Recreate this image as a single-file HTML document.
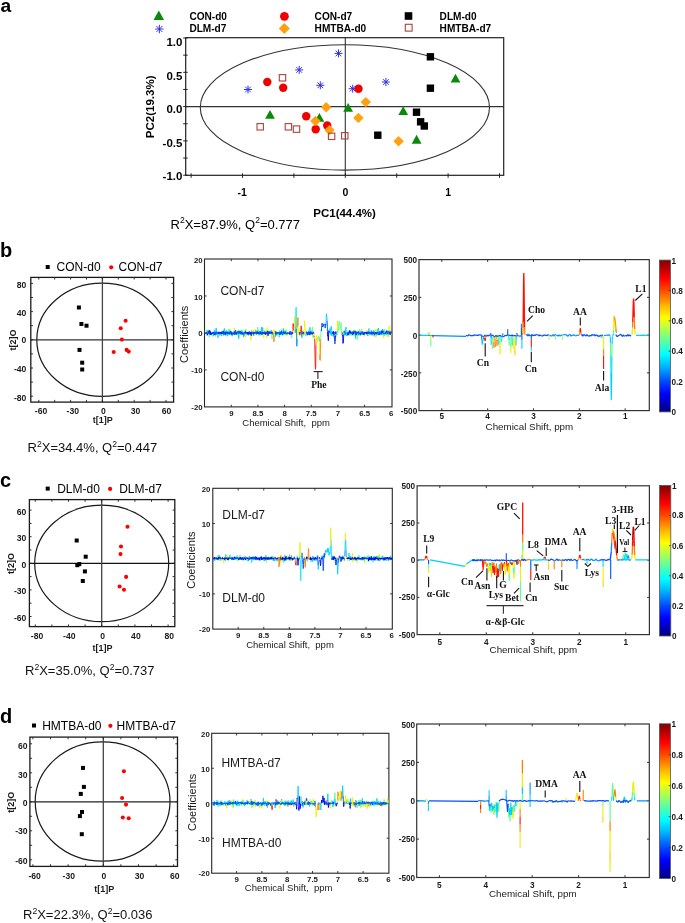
<!DOCTYPE html>
<html><head><meta charset="utf-8"><title>Figure</title>
<style>html,body{margin:0;padding:0;background:#fff;}svg{display:block;filter:blur(0.35px);}</style></head>
<body><svg width="685" height="923" viewBox="0 0 685 923">
<rect width="685" height="923" fill="#fff"/>
<text x="0.6" y="11.6" font-size="19.2" font-family='"Liberation Sans", sans-serif' font-weight="bold" text-anchor="start" fill="#000">a</text>
<ellipse cx="344.9" cy="107.4" rx="144.6" ry="62.7" fill="none" stroke="#333" stroke-width="1.1"/>
<line x1="185.7" y1="106.6" x2="503.7" y2="106.6" stroke="#333" stroke-width="1.1"/>
<line x1="345.3" y1="37.7" x2="345.3" y2="175.3" stroke="#333" stroke-width="1.1"/>
<rect x="185.7" y="37.7" width="318" height="137.6" fill="none" stroke="#222" stroke-width="1.2"/>
<line x1="183.2" y1="175.2" x2="187.7" y2="175.2" stroke="#222" stroke-width="1"/>
<line x1="183.2" y1="158.05" x2="187.7" y2="158.05" stroke="#222" stroke-width="1"/>
<line x1="183.2" y1="140.9" x2="187.7" y2="140.9" stroke="#222" stroke-width="1"/>
<line x1="183.2" y1="123.75" x2="187.7" y2="123.75" stroke="#222" stroke-width="1"/>
<line x1="183.2" y1="106.6" x2="187.7" y2="106.6" stroke="#222" stroke-width="1"/>
<line x1="183.2" y1="89.45" x2="187.7" y2="89.45" stroke="#222" stroke-width="1"/>
<line x1="183.2" y1="72.3" x2="187.7" y2="72.3" stroke="#222" stroke-width="1"/>
<line x1="183.2" y1="55.15" x2="187.7" y2="55.15" stroke="#222" stroke-width="1"/>
<line x1="183.2" y1="38" x2="187.7" y2="38" stroke="#222" stroke-width="1"/>
<line x1="191.1" y1="173.3" x2="191.1" y2="177.8" stroke="#222" stroke-width="1"/>
<line x1="242.5" y1="173.3" x2="242.5" y2="177.8" stroke="#222" stroke-width="1"/>
<line x1="293.9" y1="173.3" x2="293.9" y2="177.8" stroke="#222" stroke-width="1"/>
<line x1="345.3" y1="173.3" x2="345.3" y2="177.8" stroke="#222" stroke-width="1"/>
<line x1="396.7" y1="173.3" x2="396.7" y2="177.8" stroke="#222" stroke-width="1"/>
<line x1="448.1" y1="173.3" x2="448.1" y2="177.8" stroke="#222" stroke-width="1"/>
<line x1="499.5" y1="173.3" x2="499.5" y2="177.8" stroke="#222" stroke-width="1"/>
<text x="182.4" y="45.82" font-size="11.5" font-family='"Liberation Sans", sans-serif' font-weight="bold" text-anchor="end" fill="#000">1.0</text>
<text x="182.4" y="79.52" font-size="11.5" font-family='"Liberation Sans", sans-serif' font-weight="bold" text-anchor="end" fill="#000">0.5</text>
<text x="182.4" y="113.32" font-size="11.5" font-family='"Liberation Sans", sans-serif' font-weight="bold" text-anchor="end" fill="#000">0.0</text>
<text x="182.4" y="147.12" font-size="11.5" font-family='"Liberation Sans", sans-serif' font-weight="bold" text-anchor="end" fill="#000">-0.5</text>
<text x="182.4" y="180.12" font-size="11.5" font-family='"Liberation Sans", sans-serif' font-weight="bold" text-anchor="end" fill="#000">-1.0</text>
<text x="242.2" y="195.56" font-size="10.5" font-family='"Liberation Sans", sans-serif' font-weight="bold" text-anchor="middle" fill="#000">-1</text>
<text x="345.3" y="195.56" font-size="10.5" font-family='"Liberation Sans", sans-serif' font-weight="bold" text-anchor="middle" fill="#000">0</text>
<text x="448.2" y="195.56" font-size="10.5" font-family='"Liberation Sans", sans-serif' font-weight="bold" text-anchor="middle" fill="#000">1</text>
<text x="344.6" y="216.52" font-size="11.5" font-family='"Liberation Sans", sans-serif' font-weight="bold" text-anchor="middle" fill="#000">PC1(44.4%)</text>
<text x="149.7" y="110.92" font-size="11.5" font-family='"Liberation Sans", sans-serif' font-weight="bold" text-anchor="middle" fill="#000" transform="rotate(-90 149.7 106.8)">PC2(19.3%)</text>
<text x="170.5" y="228.6" font-size="13" font-family='"Liberation Sans", sans-serif'>R<tspan font-size="8.6" dy="-5.2">2</tspan><tspan dy="5.2">X=87.9%, Q</tspan><tspan font-size="8.6" dy="-5.2">2</tspan><tspan dy="5.2">=0.777</tspan></text>
<polygon points="158.8,10.53 153.55,19.98 164.05,19.98" fill="#0a8a0a"/>
<path d="M155.2 29L163.6 29M156.43 26.03L162.37 31.97M159.4 24.8L159.4 33.2M162.37 26.03L156.43 31.97" stroke="#2a2ae6" stroke-width="0.95" fill="none"/>
<circle cx="284.4" cy="16.3" r="4.4" fill="#f00000"/>
<polygon points="284.3,23 289.8,28.5 284.3,34 278.8,28.5" fill="#ffa010"/>
<rect x="404.7" y="12.2" width="7.6" height="7.6" fill="#000" stroke="none" stroke-width="1"/>
<rect x="405.3" y="24.3" width="6.8" height="6.8" fill="#fff" stroke="#b0403a" stroke-width="1.1"/>
<text x="189.4" y="20.3" font-size="10.1" font-family='"Liberation Sans", sans-serif' font-weight="bold" text-anchor="start" fill="#000">CON-d0</text>
<text x="189.4" y="32" font-size="10.1" font-family='"Liberation Sans", sans-serif' font-weight="bold" text-anchor="start" fill="#000">DLM-d7</text>
<text x="314.6" y="20.3" font-size="10.1" font-family='"Liberation Sans", sans-serif' font-weight="bold" text-anchor="start" fill="#000">CON-d7</text>
<text x="314.6" y="32" font-size="10.1" font-family='"Liberation Sans", sans-serif' font-weight="bold" text-anchor="start" fill="#000">HMTBA-d0</text>
<text x="439.6" y="20.3" font-size="10.1" font-family='"Liberation Sans", sans-serif' font-weight="bold" text-anchor="start" fill="#000">DLM-d0</text>
<text x="439.6" y="32" font-size="10.1" font-family='"Liberation Sans", sans-serif' font-weight="bold" text-anchor="start" fill="#000">HMTBA-d7</text>
<path d="M244 89.5L252 89.5M245.17 86.67L250.83 92.33M248 85.5L248 93.5M250.83 86.67L245.17 92.33" stroke="#2a2ae6" stroke-width="0.95" fill="none"/>
<path d="M295.2 69.9L303.2 69.9M296.37 67.07L302.03 72.73M299.2 65.9L299.2 73.9M302.03 67.07L296.37 72.73" stroke="#2a2ae6" stroke-width="0.95" fill="none"/>
<path d="M316.3 85.3L324.3 85.3M317.47 82.47L323.13 88.13M320.3 81.3L320.3 89.3M323.13 82.47L317.47 88.13" stroke="#2a2ae6" stroke-width="0.95" fill="none"/>
<path d="M334.5 53.4L342.5 53.4M335.67 50.57L341.33 56.23M338.5 49.4L338.5 57.4M341.33 50.57L335.67 56.23" stroke="#2a2ae6" stroke-width="0.95" fill="none"/>
<path d="M348.7 88.7L356.7 88.7M349.87 85.87L355.53 91.53M352.7 84.7L352.7 92.7M355.53 85.87L349.87 91.53" stroke="#2a2ae6" stroke-width="0.95" fill="none"/>
<path d="M381.9 82L389.9 82M383.07 79.17L388.73 84.83M385.9 78L385.9 86M388.73 79.17L383.07 84.83" stroke="#2a2ae6" stroke-width="0.95" fill="none"/>
<polygon points="270,109.91 265.1,118.73 274.9,118.73" fill="#0a8a0a"/>
<polygon points="319.4,113.01 314.5,121.83 324.3,121.83" fill="#0a8a0a"/>
<polygon points="348.1,102.91 343.2,111.73 353,111.73" fill="#0a8a0a"/>
<polygon points="403.2,106.21 398.3,115.03 408.1,115.03" fill="#0a8a0a"/>
<polygon points="416.6,134.81 411.7,143.63 421.5,143.63" fill="#0a8a0a"/>
<polygon points="455.5,73.71 450.6,82.53 460.4,82.53" fill="#0a8a0a"/>
<circle cx="267.3" cy="82" r="4.2" fill="#f00000"/>
<circle cx="283.2" cy="87.8" r="4.2" fill="#f00000"/>
<circle cx="306.2" cy="116.3" r="4.2" fill="#f00000"/>
<circle cx="327.2" cy="125.5" r="4.2" fill="#f00000"/>
<circle cx="315.7" cy="129.3" r="4.2" fill="#f00000"/>
<circle cx="358.5" cy="88.7" r="4.2" fill="#f00000"/>
<rect x="426.7" y="53.1" width="7.4" height="7.4" fill="#000" stroke="none" stroke-width="1"/>
<rect x="426.7" y="84.5" width="7.4" height="7.4" fill="#000" stroke="none" stroke-width="1"/>
<rect x="412.8" y="108.5" width="7.4" height="7.4" fill="#000" stroke="none" stroke-width="1"/>
<rect x="416.9" y="118.1" width="7.4" height="7.4" fill="#000" stroke="none" stroke-width="1"/>
<rect x="420.6" y="122.3" width="7.4" height="7.4" fill="#000" stroke="none" stroke-width="1"/>
<rect x="374.1" y="131.5" width="7.4" height="7.4" fill="#000" stroke="none" stroke-width="1"/>
<polygon points="326.2,102 331.4,107.2 326.2,112.4 321,107.2" fill="#ffa010"/>
<polygon points="315.4,115.8 320.6,121 315.4,126.2 310.2,121" fill="#ffa010"/>
<polygon points="329.5,124.9 334.7,130.1 329.5,135.3 324.3,130.1" fill="#ffa010"/>
<polygon points="365.8,96.9 371,102.1 365.8,107.3 360.6,102.1" fill="#ffa010"/>
<polygon points="358.4,112.7 363.6,117.9 358.4,123.1 353.2,117.9" fill="#ffa010"/>
<polygon points="398.6,136 403.8,141.2 398.6,146.4 393.4,141.2" fill="#ffa010"/>
<rect x="279.3" y="74.6" width="6.4" height="6.4" fill="none" stroke="#b0403a" stroke-width="1.1"/>
<rect x="257" y="123.6" width="6.4" height="6.4" fill="none" stroke="#b0403a" stroke-width="1.1"/>
<rect x="285.2" y="123.6" width="6.4" height="6.4" fill="none" stroke="#b0403a" stroke-width="1.1"/>
<rect x="293.3" y="125.9" width="6.4" height="6.4" fill="none" stroke="#b0403a" stroke-width="1.1"/>
<rect x="328.4" y="133.1" width="6.4" height="6.4" fill="none" stroke="#b0403a" stroke-width="1.1"/>
<rect x="341.6" y="132.6" width="6.4" height="6.4" fill="none" stroke="#b0403a" stroke-width="1.1"/>
<text x="0" y="256.8" font-size="20" font-family='"Liberation Sans", sans-serif' font-weight="bold" text-anchor="start" fill="#000">b</text>
<rect x="45.7" y="265" width="4" height="4" fill="#000" stroke="none" stroke-width="1"/>
<text x="56.6" y="271.3" font-size="12" font-family='"Liberation Sans", sans-serif' text-anchor="start" fill="#000">CON-d0</text>
<circle cx="111.2" cy="267.3" r="2.1" fill="#f00"/>
<text x="118.5" y="271.3" font-size="12" font-family='"Liberation Sans", sans-serif' text-anchor="start" fill="#000">CON-d7</text>
<ellipse cx="102.1" cy="339.8" rx="65.3" ry="56.6" fill="none" stroke="#1a1a1a" stroke-width="1.2"/>
<line x1="30.8" y1="339.8" x2="173.6" y2="339.8" stroke="#333" stroke-width="1.3"/>
<line x1="102.4" y1="277.4" x2="102.4" y2="402.1" stroke="#444" stroke-width="1.3"/>
<rect x="30.8" y="277.4" width="142.8" height="124.7" fill="none" stroke="#1a1a1a" stroke-width="1.3"/>
<line x1="30.8" y1="339.8" x2="33" y2="339.8" stroke="#222" stroke-width="0.9"/>
<line x1="171.4" y1="339.8" x2="173.6" y2="339.8" stroke="#222" stroke-width="0.9"/>
<line x1="30.8" y1="353.9" x2="33" y2="353.9" stroke="#222" stroke-width="0.9"/>
<line x1="171.4" y1="353.9" x2="173.6" y2="353.9" stroke="#222" stroke-width="0.9"/>
<line x1="30.8" y1="368" x2="33" y2="368" stroke="#222" stroke-width="0.9"/>
<line x1="171.4" y1="368" x2="173.6" y2="368" stroke="#222" stroke-width="0.9"/>
<line x1="30.8" y1="382.1" x2="33" y2="382.1" stroke="#222" stroke-width="0.9"/>
<line x1="171.4" y1="382.1" x2="173.6" y2="382.1" stroke="#222" stroke-width="0.9"/>
<line x1="30.8" y1="396.2" x2="33" y2="396.2" stroke="#222" stroke-width="0.9"/>
<line x1="171.4" y1="396.2" x2="173.6" y2="396.2" stroke="#222" stroke-width="0.9"/>
<line x1="30.8" y1="325.7" x2="33" y2="325.7" stroke="#222" stroke-width="0.9"/>
<line x1="171.4" y1="325.7" x2="173.6" y2="325.7" stroke="#222" stroke-width="0.9"/>
<line x1="30.8" y1="311.6" x2="33" y2="311.6" stroke="#222" stroke-width="0.9"/>
<line x1="171.4" y1="311.6" x2="173.6" y2="311.6" stroke="#222" stroke-width="0.9"/>
<line x1="30.8" y1="297.5" x2="33" y2="297.5" stroke="#222" stroke-width="0.9"/>
<line x1="171.4" y1="297.5" x2="173.6" y2="297.5" stroke="#222" stroke-width="0.9"/>
<line x1="30.8" y1="283.4" x2="33" y2="283.4" stroke="#222" stroke-width="0.9"/>
<line x1="171.4" y1="283.4" x2="173.6" y2="283.4" stroke="#222" stroke-width="0.9"/>
<line x1="102.4" y1="399.9" x2="102.4" y2="402.1" stroke="#222" stroke-width="0.9"/>
<line x1="102.4" y1="277.4" x2="102.4" y2="279.6" stroke="#222" stroke-width="0.9"/>
<line x1="118.3" y1="399.9" x2="118.3" y2="402.1" stroke="#222" stroke-width="0.9"/>
<line x1="118.3" y1="277.4" x2="118.3" y2="279.6" stroke="#222" stroke-width="0.9"/>
<line x1="134.2" y1="399.9" x2="134.2" y2="402.1" stroke="#222" stroke-width="0.9"/>
<line x1="134.2" y1="277.4" x2="134.2" y2="279.6" stroke="#222" stroke-width="0.9"/>
<line x1="150.1" y1="399.9" x2="150.1" y2="402.1" stroke="#222" stroke-width="0.9"/>
<line x1="150.1" y1="277.4" x2="150.1" y2="279.6" stroke="#222" stroke-width="0.9"/>
<line x1="166" y1="399.9" x2="166" y2="402.1" stroke="#222" stroke-width="0.9"/>
<line x1="166" y1="277.4" x2="166" y2="279.6" stroke="#222" stroke-width="0.9"/>
<line x1="86.5" y1="399.9" x2="86.5" y2="402.1" stroke="#222" stroke-width="0.9"/>
<line x1="86.5" y1="277.4" x2="86.5" y2="279.6" stroke="#222" stroke-width="0.9"/>
<line x1="70.6" y1="399.9" x2="70.6" y2="402.1" stroke="#222" stroke-width="0.9"/>
<line x1="70.6" y1="277.4" x2="70.6" y2="279.6" stroke="#222" stroke-width="0.9"/>
<line x1="54.7" y1="399.9" x2="54.7" y2="402.1" stroke="#222" stroke-width="0.9"/>
<line x1="54.7" y1="277.4" x2="54.7" y2="279.6" stroke="#222" stroke-width="0.9"/>
<line x1="38.8" y1="399.9" x2="38.8" y2="402.1" stroke="#222" stroke-width="0.9"/>
<line x1="38.8" y1="277.4" x2="38.8" y2="279.6" stroke="#222" stroke-width="0.9"/>
<text x="26.4" y="288.08" font-size="8.6" font-family='"Liberation Sans", sans-serif' font-weight="bold" text-anchor="end" fill="#1a1a1a">80</text>
<text x="26.4" y="316.48" font-size="8.6" font-family='"Liberation Sans", sans-serif' font-weight="bold" text-anchor="end" fill="#1a1a1a">40</text>
<text x="26.4" y="342.98" font-size="8.6" font-family='"Liberation Sans", sans-serif' font-weight="bold" text-anchor="end" fill="#1a1a1a">0</text>
<text x="26.4" y="372.28" font-size="8.6" font-family='"Liberation Sans", sans-serif' font-weight="bold" text-anchor="end" fill="#1a1a1a">-40</text>
<text x="26.4" y="400.78" font-size="8.6" font-family='"Liberation Sans", sans-serif' font-weight="bold" text-anchor="end" fill="#1a1a1a">-80</text>
<text x="41" y="414.38" font-size="8.6" font-family='"Liberation Sans", sans-serif' font-weight="bold" text-anchor="middle" fill="#1a1a1a">-60</text>
<text x="72.8" y="414.38" font-size="8.6" font-family='"Liberation Sans", sans-serif' font-weight="bold" text-anchor="middle" fill="#1a1a1a">-30</text>
<text x="103.5" y="414.38" font-size="8.6" font-family='"Liberation Sans", sans-serif' font-weight="bold" text-anchor="middle" fill="#1a1a1a">0</text>
<text x="135.6" y="414.38" font-size="8.6" font-family='"Liberation Sans", sans-serif' font-weight="bold" text-anchor="middle" fill="#1a1a1a">30</text>
<text x="166.5" y="414.38" font-size="8.6" font-family='"Liberation Sans", sans-serif' font-weight="bold" text-anchor="middle" fill="#1a1a1a">60</text>
<text x="102.7" y="423.42" font-size="9" font-family='"Liberation Sans", sans-serif' font-weight="bold" text-anchor="middle" fill="#1a1a1a">t[1]P</text>
<text x="12.5" y="343.22" font-size="9" font-family='"Liberation Sans", sans-serif' font-weight="bold" text-anchor="middle" fill="#1a1a1a" transform="rotate(-90 12.5 340)">t[2]O</text>
<rect x="76.9" y="305.5" width="4" height="4" fill="#000" stroke="none" stroke-width="1"/>
<rect x="79.4" y="322" width="4" height="4" fill="#000" stroke="none" stroke-width="1"/>
<rect x="84.5" y="323.7" width="4" height="4" fill="#000" stroke="none" stroke-width="1"/>
<rect x="77.5" y="347.9" width="4" height="4" fill="#000" stroke="none" stroke-width="1"/>
<rect x="80.2" y="360.7" width="4" height="4" fill="#000" stroke="none" stroke-width="1"/>
<rect x="80.2" y="367.5" width="4" height="4" fill="#000" stroke="none" stroke-width="1"/>
<circle cx="125.6" cy="320.7" r="2.05" fill="#f00"/>
<circle cx="120.7" cy="328.3" r="2.05" fill="#f00"/>
<circle cx="121.9" cy="339.6" r="2.05" fill="#f00"/>
<circle cx="126.6" cy="349.9" r="2.05" fill="#f00"/>
<circle cx="128.7" cy="351.6" r="2.05" fill="#f00"/>
<circle cx="113.7" cy="352" r="2.05" fill="#f00"/>
<text x="27.6" y="451.9" font-size="13" font-family='"Liberation Sans", sans-serif' fill="#111">R<tspan font-size="8.6" dy="-5.2">2</tspan><tspan dy="5.2">X=34.4%, Q</tspan><tspan font-size="8.6" dy="-5.2">2</tspan><tspan dy="5.2">=0.447</tspan></text>
<text x="0" y="486.6" font-size="20" font-family='"Liberation Sans", sans-serif' font-weight="bold" text-anchor="start" fill="#000">c</text>
<rect x="45.7" y="486.6" width="4" height="4" fill="#000" stroke="none" stroke-width="1"/>
<text x="57.2" y="492.9" font-size="12" font-family='"Liberation Sans", sans-serif' text-anchor="start" fill="#000">DLM-d0</text>
<circle cx="110.1" cy="488.9" r="2.1" fill="#f00"/>
<text x="119.2" y="492.9" font-size="12" font-family='"Liberation Sans", sans-serif' text-anchor="start" fill="#000">DLM-d7</text>
<ellipse cx="101.7" cy="563.45" rx="67" ry="58.25" fill="none" stroke="#1a1a1a" stroke-width="1.2"/>
<line x1="29.4" y1="563.3" x2="174.8" y2="563.3" stroke="#111" stroke-width="1.3"/>
<line x1="101.7" y1="499.6" x2="101.7" y2="626.6" stroke="#444" stroke-width="1.3"/>
<rect x="29.4" y="499.6" width="145.4" height="127" fill="none" stroke="#1a1a1a" stroke-width="1.3"/>
<line x1="29.4" y1="563.3" x2="31.6" y2="563.3" stroke="#222" stroke-width="0.9"/>
<line x1="172.6" y1="563.3" x2="174.8" y2="563.3" stroke="#222" stroke-width="0.9"/>
<line x1="29.4" y1="576.6" x2="31.6" y2="576.6" stroke="#222" stroke-width="0.9"/>
<line x1="172.6" y1="576.6" x2="174.8" y2="576.6" stroke="#222" stroke-width="0.9"/>
<line x1="29.4" y1="589.9" x2="31.6" y2="589.9" stroke="#222" stroke-width="0.9"/>
<line x1="172.6" y1="589.9" x2="174.8" y2="589.9" stroke="#222" stroke-width="0.9"/>
<line x1="29.4" y1="603.2" x2="31.6" y2="603.2" stroke="#222" stroke-width="0.9"/>
<line x1="172.6" y1="603.2" x2="174.8" y2="603.2" stroke="#222" stroke-width="0.9"/>
<line x1="29.4" y1="616.5" x2="31.6" y2="616.5" stroke="#222" stroke-width="0.9"/>
<line x1="172.6" y1="616.5" x2="174.8" y2="616.5" stroke="#222" stroke-width="0.9"/>
<line x1="29.4" y1="550" x2="31.6" y2="550" stroke="#222" stroke-width="0.9"/>
<line x1="172.6" y1="550" x2="174.8" y2="550" stroke="#222" stroke-width="0.9"/>
<line x1="29.4" y1="536.7" x2="31.6" y2="536.7" stroke="#222" stroke-width="0.9"/>
<line x1="172.6" y1="536.7" x2="174.8" y2="536.7" stroke="#222" stroke-width="0.9"/>
<line x1="29.4" y1="523.4" x2="31.6" y2="523.4" stroke="#222" stroke-width="0.9"/>
<line x1="172.6" y1="523.4" x2="174.8" y2="523.4" stroke="#222" stroke-width="0.9"/>
<line x1="29.4" y1="510.1" x2="31.6" y2="510.1" stroke="#222" stroke-width="0.9"/>
<line x1="172.6" y1="510.1" x2="174.8" y2="510.1" stroke="#222" stroke-width="0.9"/>
<line x1="101.7" y1="624.4" x2="101.7" y2="626.6" stroke="#222" stroke-width="0.9"/>
<line x1="101.7" y1="499.6" x2="101.7" y2="501.8" stroke="#222" stroke-width="0.9"/>
<line x1="118.3" y1="624.4" x2="118.3" y2="626.6" stroke="#222" stroke-width="0.9"/>
<line x1="118.3" y1="499.6" x2="118.3" y2="501.8" stroke="#222" stroke-width="0.9"/>
<line x1="134.9" y1="624.4" x2="134.9" y2="626.6" stroke="#222" stroke-width="0.9"/>
<line x1="134.9" y1="499.6" x2="134.9" y2="501.8" stroke="#222" stroke-width="0.9"/>
<line x1="151.5" y1="624.4" x2="151.5" y2="626.6" stroke="#222" stroke-width="0.9"/>
<line x1="151.5" y1="499.6" x2="151.5" y2="501.8" stroke="#222" stroke-width="0.9"/>
<line x1="168.1" y1="624.4" x2="168.1" y2="626.6" stroke="#222" stroke-width="0.9"/>
<line x1="168.1" y1="499.6" x2="168.1" y2="501.8" stroke="#222" stroke-width="0.9"/>
<line x1="85.1" y1="624.4" x2="85.1" y2="626.6" stroke="#222" stroke-width="0.9"/>
<line x1="85.1" y1="499.6" x2="85.1" y2="501.8" stroke="#222" stroke-width="0.9"/>
<line x1="68.5" y1="624.4" x2="68.5" y2="626.6" stroke="#222" stroke-width="0.9"/>
<line x1="68.5" y1="499.6" x2="68.5" y2="501.8" stroke="#222" stroke-width="0.9"/>
<line x1="51.9" y1="624.4" x2="51.9" y2="626.6" stroke="#222" stroke-width="0.9"/>
<line x1="51.9" y1="499.6" x2="51.9" y2="501.8" stroke="#222" stroke-width="0.9"/>
<line x1="35.3" y1="624.4" x2="35.3" y2="626.6" stroke="#222" stroke-width="0.9"/>
<line x1="35.3" y1="499.6" x2="35.3" y2="501.8" stroke="#222" stroke-width="0.9"/>
<text x="26.3" y="514.88" font-size="8.6" font-family='"Liberation Sans", sans-serif' font-weight="bold" text-anchor="end" fill="#1a1a1a">60</text>
<text x="26.3" y="541.48" font-size="8.6" font-family='"Liberation Sans", sans-serif' font-weight="bold" text-anchor="end" fill="#1a1a1a">30</text>
<text x="26.3" y="568.08" font-size="8.6" font-family='"Liberation Sans", sans-serif' font-weight="bold" text-anchor="end" fill="#1a1a1a">0</text>
<text x="26.3" y="594.28" font-size="8.6" font-family='"Liberation Sans", sans-serif' font-weight="bold" text-anchor="end" fill="#1a1a1a">-30</text>
<text x="26.3" y="621.48" font-size="8.6" font-family='"Liberation Sans", sans-serif' font-weight="bold" text-anchor="end" fill="#1a1a1a">-60</text>
<text x="37" y="639.38" font-size="8.6" font-family='"Liberation Sans", sans-serif' font-weight="bold" text-anchor="middle" fill="#1a1a1a">-80</text>
<text x="69.3" y="639.38" font-size="8.6" font-family='"Liberation Sans", sans-serif' font-weight="bold" text-anchor="middle" fill="#1a1a1a">-40</text>
<text x="102.6" y="639.38" font-size="8.6" font-family='"Liberation Sans", sans-serif' font-weight="bold" text-anchor="middle" fill="#1a1a1a">0</text>
<text x="135.9" y="639.38" font-size="8.6" font-family='"Liberation Sans", sans-serif' font-weight="bold" text-anchor="middle" fill="#1a1a1a">40</text>
<text x="169.2" y="639.38" font-size="8.6" font-family='"Liberation Sans", sans-serif' font-weight="bold" text-anchor="middle" fill="#1a1a1a">80</text>
<text x="102.6" y="651.32" font-size="9" font-family='"Liberation Sans", sans-serif' font-weight="bold" text-anchor="middle" fill="#1a1a1a">t[1]P</text>
<text x="10.8" y="566.72" font-size="9" font-family='"Liberation Sans", sans-serif' font-weight="bold" text-anchor="middle" fill="#1a1a1a" transform="rotate(-90 10.8 563.5)">t[2]O</text>
<rect x="74.7" y="538.5" width="4" height="4" fill="#000" stroke="none" stroke-width="1"/>
<rect x="83.7" y="554.7" width="4" height="4" fill="#000" stroke="none" stroke-width="1"/>
<rect x="77.3" y="562.1" width="4" height="4" fill="#000" stroke="none" stroke-width="1"/>
<rect x="75.3" y="563.2" width="4" height="4" fill="#000" stroke="none" stroke-width="1"/>
<rect x="82.9" y="569.4" width="4" height="4" fill="#000" stroke="none" stroke-width="1"/>
<rect x="80.8" y="579" width="4" height="4" fill="#000" stroke="none" stroke-width="1"/>
<circle cx="127.5" cy="526.7" r="2.05" fill="#f00"/>
<circle cx="121" cy="546.5" r="2.05" fill="#f00"/>
<circle cx="120.5" cy="554.1" r="2.05" fill="#f00"/>
<circle cx="126.1" cy="576.9" r="2.05" fill="#f00"/>
<circle cx="119.6" cy="586.5" r="2.05" fill="#f00"/>
<circle cx="124" cy="589.7" r="2.05" fill="#f00"/>
<text x="25" y="675" font-size="13" font-family='"Liberation Sans", sans-serif' fill="#111">R<tspan font-size="8.6" dy="-5.2">2</tspan><tspan dy="5.2">X=35.0%, Q</tspan><tspan font-size="8.6" dy="-5.2">2</tspan><tspan dy="5.2">=0.737</tspan></text>
<text x="0" y="722.8" font-size="20" font-family='"Liberation Sans", sans-serif' font-weight="bold" text-anchor="start" fill="#000">d</text>
<rect x="32" y="723.5" width="4" height="4" fill="#000" stroke="none" stroke-width="1"/>
<text x="42.2" y="729.8" font-size="12" font-family='"Liberation Sans", sans-serif' text-anchor="start" fill="#000">HMTBA-d0</text>
<circle cx="110.4" cy="725.8" r="2.1" fill="#f00"/>
<text x="116.5" y="729.8" font-size="12" font-family='"Liberation Sans", sans-serif' text-anchor="start" fill="#000">HMTBA-d7</text>
<ellipse cx="102.6" cy="801.55" rx="67.4" ry="59.65" fill="none" stroke="#1a1a1a" stroke-width="1.2"/>
<line x1="29.9" y1="801.8" x2="177.5" y2="801.8" stroke="#222" stroke-width="1.3"/>
<line x1="103.3" y1="737.1" x2="103.3" y2="866.4" stroke="#444" stroke-width="1.3"/>
<rect x="29.9" y="737.1" width="147.6" height="129.3" fill="none" stroke="#1a1a1a" stroke-width="1.3"/>
<line x1="29.9" y1="801.8" x2="32.1" y2="801.8" stroke="#222" stroke-width="0.9"/>
<line x1="175.3" y1="801.8" x2="177.5" y2="801.8" stroke="#222" stroke-width="0.9"/>
<line x1="29.9" y1="816.3" x2="32.1" y2="816.3" stroke="#222" stroke-width="0.9"/>
<line x1="175.3" y1="816.3" x2="177.5" y2="816.3" stroke="#222" stroke-width="0.9"/>
<line x1="29.9" y1="830.8" x2="32.1" y2="830.8" stroke="#222" stroke-width="0.9"/>
<line x1="175.3" y1="830.8" x2="177.5" y2="830.8" stroke="#222" stroke-width="0.9"/>
<line x1="29.9" y1="845.3" x2="32.1" y2="845.3" stroke="#222" stroke-width="0.9"/>
<line x1="175.3" y1="845.3" x2="177.5" y2="845.3" stroke="#222" stroke-width="0.9"/>
<line x1="29.9" y1="859.8" x2="32.1" y2="859.8" stroke="#222" stroke-width="0.9"/>
<line x1="175.3" y1="859.8" x2="177.5" y2="859.8" stroke="#222" stroke-width="0.9"/>
<line x1="29.9" y1="787.3" x2="32.1" y2="787.3" stroke="#222" stroke-width="0.9"/>
<line x1="175.3" y1="787.3" x2="177.5" y2="787.3" stroke="#222" stroke-width="0.9"/>
<line x1="29.9" y1="772.8" x2="32.1" y2="772.8" stroke="#222" stroke-width="0.9"/>
<line x1="175.3" y1="772.8" x2="177.5" y2="772.8" stroke="#222" stroke-width="0.9"/>
<line x1="29.9" y1="758.3" x2="32.1" y2="758.3" stroke="#222" stroke-width="0.9"/>
<line x1="175.3" y1="758.3" x2="177.5" y2="758.3" stroke="#222" stroke-width="0.9"/>
<line x1="29.9" y1="743.8" x2="32.1" y2="743.8" stroke="#222" stroke-width="0.9"/>
<line x1="175.3" y1="743.8" x2="177.5" y2="743.8" stroke="#222" stroke-width="0.9"/>
<line x1="103.3" y1="864.2" x2="103.3" y2="866.4" stroke="#222" stroke-width="0.9"/>
<line x1="103.3" y1="737.1" x2="103.3" y2="739.3" stroke="#222" stroke-width="0.9"/>
<line x1="120.9" y1="864.2" x2="120.9" y2="866.4" stroke="#222" stroke-width="0.9"/>
<line x1="120.9" y1="737.1" x2="120.9" y2="739.3" stroke="#222" stroke-width="0.9"/>
<line x1="138.5" y1="864.2" x2="138.5" y2="866.4" stroke="#222" stroke-width="0.9"/>
<line x1="138.5" y1="737.1" x2="138.5" y2="739.3" stroke="#222" stroke-width="0.9"/>
<line x1="156.1" y1="864.2" x2="156.1" y2="866.4" stroke="#222" stroke-width="0.9"/>
<line x1="156.1" y1="737.1" x2="156.1" y2="739.3" stroke="#222" stroke-width="0.9"/>
<line x1="173.7" y1="864.2" x2="173.7" y2="866.4" stroke="#222" stroke-width="0.9"/>
<line x1="173.7" y1="737.1" x2="173.7" y2="739.3" stroke="#222" stroke-width="0.9"/>
<line x1="85.7" y1="864.2" x2="85.7" y2="866.4" stroke="#222" stroke-width="0.9"/>
<line x1="85.7" y1="737.1" x2="85.7" y2="739.3" stroke="#222" stroke-width="0.9"/>
<line x1="68.1" y1="864.2" x2="68.1" y2="866.4" stroke="#222" stroke-width="0.9"/>
<line x1="68.1" y1="737.1" x2="68.1" y2="739.3" stroke="#222" stroke-width="0.9"/>
<line x1="50.5" y1="864.2" x2="50.5" y2="866.4" stroke="#222" stroke-width="0.9"/>
<line x1="50.5" y1="737.1" x2="50.5" y2="739.3" stroke="#222" stroke-width="0.9"/>
<line x1="32.9" y1="864.2" x2="32.9" y2="866.4" stroke="#222" stroke-width="0.9"/>
<line x1="32.9" y1="737.1" x2="32.9" y2="739.3" stroke="#222" stroke-width="0.9"/>
<text x="27.6" y="749.08" font-size="8.6" font-family='"Liberation Sans", sans-serif' font-weight="bold" text-anchor="end" fill="#1a1a1a">60</text>
<text x="27.6" y="777.58" font-size="8.6" font-family='"Liberation Sans", sans-serif' font-weight="bold" text-anchor="end" fill="#1a1a1a">30</text>
<text x="27.6" y="806.48" font-size="8.6" font-family='"Liberation Sans", sans-serif' font-weight="bold" text-anchor="end" fill="#1a1a1a">0</text>
<text x="27.6" y="834.38" font-size="8.6" font-family='"Liberation Sans", sans-serif' font-weight="bold" text-anchor="end" fill="#1a1a1a">-30</text>
<text x="27.6" y="863.88" font-size="8.6" font-family='"Liberation Sans", sans-serif' font-weight="bold" text-anchor="end" fill="#1a1a1a">-60</text>
<text x="34.6" y="879.18" font-size="8.6" font-family='"Liberation Sans", sans-serif' font-weight="bold" text-anchor="middle" fill="#1a1a1a">-60</text>
<text x="68.8" y="879.18" font-size="8.6" font-family='"Liberation Sans", sans-serif' font-weight="bold" text-anchor="middle" fill="#1a1a1a">-30</text>
<text x="104" y="879.18" font-size="8.6" font-family='"Liberation Sans", sans-serif' font-weight="bold" text-anchor="middle" fill="#1a1a1a">0</text>
<text x="139.5" y="879.18" font-size="8.6" font-family='"Liberation Sans", sans-serif' font-weight="bold" text-anchor="middle" fill="#1a1a1a">30</text>
<text x="174.8" y="879.18" font-size="8.6" font-family='"Liberation Sans", sans-serif' font-weight="bold" text-anchor="middle" fill="#1a1a1a">60</text>
<text x="104.2" y="892.42" font-size="9" font-family='"Liberation Sans", sans-serif' font-weight="bold" text-anchor="middle" fill="#1a1a1a">t[1]P</text>
<text x="10.6" y="805.42" font-size="9" font-family='"Liberation Sans", sans-serif' font-weight="bold" text-anchor="middle" fill="#1a1a1a" transform="rotate(-90 10.6 802.2)">t[2]O</text>
<rect x="81" y="765.9" width="4" height="4" fill="#000" stroke="none" stroke-width="1"/>
<rect x="81.9" y="784.9" width="4" height="4" fill="#000" stroke="none" stroke-width="1"/>
<rect x="78.8" y="791.9" width="4" height="4" fill="#000" stroke="none" stroke-width="1"/>
<rect x="80" y="810" width="4" height="4" fill="#000" stroke="none" stroke-width="1"/>
<rect x="77.9" y="814.1" width="4" height="4" fill="#000" stroke="none" stroke-width="1"/>
<rect x="79.8" y="832.2" width="4" height="4" fill="#000" stroke="none" stroke-width="1"/>
<circle cx="123.9" cy="771.3" r="2.05" fill="#f00"/>
<circle cx="122.1" cy="798" r="2.05" fill="#f00"/>
<circle cx="126" cy="804.6" r="2.05" fill="#f00"/>
<circle cx="122.8" cy="817.5" r="2.05" fill="#f00"/>
<circle cx="128.7" cy="818.2" r="2.05" fill="#f00"/>
<text x="23" y="918.8" font-size="13" font-family='"Liberation Sans", sans-serif' fill="#111">R<tspan font-size="8.6" dy="-5.2">2</tspan><tspan dy="5.2">X=22.3%, Q</tspan><tspan font-size="8.6" dy="-5.2">2</tspan><tspan dy="5.2">=0.036</tspan></text>
<rect x="204.5" y="259" width="187.5" height="147.9" fill="none" stroke="#262626" stroke-width="1.1"/>
<line x1="231.3" y1="406.9" x2="231.3" y2="404.7" stroke="#262626" stroke-width="0.9"/>
<line x1="231.3" y1="259" x2="231.3" y2="261.2" stroke="#262626" stroke-width="0.9"/>
<line x1="257.95" y1="406.9" x2="257.95" y2="404.7" stroke="#262626" stroke-width="0.9"/>
<line x1="257.95" y1="259" x2="257.95" y2="261.2" stroke="#262626" stroke-width="0.9"/>
<line x1="284.6" y1="406.9" x2="284.6" y2="404.7" stroke="#262626" stroke-width="0.9"/>
<line x1="284.6" y1="259" x2="284.6" y2="261.2" stroke="#262626" stroke-width="0.9"/>
<line x1="311.25" y1="406.9" x2="311.25" y2="404.7" stroke="#262626" stroke-width="0.9"/>
<line x1="311.25" y1="259" x2="311.25" y2="261.2" stroke="#262626" stroke-width="0.9"/>
<line x1="337.9" y1="406.9" x2="337.9" y2="404.7" stroke="#262626" stroke-width="0.9"/>
<line x1="337.9" y1="259" x2="337.9" y2="261.2" stroke="#262626" stroke-width="0.9"/>
<line x1="364.55" y1="406.9" x2="364.55" y2="404.7" stroke="#262626" stroke-width="0.9"/>
<line x1="364.55" y1="259" x2="364.55" y2="261.2" stroke="#262626" stroke-width="0.9"/>
<line x1="204.5" y1="295.98" x2="206.7" y2="295.98" stroke="#262626" stroke-width="0.9"/>
<line x1="392" y1="295.98" x2="389.8" y2="295.98" stroke="#262626" stroke-width="0.9"/>
<line x1="204.5" y1="332.95" x2="206.7" y2="332.95" stroke="#262626" stroke-width="0.9"/>
<line x1="392" y1="332.95" x2="389.8" y2="332.95" stroke="#262626" stroke-width="0.9"/>
<line x1="204.5" y1="369.92" x2="206.7" y2="369.92" stroke="#262626" stroke-width="0.9"/>
<line x1="392" y1="369.92" x2="389.8" y2="369.92" stroke="#262626" stroke-width="0.9"/>
<text x="202.6" y="262.89" font-size="7.8" font-family='"Liberation Sans", sans-serif' font-weight="bold" text-anchor="end" fill="#1a1a1a">20</text>
<text x="202.6" y="299.69" font-size="7.8" font-family='"Liberation Sans", sans-serif' font-weight="bold" text-anchor="end" fill="#1a1a1a">10</text>
<text x="202.6" y="336.49" font-size="7.8" font-family='"Liberation Sans", sans-serif' font-weight="bold" text-anchor="end" fill="#1a1a1a">0</text>
<text x="202.6" y="373.39" font-size="7.8" font-family='"Liberation Sans", sans-serif' font-weight="bold" text-anchor="end" fill="#1a1a1a">-10</text>
<text x="202.6" y="410.19" font-size="7.8" font-family='"Liberation Sans", sans-serif' font-weight="bold" text-anchor="end" fill="#1a1a1a">-20</text>
<text x="231.3" y="416.49" font-size="7.8" font-family='"Liberation Sans", sans-serif' font-weight="bold" text-anchor="middle" fill="#1a1a1a">9</text>
<text x="257.95" y="416.49" font-size="7.8" font-family='"Liberation Sans", sans-serif' font-weight="bold" text-anchor="middle" fill="#1a1a1a">8.5</text>
<text x="284.6" y="416.49" font-size="7.8" font-family='"Liberation Sans", sans-serif' font-weight="bold" text-anchor="middle" fill="#1a1a1a">8</text>
<text x="311.25" y="416.49" font-size="7.8" font-family='"Liberation Sans", sans-serif' font-weight="bold" text-anchor="middle" fill="#1a1a1a">7.5</text>
<text x="337.9" y="416.49" font-size="7.8" font-family='"Liberation Sans", sans-serif' font-weight="bold" text-anchor="middle" fill="#1a1a1a">7</text>
<text x="364.55" y="416.49" font-size="7.8" font-family='"Liberation Sans", sans-serif' font-weight="bold" text-anchor="middle" fill="#1a1a1a">6.5</text>
<text x="391.2" y="416.49" font-size="7.8" font-family='"Liberation Sans", sans-serif' font-weight="bold" text-anchor="middle" fill="#1a1a1a">6</text>
<text x="183.7" y="338.24" font-size="11" font-family='"Liberation Sans", sans-serif' text-anchor="middle" fill="#1a1a1a" transform="rotate(-90 183.7 334.3)">Coefficients</text>
<text x="220.4" y="294.6" font-size="12" font-family='"Liberation Sans", sans-serif' text-anchor="start" fill="#1a1a1a">CON-d7</text>
<text x="220.4" y="380.9" font-size="12" font-family='"Liberation Sans", sans-serif' text-anchor="start" fill="#1a1a1a">CON-d0</text>
<text x="286.1" y="425.7" font-size="9.5" font-family='"Liberation Sans", sans-serif' text-anchor="middle" fill="#1a1a1a">Chemical Shift,&#160; ppm</text>
<path d="M205.2 330.43L205.45 333.79M207.95 333.5L208.2 330.79M208.2 330.79L208.45 333.51M210.2 334.18L210.45 331.29M210.45 331.29L210.7 334.44M210.7 334.44L210.95 333M212.45 331.95L212.7 336.49M212.7 336.49L212.95 334.38M214.95 335.54L215.2 332.81M215.2 332.81L215.45 336.61M215.45 336.61L215.7 335.34M216.45 334.54L216.7 333.5M217.2 333L217.45 334.36M217.45 334.36L217.7 334.69M224.7 334.5L224.95 331.42M224.95 331.42L225.2 330.36M225.2 330.36L225.45 331.7M226.45 335.21L226.7 333M228.45 334.22L228.7 328.86M228.7 328.86L228.95 334.58M230.2 335.12L230.45 329.51M230.45 329.51L230.7 331.4M231.2 331.28L231.45 331.26M234.2 334.87L234.45 328.04M234.45 328.04L234.7 333.13M236.7 334.58L236.95 334.68M236.95 334.68L237.2 331.05M237.2 331.05L237.45 334.9M238.2 334.25L238.45 330.26M238.95 332.29L239.2 336.49M239.2 336.49L239.45 330.79M240.95 333.92L241.2 334.72M242.7 332.22L242.95 334.9M242.95 334.9L243.2 334.06M244.45 332.52L244.7 329.79M244.7 329.79L244.95 333.18M244.95 333.18L245.2 337.59M245.2 337.59L245.45 331.73M246.2 334.05L246.45 335.72M246.45 335.72L246.7 334.37M248.95 332.77L249.2 331.34M250.45 331.95L250.7 334.49M250.7 334.49L250.95 340.37M250.95 340.37L251.2 332.76M251.2 332.76L251.45 331.39M251.45 331.39L251.7 329.73M251.7 329.73L251.95 334.75M252.95 332.79L253.2 329.81M253.2 329.81L253.45 332.94M254.2 333.57L254.45 334.3M254.45 334.3L254.7 333.84M254.95 332.58L255.2 329.53M255.2 329.53L255.45 333.84M255.95 334.21L256.2 333.97M256.7 334.28L256.95 335.17M256.95 335.17L257.2 331.83M257.2 331.83L257.45 329M258.2 332.87L258.45 329.36M258.45 329.36L258.7 335.36M260.45 331.35L260.7 330.96M260.7 330.96L260.95 332.57M262.2 334.3L262.45 333.93M263.45 332.22L263.7 337.65M263.7 337.65L263.95 334.36M263.95 334.36L264.2 330.11M264.2 330.11L264.45 333.08M264.45 333.08L264.7 330.21M264.7 330.21L264.95 332.53M266.45 330.91L266.7 338.04M266.7 338.04L266.95 332.64M266.95 332.64L267.2 327.41M267.2 327.41L267.45 333.79M269.7 333.45L269.95 330.46M269.95 330.46L270.2 333.08M272.95 334.58L273.2 330.31M274.45 329.58L274.7 334.1M274.7 334.1L274.95 330.27M274.95 330.27L275.2 332.81M275.7 331.79L275.95 335.36M275.95 335.36L276.2 332.35M279.7 332.13L279.95 334.93M279.95 334.93L280.2 333.02M281.7 333.24L281.95 328.67M281.95 328.67L282.2 330.39M283.7 332.92L283.95 329.96M283.95 329.96L284.2 329.46M284.2 329.46L284.45 332.52M285.2 334.86L285.45 331.9M285.45 331.9L285.7 335.3M286.45 332.51L286.7 335.1M286.7 335.1L286.95 335.74M286.95 335.74L287.2 331.45M287.2 331.45L287.45 333.79M290.7 331.38L290.95 333.21M290.95 333.21L291.2 331.55M291.95 334.57L292.2 331.33M292.2 331.33L292.45 332.81M298.95 334.38L299.2 329.45M299.2 329.45L299.45 330.85M299.45 330.85L299.7 336.31M299.7 336.31L299.95 335.12M302.45 334.94L302.7 334.5M302.7 334.5L302.95 330.32M302.95 330.32L303.2 333.21M303.2 333.21L303.45 335.7M303.45 335.7L303.7 333.43M312.7 334.81L312.95 338.01M312.95 338.01L313.2 333.42M313.2 333.42L313.45 336.19M313.45 336.19L313.7 332.09M313.7 332.09L313.95 335.6M328.95 331.32L329.2 330.72M329.2 330.72L329.45 332.6M335.95 334.19L336.2 337.41M336.2 337.41L336.45 333.86M341.7 334.73L341.95 330.53M341.95 330.53L342.2 334.38M344.45 331.14L344.7 332.16M353.95 331.23L354.2 336.31M354.2 336.31L354.45 335.05M354.7 334.8L354.95 329.78M354.95 329.78L355.2 334.17M355.95 332.9L356.2 334.51M356.2 334.51L356.45 333.38M359.7 329.84L359.95 335.52M361.2 331.2L361.45 329.22M361.45 329.22L361.7 332.28M362.2 333.68L362.45 334.49M362.45 334.49L362.7 332.64M363.95 332.76L364.2 336.77M364.2 336.77L364.45 335.17M366.2 332.52L366.45 329.93M366.45 329.93L366.7 332.5M366.7 332.5L366.95 330.92M366.95 330.92L367.2 332.5M368.2 332.07L368.45 335.99M368.45 335.99L368.7 330.38M374.45 331.72L374.7 331.54M374.7 331.54L374.95 333.85M374.95 333.85L375.2 329.61M375.2 329.61L375.45 336.11M375.45 336.11L375.7 329.31M375.7 329.31L375.95 337.43M375.95 337.43L376.2 333.01M377.95 331.81L378.2 330.9M379.95 335.27L380.2 335.63M380.2 335.63L380.45 334.97M380.7 331.76L380.95 333.15M383.45 335.18L383.7 338.19M383.7 338.19L383.95 330.98M386.95 335.07L387.2 336.82M387.2 336.82L387.45 336.05M387.45 336.05L387.7 335.69M387.7 335.69L387.95 333.33M388.45 335.39L388.7 337.08M388.7 337.08L388.95 334.75M388.95 334.75L389.2 325.85M389.2 325.85L389.45 333.75M389.45 333.75L389.7 329.73M389.7 329.73L389.95 334.95M390.2 331.38L390.45 330.55M390.45 330.55L390.7 335.27M390.7 335.27L390.95 332.92" stroke="#f0f000" stroke-width="0.9" fill="none" stroke-linejoin="round"/>
<path d="M205.45 333.79L205.7 331.86M205.7 331.86L205.95 332.3M205.95 332.3L206.2 333.25M207.2 331.35L207.45 330.61M207.45 330.61L207.7 334.27M207.7 334.27L207.95 333.5M208.45 333.51L208.7 329.91M208.7 329.91L208.95 333M209.45 332.89L209.7 332.81M210.95 333L211.2 335.1M211.2 335.1L211.45 332.74M211.45 332.74L211.7 332.89M212.95 334.38L213.2 334.24M213.2 334.24L213.45 336.17M213.45 336.17L213.7 331.72M213.7 331.72L213.95 333.69M214.2 333.59L214.45 331.31M214.45 331.31L214.7 329.75M214.7 329.75L214.95 335.54M215.7 335.34L215.95 334.49M215.95 334.49L216.2 327.92M216.2 327.92L216.45 334.54M216.7 333.5L216.95 334.11M216.95 334.11L217.2 333M217.7 334.69L217.95 337.86M217.95 337.86L218.2 333.47M218.45 333.36L218.7 332.54M219.2 332.65L219.45 334.26M219.45 334.26L219.7 333.36M219.7 333.36L219.95 335.66M219.95 335.66L220.2 334.23M220.2 334.23L220.45 332.3M221.45 332.51L221.7 336.05M221.7 336.05L221.95 332.62M222.45 333.09L222.7 333.42M222.7 333.42L222.95 332.9M223.2 332.78L223.45 331.17M223.95 332.02L224.2 334.25M224.2 334.25L224.45 328.51M224.45 328.51L224.7 334.5M225.95 334.45L226.2 330.38M226.2 330.38L226.45 335.21M227.2 333.4L227.45 336.23M227.45 336.23L227.7 332.99M227.7 332.99L227.95 333.32M229.45 334.6L229.7 331.41M229.7 331.41L229.95 332.09M230.7 331.4L230.95 333.51M230.95 333.51L231.2 331.28M231.45 331.26L231.7 335.29M231.7 335.29L231.95 332.74M231.95 332.74L232.2 336.19M232.2 336.19L232.45 333.85M233.2 333.74L233.45 331.64M234.7 333.13L234.95 333.28M238.45 330.26L238.7 338.74M238.7 338.74L238.95 332.29M239.45 330.79L239.7 333.28M240.7 333.76L240.95 333.92M241.2 334.72L241.45 330.29M241.45 330.29L241.7 334.27M243.2 334.06L243.45 336.96M243.45 336.96L243.7 333.79M243.95 335.48L244.2 335.48M244.2 335.48L244.45 332.52M245.95 334.56L246.2 334.05M246.7 334.37L246.95 333.2M246.95 333.2L247.2 332.14M247.2 332.14L247.45 334.77M247.45 334.77L247.7 332.87M248.2 333.83L248.45 335.44M248.45 335.44L248.7 331.78M248.7 331.78L248.95 332.77M249.7 333.95L249.95 331.8M249.95 331.8L250.2 334.5M250.2 334.5L250.45 331.95M252.45 333.16L252.7 334.02M252.7 334.02L252.95 332.79M255.45 333.84L255.7 330.42M255.7 330.42L255.95 334.21M256.2 333.97L256.45 335.1M256.45 335.1L256.7 334.28M258.95 330.78L259.2 334.73M259.7 331.15L259.95 335.36M259.95 335.36L260.2 332.04M261.2 333.43L261.45 327.14M261.45 327.14L261.7 332.91M261.7 332.91L261.95 335.13M261.95 335.13L262.2 334.3M262.45 333.93L262.7 327.52M262.7 327.52L262.95 332.73M262.95 332.73L263.2 333.31M263.2 333.31L263.45 332.22M265.45 332.36L265.7 334.57M265.7 334.57L265.95 333.14M268.45 334.94L268.7 331.93M270.2 333.08L270.45 334.03M270.45 334.03L270.7 331.6M270.7 331.6L270.95 331.6M272.2 334.55L272.45 333.62M272.45 333.62L272.7 335.1M272.7 335.1L272.95 334.58M275.2 332.81L275.45 336.82M275.45 336.82L275.7 331.79M276.95 334.35L277.2 333.13M277.2 333.13L277.45 332.18M277.95 333.88L278.2 332.76M278.2 332.76L278.45 334.14M278.45 334.14L278.7 332.3M278.7 332.3L278.95 333.78M280.2 333.02L280.45 334.99M280.45 334.99L280.7 331.35M280.7 331.35L280.95 334.27M283.2 332.63L283.45 328.52M283.45 328.52L283.7 332.92M284.45 332.52L284.7 331.85M287.7 332.63L287.95 333.97M287.95 333.97L288.2 333.32M288.2 333.32L288.45 333.68M288.45 333.68L288.7 333.48M288.95 332.69L289.2 333.31M289.7 333.22L289.95 334.33M289.95 334.33L290.2 333.09M300.2 333.88L300.45 331.19M303.7 333.43L303.95 331.52M305.45 334.83L305.7 334.05M306.2 332.69L306.45 331.14M306.45 331.14L306.7 333.59M306.7 333.59L306.95 333.72M306.95 333.72L307.2 333.91M307.7 334.27L307.95 333.81M309.2 331.94L309.45 334.89M309.45 334.89L309.7 331.16M309.7 331.16L309.95 327.34M309.95 327.34L310.2 334.87M310.2 334.87L310.45 333.22M310.95 334.28L311.2 334.33M329.45 332.6L329.7 332.28M329.7 332.28L329.95 328.52M329.95 328.52L330.2 331.93M331.7 335.78L331.95 334.02M331.95 334.02L332.2 331.78M332.2 331.78L332.45 333.94M332.95 332.35L333.2 333.61M336.45 333.86L336.7 335.16M342.2 334.38L342.45 334.47M343.95 331.15L344.2 335.1M344.2 335.1L344.45 331.14M344.7 332.16L344.95 331.53M349.7 333.23L349.95 331.76M351.95 334.09L352.2 330.92M352.2 330.92L352.45 333.91M352.95 331.5L353.2 334.1M353.2 334.1L353.45 334.44M353.45 334.44L353.7 331.14M353.7 331.14L353.95 331.23M354.45 335.05L354.7 334.8M355.2 334.17L355.45 338.45M355.45 338.45L355.7 334.17M356.45 333.38L356.7 331.62M356.7 331.62L356.95 334.1M357.45 334.5L357.7 332.95M357.7 332.95L357.95 335.66M357.95 335.66L358.2 331.75M359.95 335.52L360.2 334.07M360.2 334.07L360.45 335.42M360.45 335.42L360.7 331.23M360.7 331.23L360.95 333.36M360.95 333.36L361.2 331.2M361.7 332.28L361.95 331.14M361.95 331.14L362.2 333.68M362.7 332.64L362.95 331.38M363.45 332.23L363.7 333.36M364.7 331.78L364.95 333.96M365.45 332.7L365.7 331.91M365.7 331.91L365.95 332.69M367.2 332.5L367.45 334.86M367.45 334.86L367.7 335.93M367.7 335.93L367.95 333.45M368.7 330.38L368.95 328.47M368.95 328.47L369.2 331.12M369.2 331.12L369.45 333.92M369.7 331.84L369.95 335.17M369.95 335.17L370.2 331.75M370.45 333.2L370.7 334.6M370.7 334.6L370.95 334.06M370.95 334.06L371.2 330.17M371.2 330.17L371.45 331.38M371.45 331.38L371.7 331.45M371.7 331.45L371.95 334.26M373.95 333.56L374.2 336.37M374.2 336.37L374.45 331.72M376.45 333.09L376.7 333.16M377.45 331.52L377.7 334.38M378.2 330.9L378.45 328.01M378.45 328.01L378.7 331.14M378.7 331.14L378.95 332.21M378.95 332.21L379.2 331.49M379.2 331.49L379.45 332.67M379.7 334.11L379.95 335.27M381.45 333.53L381.7 330.4M381.7 330.4L381.95 335.09M381.95 335.09L382.2 333.23M382.2 333.23L382.45 328.97M382.45 328.97L382.7 332.22M383.2 330.76L383.45 335.18M384.95 333.45L385.2 334.37M385.2 334.37L385.45 334.29M385.45 334.29L385.7 330.98M385.7 330.98L385.95 333.22M385.95 333.22L386.2 332.56M388.2 333.34L388.45 335.39M390.95 332.92L391.2 334.26" stroke="#00d0ff" stroke-width="0.9" fill="none" stroke-linejoin="round"/>
<path d="M206.2 333.25L206.45 332.1M206.45 332.1L206.7 334.18M209.7 332.81L209.95 333.78M212.2 333.05L212.45 331.95M218.7 332.54L218.95 331.45M218.95 331.45L219.2 332.65M220.45 332.3L220.7 332.3M220.7 332.3L220.95 333.25M220.95 333.25L221.2 332M221.2 332L221.45 332.51M226.7 333L226.95 332.48M226.95 332.48L227.2 333.4M232.45 333.85L232.7 334.13M232.7 334.13L232.95 333.14M232.95 333.14L233.2 333.74M233.45 331.64L233.7 331.43M234.95 333.28L235.2 333.72M236.45 332.5L236.7 334.58M241.7 334.27L241.95 333.76M241.95 333.76L242.2 332.6M243.7 333.79L243.95 335.48M247.7 332.87L247.95 331.93M247.95 331.93L248.2 333.83M249.2 331.34L249.45 331.03M249.45 331.03L249.7 333.95M253.45 332.94L253.7 335.59M253.7 335.59L253.95 333.62M253.95 333.62L254.2 333.57M254.7 333.84L254.95 332.58M259.2 334.73L259.45 333.82M259.45 333.82L259.7 331.15M260.2 332.04L260.45 331.35M260.95 332.57L261.2 333.43M265.95 333.14L266.2 333.06M268.2 335.2L268.45 334.94M268.7 331.93L268.95 332.81M268.95 332.81L269.2 331.43M269.2 331.43L269.45 333.45M270.95 331.6L271.2 330.42M271.2 330.42L271.45 331.89M271.45 331.89L271.7 333.04M276.2 332.35L276.45 333.69M276.45 333.69L276.7 335.35M276.7 335.35L276.95 334.35M280.95 334.27L281.2 333.76M281.2 333.76L281.45 330.49M281.45 330.49L281.7 333.24M282.95 334.03L283.2 332.63M287.45 333.79L287.7 332.63M288.7 333.48L288.95 332.69M289.2 333.31L289.45 334.51M289.45 334.51L289.7 333.22M291.2 331.55L291.45 335.21M292.45 332.81L292.7 332.63M298.7 334.89L298.95 334.38M299.95 335.12L300.2 333.88M307.2 333.91L307.45 334.93M307.45 334.93L307.7 334.27M307.95 333.81L308.2 332.32M308.95 332.78L309.2 331.94M310.45 333.22L310.7 334.61M310.7 334.61L310.95 334.28M311.7 331.17L311.95 332.47M311.95 332.47L312.2 331.67M335.7 331.49L335.95 334.19M344.95 331.53L345.2 335.22M345.2 335.22L345.45 332.34M346.95 333.89L347.2 332.52M347.95 333.49L348.2 331.68M348.2 331.68L348.45 333M348.7 331.04L348.95 335.38M348.95 335.38L349.2 334.8M350.45 334.32L350.7 331.52M350.7 331.52L350.95 333.1M351.7 333.51L351.95 334.09M352.45 333.91L352.7 335.28M352.7 335.28L352.95 331.5M355.7 334.17L355.95 332.9M358.2 331.75L358.45 334.44M358.45 334.44L358.7 335.07M358.7 335.07L358.95 333.53M358.95 333.53L359.2 331.57M363.7 333.36L363.95 332.76M364.45 335.17L364.7 331.78M364.95 333.96L365.2 332.56M365.2 332.56L365.45 332.7M365.95 332.69L366.2 332.52M369.45 333.92L369.7 331.84M371.95 334.26L372.2 335.31M372.2 335.31L372.45 333.83M372.45 333.83L372.7 332.99M376.2 333.01L376.45 333.09M376.7 333.16L376.95 335.44M379.45 332.67L379.7 334.11M380.95 333.15L381.2 334.52M381.2 334.52L381.45 333.53M386.45 335.05L386.7 330.52M386.7 330.52L386.95 335.07M387.95 333.33L388.2 333.34M389.95 334.95L390.2 331.38" stroke="#0090ff" stroke-width="0.9" fill="none" stroke-linejoin="round"/>
<path d="M206.7 334.18L206.95 329.99M206.95 329.99L207.2 331.35M223.45 331.17L223.7 329.71M223.7 329.71L223.95 332.02M225.45 331.7L225.7 335.63M225.7 335.63L225.95 334.45M228.2 333.38L228.45 334.22M228.95 334.58L229.2 329.55M229.2 329.55L229.45 334.6M229.95 332.09L230.2 335.12M233.7 331.43L233.95 331.34M233.95 331.34L234.2 334.87M235.2 333.72L235.45 334.51M237.45 334.9L237.7 335.2M237.7 335.2L237.95 332.2M237.95 332.2L238.2 334.25M239.7 333.28L239.95 330.59M239.95 330.59L240.2 333.4M240.2 333.4L240.45 331.77M240.45 331.77L240.7 333.76M245.45 331.73L245.7 329.47M245.7 329.47L245.95 334.56M251.95 334.75L252.2 334.4M252.2 334.4L252.45 333.16M258.7 335.36L258.95 330.78M264.95 332.53L265.2 331.41M265.2 331.41L265.45 332.36M266.2 333.06L266.45 330.91M267.7 332.6L267.95 330.67M267.95 330.67L268.2 335.2M277.45 332.18L277.7 334.56M277.7 334.56L277.95 333.88M278.95 333.78L279.2 337.34M279.2 337.34L279.45 330.56M279.45 330.56L279.7 332.13M282.2 330.39L282.45 332.26M282.45 332.26L282.7 335.43M282.7 335.43L282.95 334.03M284.7 331.85L284.95 330.84M284.95 330.84L285.2 334.86M285.7 335.3L285.95 329.97M290.2 333.09L290.45 331.19M290.45 331.19L290.7 331.38M305.7 334.05L305.95 336.24M305.95 336.24L306.2 332.69M311.2 334.33L311.45 330.45M311.45 330.45L311.7 331.17M333.2 333.61L333.45 336.43M333.45 336.43L333.7 333.29M335.45 335.47L335.7 331.49M346.7 334.38L346.95 333.89M347.7 335.29L347.95 333.49M348.45 333L348.7 331.04M349.2 334.8L349.45 330.37M349.45 330.37L349.7 333.23M362.95 331.38L363.2 334.83M363.2 334.83L363.45 332.23M370.2 331.75L370.45 333.2M372.95 333.46L373.2 331.5M373.2 331.5L373.45 332.34M373.45 332.34L373.7 330.15M373.7 330.15L373.95 333.56M376.95 335.44L377.2 329.32M377.2 329.32L377.45 331.52M377.7 334.38L377.95 331.81M380.45 334.97L380.7 331.76M383.95 330.98L384.2 329.11M384.2 329.11L384.45 335.95M384.7 334.66L384.95 333.45M386.2 332.56L386.45 335.05" stroke="#10f0e0" stroke-width="0.9" fill="none" stroke-linejoin="round"/>
<path d="M208.95 333L209.2 337.02M209.2 337.02L209.45 332.89M235.45 334.51L235.7 330.12M235.7 330.12L235.95 332.63M242.2 332.6L242.45 330.03M242.45 330.03L242.7 332.22M257.45 329L257.7 327.02M257.7 327.02L257.95 332.84M271.7 333.04L271.95 338.86M271.95 338.86L272.2 334.55M285.95 329.97L286.2 329.73M286.2 329.73L286.45 332.51M291.45 335.21L291.7 337.85M291.7 337.85L291.95 334.57M308.45 333.45L308.7 329.98M308.7 329.98L308.95 332.78M312.2 331.67L312.45 327.1M312.45 327.1L312.7 334.81M332.45 333.94L332.7 336.04M332.7 336.04L332.95 332.35M347.2 332.52L347.45 335.6M347.45 335.6L347.7 335.29M349.95 331.76L350.2 329.63M350.2 329.63L350.45 334.32M350.95 333.1L351.2 335.76M351.2 335.76L351.45 333.62M356.95 334.1L357.2 339.84M357.2 339.84L357.45 334.5M359.2 331.57L359.45 329.05M359.45 329.05L359.7 329.84M382.7 332.22L382.95 330.17M382.95 330.17L383.2 330.76M384.45 335.95L384.7 334.66" stroke="#60ff90" stroke-width="0.9" fill="none" stroke-linejoin="round"/>
<path d="M209.95 333.78L210.2 334.18M211.7 332.89L211.95 333.89M211.95 333.89L212.2 333.05M213.95 333.69L214.2 333.59M218.2 333.47L218.45 333.36M221.95 332.62L222.2 333.39M222.2 333.39L222.45 333.09M222.95 332.9L223.2 332.78M227.95 333.32L228.2 333.38M235.95 332.63L236.2 333.75M236.2 333.75L236.45 332.5M257.95 332.84L258.2 332.87M267.45 333.79L267.7 332.6M269.45 333.45L269.7 333.45M308.2 332.32L308.45 333.45M333.7 333.29L333.95 332.07M351.45 333.62L351.7 333.51M367.95 333.45L368.2 332.07M372.7 332.99L372.95 333.46" stroke="#0050ff" stroke-width="0.9" fill="none" stroke-linejoin="round"/>
<path d="M205.3 333.1L205.55 333.79M205.55 333.79L205.8 333.4M206.3 332.19L206.55 332.86M206.8 332.99L207.05 333.59M207.05 333.59L207.3 335.32M207.3 335.32L207.55 334.15M207.55 334.15L207.8 333.08M208.05 333.62L208.3 331.44M208.3 331.44L208.55 332.91M208.55 332.91L208.8 332.05M209.05 333.58L209.3 331.33M209.55 333.31L209.8 330.26M209.8 330.26L210.05 334.87M210.05 334.87L210.3 334.37M210.3 334.37L210.55 331.79M210.55 331.79L210.8 333.85M210.8 333.85L211.05 332.99M211.3 335.07L211.55 334.23M211.55 334.23L211.8 333.18M212.05 333.13L212.3 333.93M212.3 333.93L212.55 332.06M212.8 334.01L213.05 333.34M213.05 333.34L213.3 332.16M213.3 332.16L213.55 332.43M213.55 332.43L213.8 332.33M213.8 332.33L214.05 332.63M214.3 335.02L214.55 332.82M215.3 334.34L215.55 333.37M215.55 333.37L215.8 334.51M216.05 331.63L216.3 332.59M216.3 332.59L216.55 333.2M216.8 333.4L217.05 333.55M217.05 333.55L217.3 333.69M217.3 333.69L217.55 332.88M217.8 333.05L218.05 332.04M218.05 332.04L218.3 332.98M218.55 332.49L218.8 334.06M218.8 334.06L219.05 333.61M219.05 333.61L219.3 332.81M219.55 333.61L219.8 332.43M219.8 332.43L220.05 333.01M220.05 333.01L220.3 332.55M220.3 332.55L220.55 334M220.55 334L220.8 332.92M220.8 332.92L221.05 333.65M221.3 332.85L221.55 331.76M221.55 331.76L221.8 333.81M221.8 333.81L222.05 333.33M222.05 333.33L222.3 333.68M222.8 330.94L223.05 332.74M223.05 332.74L223.3 333.54M223.3 333.54L223.55 331.22M223.8 335.23L224.05 333.8M224.55 332.02L224.8 333.94M225.05 333.31L225.3 334.27M225.3 334.27L225.55 334.42M225.55 334.42L225.8 331.79M226.05 332.23L226.3 332.19M226.3 332.19L226.55 332.58M226.55 332.58L226.8 332.81M227.05 333.76L227.3 331.77M227.3 331.77L227.55 331.66M227.55 331.66L227.8 333.41M227.8 333.41L228.05 332.19M230.3 333.42L230.55 331.19M230.8 331.77L231.05 333.61M231.05 333.61L231.3 333.87M231.55 334.55L231.8 332.93M231.8 332.93L232.05 332.4M232.05 332.4L232.3 334.42M233.55 334.1L233.8 332.93M234.05 333.18L234.3 334.8M234.8 331.21L235.05 333.81M235.05 333.81L235.3 331.52M236.3 333.76L236.55 332.83M236.8 332.3L237.05 333.37M238.05 333.25L238.3 333.72M238.8 332.71L239.05 331.44M239.05 331.44L239.3 332.44M239.3 332.44L239.55 332.3M239.55 332.3L239.8 333.04M239.8 333.04L240.05 333.57M240.3 331.23L240.55 333.16M241.3 332.06L241.55 333.52M241.55 333.52L241.8 333.74M241.8 333.74L242.05 333.21M242.05 333.21L242.3 333.15M243.05 333.24L243.3 332.59M243.8 333.85L244.05 333.76M245.05 333.64L245.3 332.95M245.3 332.95L245.55 331.67M245.55 331.67L245.8 331.6M245.8 331.6L246.05 332.91M246.05 332.91L246.3 332.38M246.55 332.51L246.8 332.13M246.8 332.13L247.05 333.86M247.3 333.08L247.55 332.47M247.55 332.47L247.8 334.22M247.8 334.22L248.05 332.77M248.05 332.77L248.3 334.26M248.3 334.26L248.55 332.8M248.55 332.8L248.8 332.44M248.8 332.44L249.05 334.01M249.05 334.01L249.3 334.05M249.3 334.05L249.55 332.51M250.05 334.68L250.3 334.5M250.3 334.5L250.55 332.32M250.55 332.32L250.8 332.43M250.8 332.43L251.05 334.02M251.3 335.89L251.55 332.45M251.55 332.45L251.8 331.56M252.3 333.63L252.55 332.55M253.3 332.27L253.55 333.41M253.55 333.41L253.8 332.12M254.05 331.92L254.3 333.3M254.3 333.3L254.55 333.81M254.8 332.69L255.05 332.8M255.05 332.8L255.3 332.34M255.3 332.34L255.55 332.32M255.55 332.32L255.8 332.63M256.3 332.44L256.55 333.87M257.3 333.62L257.55 331.81M257.55 331.81L257.8 334.01M257.8 334.01L258.05 332.17M258.05 332.17L258.3 332.39M258.8 333.39L259.05 332.8M259.05 332.8L259.3 334M259.3 334L259.55 333.75M259.8 332.78L260.05 332.52M260.05 332.52L260.3 331.67M260.3 331.67L260.55 333.03M260.55 333.03L260.8 333.97M261.05 334.35L261.3 334.48M262.05 332.05L262.3 334.47M262.55 333.74L262.8 331.98M262.8 331.98L263.05 332.59M263.05 332.59L263.3 332.88M263.3 332.88L263.55 333.32M263.55 333.32L263.8 332.75M263.8 332.75L264.05 332.4M264.05 332.4L264.3 333.69M264.3 333.69L264.55 332.76M265.05 331.88L265.3 334.68M265.3 334.68L265.55 333.19M265.55 333.19L265.8 332.94M266.05 332.29L266.3 332.21M266.3 332.21L266.55 332.32M266.55 332.32L266.8 333.81M267.05 332.43L267.3 334.29M267.3 334.29L267.55 331.02M267.55 331.02L267.8 331.46M268.05 335.93L268.3 332.56M268.8 334.09L269.05 332.14M269.05 332.14L269.3 331.81M269.3 331.81L269.55 333.35M269.55 333.35L269.8 332.99M269.8 332.99L270.05 332.07M270.3 333.23L270.55 332.63M270.55 332.63L270.8 332.45M271.05 333.65L271.3 332.96M271.3 332.96L271.55 332.64M271.8 333.38L272.05 331.77M272.05 331.77L272.3 333.96M273.05 332.22L273.3 331.94M275.05 332.83L275.3 333.03M276.3 332.87L276.55 332.31M276.8 333.94L277.05 332.55M277.3 332.9L277.55 333.2M277.8 332.22L278.05 332.51M278.3 332.98L278.55 332.55M278.55 332.55L278.8 332.79M279.05 333.96L279.3 333.6M279.55 332.55L279.8 334.58M279.8 334.58L280.05 333.02M280.3 333.98L280.55 333.62M280.8 333.22L281.05 331.85M281.05 331.85L281.3 333.36M281.8 333.47L282.05 334.46M282.05 334.46L282.3 334.12M283.05 332.05L283.3 332.85M283.3 332.85L283.55 331.56M283.8 331.78L284.05 333.95M284.05 333.95L284.3 332.78M284.55 333.54L284.8 333.04M285.05 333.64L285.3 331.6M285.8 332.46L286.05 332.78M286.05 332.78L286.3 332.96M286.3 332.96L286.55 333.62M286.55 333.62L286.8 333.51M286.8 333.51L287.05 334.33M287.8 332.76L288.05 332.67M288.3 333.19L288.55 332.97M288.55 332.97L288.8 333.46M289.05 333.74L289.3 332.59M289.3 332.59L289.55 331.63M289.8 333.1L290.05 334.73M290.3 331.51L290.55 331.99M290.8 332.54L291.05 333.78M291.05 333.78L291.3 332.46M292.05 332.95L292.3 333.9M292.3 333.9L292.55 332.03M292.55 332.03L292.8 333.46M298.8 332.78L299.05 332.26M299.05 332.26L299.3 332.48M299.3 332.48L299.55 332.59M299.8 334.23L300.05 332.3M300.05 332.3L300.3 332.56M302.8 333.85L303.05 332.37M303.05 332.37L303.3 333.45M303.3 333.45L303.55 332.83M303.55 332.83L303.8 332.64M305.8 332.75L306.05 333.03M306.05 333.03L306.3 332.7M306.55 332.15L306.8 332.15M307.3 332.41L307.55 335.18M308.05 333.02L308.3 331.76M308.55 334.54L308.8 333.05M308.8 333.05L309.05 331.76M309.05 331.76L309.3 333.7M309.3 333.7L309.55 335.1M309.8 332.78L310.05 334.47M310.55 331.53L310.8 333.58M310.8 333.58L311.05 332.26M311.3 333.71L311.55 332.56M311.8 333.18L312.05 332.35M312.05 332.35L312.3 334.39M312.3 334.39L312.55 333.42M313.3 331.79L313.55 332.56M313.55 332.56L313.8 332.86M329.05 333.15L329.3 332.79M329.8 331.84L330.05 332.19M330.05 332.19L330.3 332.73M331.8 333.95L332.05 333.12M332.3 333.62L332.55 331.73M332.8 332.72L333.05 334.17M333.3 334.11L333.55 331.24M333.55 331.24L333.8 332M333.8 332L334.05 334.28M335.55 333.95L335.8 331.81M335.8 331.81L336.05 332.93M341.8 332.21L342.05 332.98M342.05 332.98L342.3 333.32M342.3 333.32L342.55 333.83M344.3 330.75L344.55 331.78M344.55 331.78L344.8 332.96M345.3 333.56L345.55 333.43M346.8 333.89L347.05 333.98M347.05 333.98L347.3 333.73M347.3 333.73L347.55 335.07M347.55 335.07L347.8 334.94M347.8 334.94L348.05 332.3M348.05 332.3L348.3 334.78M348.3 334.78L348.55 334.3M348.55 334.3L348.8 333.53M348.8 333.53L349.05 333.21M349.05 333.21L349.3 333.1M349.3 333.1L349.55 330.57M349.55 330.57L349.8 331.84M349.8 331.84L350.05 332.26M350.3 331.29L350.55 333.25M350.55 333.25L350.8 331.88M350.8 331.88L351.05 334.02M352.3 333.88L352.55 333.48M352.55 333.48L352.8 334.4M352.8 334.4L353.05 332.05M353.05 332.05L353.3 333.54M353.3 333.54L353.55 333.96M353.55 333.96L353.8 333.52M353.8 333.52L354.05 330.63M354.55 332.53L354.8 332.81M354.8 332.81L355.05 332.73M355.05 332.73L355.3 333.81M355.3 333.81L355.55 332.34M356.05 335.29L356.3 332.65M356.3 332.65L356.55 334.67M357.8 333.08L358.05 332.49M358.05 332.49L358.3 331.8M358.3 331.8L358.55 331.33M359.55 333.23L359.8 332.94M359.8 332.94L360.05 334.45M360.3 334.23L360.55 333.2M360.55 333.2L360.8 332.94M360.8 332.94L361.05 334.74M361.3 333.35L361.55 332.57M361.8 331.94L362.05 331.61M362.3 332.23L362.55 333.01M362.55 333.01L362.8 332.97M362.8 332.97L363.05 334.53M363.3 333.7L363.55 334.77M363.55 334.77L363.8 332.72M364.05 332.29L364.3 333.47M364.55 332.91L364.8 333.13M364.8 333.13L365.05 333.09M365.05 333.09L365.3 332.27M365.3 332.27L365.55 332.01M366.05 332.28L366.3 334.22M366.3 334.22L366.55 332.34M366.55 332.34L366.8 333.19M366.8 333.19L367.05 333.43M367.05 333.43L367.3 332.6M367.55 333.42L367.8 333.58M367.8 333.58L368.05 331.36M368.3 333.22L368.55 332.65M368.55 332.65L368.8 333.6M369.05 332.59L369.3 332.39M369.55 332.28L369.8 332.9M369.8 332.9L370.05 333.43M370.3 332.58L370.55 333.09M371.3 334.34L371.55 332.23M371.55 332.23L371.8 331.52M372.05 332.63L372.3 332.9M372.3 332.9L372.55 333.06M372.55 333.06L372.8 332.29M372.8 332.29L373.05 333.2M373.05 333.2L373.3 333.96M373.55 333.91L373.8 332.94M373.8 332.94L374.05 331.71M374.3 334.63L374.55 333.93M375.3 334.26L375.55 333.17M375.55 333.17L375.8 332.16M375.8 332.16L376.05 333.23M376.3 332.11L376.55 332.71M376.8 334.23L377.05 332.94M377.05 332.94L377.3 331.93M377.55 333.07L377.8 332.86M377.8 332.86L378.05 332.08M378.55 334.92L378.8 333.83M378.8 333.83L379.05 333.4M379.05 333.4L379.3 333.5M379.3 333.5L379.55 334.73M380.8 332.78L381.05 332.5M381.3 330.78L381.55 333.18M381.55 333.18L381.8 333.48M381.8 333.48L382.05 332.15M382.05 332.15L382.3 331.24M382.3 331.24L382.55 332.66M382.55 332.66L382.8 330.72M382.8 330.72L383.05 332.13M383.3 333.26L383.55 333.55M383.55 333.55L383.8 333.52M383.8 333.52L384.05 333.34M384.05 333.34L384.3 332.86M384.55 333.35L384.8 333.8M384.8 333.8L385.05 333.77M385.05 333.77L385.3 333.25M385.55 333.2L385.8 333.44M385.8 333.44L386.05 331.84M386.05 331.84L386.3 332.8M386.55 331.54L386.8 332.34M387.05 330.74L387.3 332.62M387.3 332.62L387.55 333.59M387.55 333.59L387.8 333.33M389.05 332.44L389.3 332.99M389.55 332.41L389.8 334.07M389.8 334.07L390.05 332.54M390.05 332.54L390.3 334.61M390.3 334.61L390.55 334.03M390.8 332.82L391.05 331.54M391.05 331.54L391.3 331.9" stroke="#0000f0" stroke-width="0.85" fill="none" stroke-linejoin="round"/>
<path d="M205.8 333.4L206.05 333.02M206.05 333.02L206.3 332.19M206.55 332.86L206.8 332.99M207.8 333.08L208.05 333.62M208.8 332.05L209.05 333.58M209.3 331.33L209.55 333.31M211.05 332.99L211.3 335.07M211.8 333.18L212.05 333.13M212.55 332.06L212.8 334.01M214.05 332.63L214.3 335.02M214.55 332.82L214.8 333.38M214.8 333.38L215.05 332.21M215.05 332.21L215.3 334.34M215.8 334.51L216.05 331.63M216.55 333.2L216.8 333.4M217.55 332.88L217.8 333.05M218.3 332.98L218.55 332.49M219.3 332.81L219.55 333.61M221.05 333.65L221.3 332.85M222.3 333.68L222.55 331.99M222.55 331.99L222.8 330.94M223.55 331.22L223.8 335.23M224.05 333.8L224.3 334.08M224.3 334.08L224.55 332.02M224.8 333.94L225.05 333.31M225.8 331.79L226.05 332.23M226.8 332.81L227.05 333.76M228.05 332.19L228.3 333.45M228.3 333.45L228.55 333.16M228.55 333.16L228.8 334.27M228.8 334.27L229.05 331.98M229.05 331.98L229.3 332.5M229.3 332.5L229.55 334.3M229.55 334.3L229.8 333.27M229.8 333.27L230.05 331.8M230.05 331.8L230.3 333.42M230.55 331.19L230.8 331.77M231.3 333.87L231.55 334.55M232.3 334.42L232.55 333.96M232.55 333.96L232.8 332.94M232.8 332.94L233.05 333.33M233.05 333.33L233.3 332.64M233.3 332.64L233.55 334.1M233.8 332.93L234.05 333.18M234.3 334.8L234.55 331.68M234.55 331.68L234.8 331.21M235.3 331.52L235.55 330M235.55 330L235.8 332.78M235.8 332.78L236.05 334.75M236.05 334.75L236.3 333.76M236.55 332.83L236.8 332.3M237.05 333.37L237.3 332.03M237.3 332.03L237.55 331.16M237.55 331.16L237.8 332.57M237.8 332.57L238.05 333.25M238.3 333.72L238.55 332.77M238.55 332.77L238.8 332.71M240.05 333.57L240.3 331.23M240.55 333.16L240.8 331.82M240.8 331.82L241.05 334.4M241.05 334.4L241.3 332.06M242.3 333.15L242.55 331.93M242.55 331.93L242.8 334.56M242.8 334.56L243.05 333.24M243.3 332.59L243.55 333.39M243.55 333.39L243.8 333.85M244.05 333.76L244.3 331.94M244.3 331.94L244.55 333.3M244.55 333.3L244.8 332.79M244.8 332.79L245.05 333.64M246.3 332.38L246.55 332.51M247.05 333.86L247.3 333.08M249.55 332.51L249.8 333.1M249.8 333.1L250.05 334.68M251.05 334.02L251.3 335.89M251.8 331.56L252.05 332.48M252.05 332.48L252.3 333.63M252.55 332.55L252.8 333.29M252.8 333.29L253.05 332.33M253.05 332.33L253.3 332.27M253.8 332.12L254.05 331.92M254.55 333.81L254.8 332.69M255.8 332.63L256.05 333.54M256.05 333.54L256.3 332.44M256.55 333.87L256.8 331.88M256.8 331.88L257.05 330.89M257.05 330.89L257.3 333.62M258.3 332.39L258.55 333.91M258.55 333.91L258.8 333.39M259.55 333.75L259.8 332.78M260.8 333.97L261.05 334.35M261.3 334.48L261.55 332.99M261.55 332.99L261.8 333.99M261.8 333.99L262.05 332.05M262.3 334.47L262.55 333.74M264.55 332.76L264.8 331.61M264.8 331.61L265.05 331.88M265.8 332.94L266.05 332.29M266.8 333.81L267.05 332.43M267.8 331.46L268.05 335.93M268.3 332.56L268.55 331.6M268.55 331.6L268.8 334.09M270.05 332.07L270.3 333.23M270.8 332.45L271.05 333.65M271.55 332.64L271.8 333.38M272.3 333.96L272.55 333.49M272.55 333.49L272.8 333.29M272.8 333.29L273.05 332.22M274.55 333.08L274.8 332.53M274.8 332.53L275.05 332.83M275.3 333.03L275.55 334.45M275.55 334.45L275.8 331.25M275.8 331.25L276.05 333.17M276.05 333.17L276.3 332.87M276.55 332.31L276.8 333.94M277.05 332.55L277.3 332.9M277.55 333.2L277.8 332.22M278.05 332.51L278.3 332.98M278.8 332.79L279.05 333.96M279.3 333.6L279.55 332.55M280.05 333.02L280.3 333.98M280.55 333.62L280.8 333.22M281.3 333.36L281.55 331.22M281.55 331.22L281.8 333.47M282.3 334.12L282.55 334.41M282.55 334.41L282.8 335.07M282.8 335.07L283.05 332.05M283.55 331.56L283.8 331.78M284.3 332.78L284.55 333.54M284.8 333.04L285.05 333.64M285.3 331.6L285.55 332.87M285.55 332.87L285.8 332.46M287.05 334.33L287.3 332.71M287.3 332.71L287.55 333.17M287.55 333.17L287.8 332.76M288.05 332.67L288.3 333.19M288.8 333.46L289.05 333.74M289.55 331.63L289.8 333.1M290.05 334.73L290.3 331.51M290.55 331.99L290.8 332.54M291.3 332.46L291.55 332.53M291.55 332.53L291.8 334.48M291.8 334.48L292.05 332.95M299.55 332.59L299.8 334.23M300.3 332.56L300.55 331.86M302.55 331.33L302.8 333.85M303.8 332.64L304.05 334.77M305.55 332.8L305.8 332.75M306.3 332.7L306.55 332.15M306.8 332.15L307.05 334.21M307.05 334.21L307.3 332.41M307.55 335.18L307.8 333.31M307.8 333.31L308.05 333.02M308.3 331.76L308.55 334.54M309.55 335.1L309.8 332.78M310.05 334.47L310.3 333.75M310.3 333.75L310.55 331.53M311.05 332.26L311.3 333.71M311.55 332.56L311.8 333.18M312.55 333.42L312.8 333.2M312.8 333.2L313.05 333.71M313.05 333.71L313.3 331.79M313.8 332.86L314.05 333.6M329.3 332.79L329.55 332.61M329.55 332.61L329.8 331.84M332.05 333.12L332.3 333.62M332.55 331.73L332.8 332.72M333.05 334.17L333.3 334.11M336.05 332.93L336.3 333.71M336.3 333.71L336.55 334.16M336.55 334.16L336.8 333.15M344.05 332.71L344.3 330.75M344.8 332.96L345.05 332.6M345.05 332.6L345.3 333.56M350.05 332.26L350.3 331.29M351.05 334.02L351.3 333.54M351.3 333.54L351.55 333.46M351.55 333.46L351.8 334.06M351.8 334.06L352.05 332.32M352.05 332.32L352.3 333.88M354.05 330.63L354.3 332.1M354.3 332.1L354.55 332.53M355.55 332.34L355.8 330.87M355.8 330.87L356.05 335.29M356.55 334.67L356.8 332.15M356.8 332.15L357.05 333.18M357.05 333.18L357.3 332.92M357.3 332.92L357.55 331.74M357.55 331.74L357.8 333.08M358.55 331.33L358.8 331.57M358.8 331.57L359.05 333.98M359.05 333.98L359.3 333.59M359.3 333.59L359.55 333.23M360.05 334.45L360.3 334.23M361.05 334.74L361.3 333.35M361.55 332.57L361.8 331.94M362.05 331.61L362.3 332.23M363.05 334.53L363.3 333.7M363.8 332.72L364.05 332.29M364.3 333.47L364.55 332.91M365.55 332.01L365.8 332.41M365.8 332.41L366.05 332.28M367.3 332.6L367.55 333.42M368.05 331.36L368.3 333.22M368.8 333.6L369.05 332.59M369.3 332.39L369.55 332.28M370.05 333.43L370.3 332.58M370.55 333.09L370.8 333.8M370.8 333.8L371.05 332.27M371.05 332.27L371.3 334.34M371.8 331.52L372.05 332.63M373.3 333.96L373.55 333.91M374.05 331.71L374.3 334.63M374.55 333.93L374.8 332.94M374.8 332.94L375.05 334.1M375.05 334.1L375.3 334.26M376.05 333.23L376.3 332.11M376.55 332.71L376.8 334.23M377.3 331.93L377.55 333.07M378.05 332.08L378.3 333.01M378.3 333.01L378.55 334.92M379.55 334.73L379.8 331.34M379.8 331.34L380.05 333.79M380.05 333.79L380.3 332.64M380.3 332.64L380.55 333.47M380.55 333.47L380.8 332.78M381.05 332.5L381.3 330.78M383.05 332.13L383.3 333.26M384.3 332.86L384.55 333.35M385.3 333.25L385.55 333.2M386.3 332.8L386.55 331.54M386.8 332.34L387.05 330.74M387.8 333.33L388.05 333.72M388.05 333.72L388.3 333.38M388.3 333.38L388.55 333.14M388.55 333.14L388.8 330.86M388.8 330.86L389.05 332.44M389.3 332.99L389.55 332.41M390.55 334.03L390.8 332.82" stroke="#0050ff" stroke-width="0.85" fill="none" stroke-linejoin="round"/>
<path d="M273.2 330.31L273.45 333.41M274.2 336.23L274.45 329.58M293.7 330.23L293.95 328.76M294.2 327.41L294.45 319.25M294.45 319.25L294.7 316.32M294.7 316.32L294.95 326.56M297.2 338.79L297.45 326.97M298.2 325.39L298.45 335.04M298.45 335.04L298.7 334.89M302.2 333.99L302.45 334.94M303.95 331.52L304.2 329.62M304.2 329.62L304.45 327.81M304.45 327.81L304.7 320.73M304.7 320.73L304.95 327.79M304.95 327.79L305.2 329.05M305.2 329.05L305.45 334.83M314.2 337.29L314.45 339.43M314.45 339.43L314.7 338.8M316.2 342.23L316.45 335.55M316.45 335.55L316.7 340.49M316.7 340.49L316.95 340.52M316.95 340.52L317.2 336.86M317.2 336.86L317.45 342.34M317.45 342.34L317.7 338.13M317.7 338.13L317.95 340.59M317.95 340.59L318.2 338.3M318.2 338.3L318.45 336.2M318.45 336.2L318.7 336.24M318.7 336.24L318.95 336.54M319.45 341.24L319.7 355.09M336.95 331.12L337.2 331.16M337.2 331.16L337.45 320.8M337.45 320.8L337.7 325.94M337.7 325.94L337.95 332.65M339.95 326.71L340.2 329.73" stroke="#f0f000" stroke-width="0.9" fill="none" stroke-linejoin="round"/>
<path d="M273.45 333.41L273.7 338.52M273.7 338.52L273.95 341.73M273.95 341.73L274.2 336.23M292.7 332.63L292.95 330.59M297.45 326.97L297.7 322.58M297.7 322.58L297.95 317.52M297.95 317.52L298.2 325.39M315.95 345.67L316.2 342.23M319.7 355.09L319.95 360.12M319.95 360.12L320.2 360.44M320.2 360.44L320.45 349.74M320.45 349.74L320.7 338.66" stroke="#ff8000" stroke-width="0.9" fill="none" stroke-linejoin="round"/>
<path d="M292.95 330.59L293.2 323.59M293.2 323.59L293.45 329.54M293.45 329.54L293.7 330.23M300.45 331.19L300.7 330.19M300.7 330.19L300.95 329.06M300.95 329.06L301.2 325.86M301.2 325.86L301.45 329.47M301.45 329.47L301.7 336.48M314.7 338.8L314.95 351.85M314.95 351.85L315.2 363.98M315.2 363.98L315.45 369.29M315.45 369.29L315.7 367.22M315.7 367.22L315.95 345.67" stroke="#ff1000" stroke-width="0.9" fill="none" stroke-linejoin="round"/>
<path d="M293.95 328.76L294.2 327.41M294.95 326.56L295.2 332.89" stroke="#ffd000" stroke-width="0.9" fill="none" stroke-linejoin="round"/>
<path d="M295.2 332.89L295.45 330.08M296.45 328.36L296.7 346.2M296.7 346.2L296.95 346.04M296.95 346.04L297.2 338.79" stroke="#0090ff" stroke-width="0.9" fill="none" stroke-linejoin="round"/>
<path d="M295.45 330.08L295.7 327.11M301.7 336.48L301.95 337.84M301.95 337.84L302.2 333.99M318.95 336.54L319.2 338.63M319.2 338.63L319.45 341.24M325.95 325.23L326.2 318.39M326.2 318.39L326.45 313.62M326.45 313.62L326.7 316.12M326.7 316.12L326.95 318.16M326.95 318.16L327.2 320.94M330.2 331.93L330.45 334.74M330.45 334.74L330.7 331.2M330.7 331.2L330.95 328.7M330.95 328.7L331.2 326.22M331.2 326.22L331.45 331.27M331.45 331.27L331.7 335.78M336.7 335.16L336.95 331.12M341.45 333.98L341.7 334.73M345.45 332.34L345.7 329.21M345.7 329.21L345.95 327.09M345.95 327.09L346.2 329.37M346.2 329.37L346.45 335.83M346.45 335.83L346.7 334.38" stroke="#00d0ff" stroke-width="0.9" fill="none" stroke-linejoin="round"/>
<path d="M295.7 327.11L295.95 309.84M295.95 309.84L296.2 307.05M296.2 307.05L296.45 328.36M320.95 331.64L321.2 330.14M321.2 330.14L321.45 331.19M343.7 334.63L343.95 331.15" stroke="#10f0e0" stroke-width="0.9" fill="none" stroke-linejoin="round"/>
<path d="M313.95 335.6L314.2 337.29M321.45 331.19L321.7 325.45M321.7 325.45L321.95 323.39M321.95 323.39L322.2 323.11M322.2 323.11L322.45 326.74M322.45 326.74L322.7 326.16M322.7 326.16L322.95 327.07M322.95 327.07L323.2 325.38M323.2 325.38L323.45 326.05M323.45 326.05L323.7 323.85M323.7 323.85L323.95 324.24M323.95 324.24L324.2 324.3M324.2 324.3L324.45 324.05M324.45 324.05L324.7 324.01M324.7 324.01L324.95 323.82M324.95 323.82L325.2 328.06M325.2 328.06L325.45 325.15M325.45 325.15L325.7 324M325.7 324L325.95 325.23M327.2 320.94L327.45 331.69M334.45 337.94L334.7 342.39M334.7 342.39L334.95 343.98M334.95 343.98L335.2 341.02" stroke="#0050ff" stroke-width="0.9" fill="none" stroke-linejoin="round"/>
<path d="M320.7 338.66L320.95 331.64M337.95 332.65L338.2 328.57M338.2 328.57L338.45 329.91M338.45 329.91L338.7 325.47M338.7 325.47L338.95 322.84M338.95 322.84L339.2 321.04M339.2 321.04L339.45 323.16M339.45 323.16L339.7 324.93M339.7 324.93L339.95 326.71M340.2 329.73L340.45 328.75M340.45 328.75L340.7 328.26M340.7 328.26L340.95 323.73M340.95 323.73L341.2 322.48M341.2 322.48L341.45 333.98" stroke="#60ff90" stroke-width="0.9" fill="none" stroke-linejoin="round"/>
<path d="M327.45 331.69L327.7 336.13M327.7 336.13L327.95 335.52M327.95 335.52L328.2 340.61M328.2 340.61L328.45 340.64M328.45 340.64L328.7 330.7M328.7 330.7L328.95 331.32M333.95 332.07L334.2 335.69M334.2 335.69L334.45 337.94M335.2 341.02L335.45 335.47M342.45 334.47L342.7 337.34M342.7 337.34L342.95 343.46M342.95 343.46L343.2 343.24M343.2 343.24L343.45 341.02M343.45 341.02L343.7 334.63" stroke="#0000f0" stroke-width="0.9" fill="none" stroke-linejoin="round"/>
<line x1="313.6" y1="371.6" x2="322.7" y2="371.6" stroke="#222" stroke-width="1.1"/>
<line x1="317.9" y1="371.6" x2="317.9" y2="379.1" stroke="#222" stroke-width="1.1"/>
<text x="318.9" y="388.14" font-size="9.6" font-family='"Liberation Serif", serif' font-weight="bold" text-anchor="middle" fill="#111">Phe</text>
<rect x="212.8" y="488.3" width="179.5" height="140.8" fill="none" stroke="#262626" stroke-width="1.1"/>
<line x1="238.2" y1="629.1" x2="238.2" y2="626.9" stroke="#262626" stroke-width="0.9"/>
<line x1="238.2" y1="488.3" x2="238.2" y2="490.5" stroke="#262626" stroke-width="0.9"/>
<line x1="263.76" y1="629.1" x2="263.76" y2="626.9" stroke="#262626" stroke-width="0.9"/>
<line x1="263.76" y1="488.3" x2="263.76" y2="490.5" stroke="#262626" stroke-width="0.9"/>
<line x1="289.33" y1="629.1" x2="289.33" y2="626.9" stroke="#262626" stroke-width="0.9"/>
<line x1="289.33" y1="488.3" x2="289.33" y2="490.5" stroke="#262626" stroke-width="0.9"/>
<line x1="314.89" y1="629.1" x2="314.89" y2="626.9" stroke="#262626" stroke-width="0.9"/>
<line x1="314.89" y1="488.3" x2="314.89" y2="490.5" stroke="#262626" stroke-width="0.9"/>
<line x1="340.46" y1="629.1" x2="340.46" y2="626.9" stroke="#262626" stroke-width="0.9"/>
<line x1="340.46" y1="488.3" x2="340.46" y2="490.5" stroke="#262626" stroke-width="0.9"/>
<line x1="366.02" y1="629.1" x2="366.02" y2="626.9" stroke="#262626" stroke-width="0.9"/>
<line x1="366.02" y1="488.3" x2="366.02" y2="490.5" stroke="#262626" stroke-width="0.9"/>
<line x1="212.8" y1="523.5" x2="215" y2="523.5" stroke="#262626" stroke-width="0.9"/>
<line x1="392.3" y1="523.5" x2="390.1" y2="523.5" stroke="#262626" stroke-width="0.9"/>
<line x1="212.8" y1="558.7" x2="215" y2="558.7" stroke="#262626" stroke-width="0.9"/>
<line x1="392.3" y1="558.7" x2="390.1" y2="558.7" stroke="#262626" stroke-width="0.9"/>
<line x1="212.8" y1="593.9" x2="215" y2="593.9" stroke="#262626" stroke-width="0.9"/>
<line x1="392.3" y1="593.9" x2="390.1" y2="593.9" stroke="#262626" stroke-width="0.9"/>
<text x="210.4" y="491.59" font-size="7.8" font-family='"Liberation Sans", sans-serif' font-weight="bold" text-anchor="end" fill="#1a1a1a">20</text>
<text x="210.4" y="526.59" font-size="7.8" font-family='"Liberation Sans", sans-serif' font-weight="bold" text-anchor="end" fill="#1a1a1a">10</text>
<text x="210.4" y="561.59" font-size="7.8" font-family='"Liberation Sans", sans-serif' font-weight="bold" text-anchor="end" fill="#1a1a1a">0</text>
<text x="210.4" y="596.89" font-size="7.8" font-family='"Liberation Sans", sans-serif' font-weight="bold" text-anchor="end" fill="#1a1a1a">-10</text>
<text x="210.4" y="632.29" font-size="7.8" font-family='"Liberation Sans", sans-serif' font-weight="bold" text-anchor="end" fill="#1a1a1a">-20</text>
<text x="238.2" y="638.29" font-size="7.8" font-family='"Liberation Sans", sans-serif' font-weight="bold" text-anchor="middle" fill="#1a1a1a">9</text>
<text x="263.76" y="638.29" font-size="7.8" font-family='"Liberation Sans", sans-serif' font-weight="bold" text-anchor="middle" fill="#1a1a1a">8.5</text>
<text x="289.33" y="638.29" font-size="7.8" font-family='"Liberation Sans", sans-serif' font-weight="bold" text-anchor="middle" fill="#1a1a1a">8</text>
<text x="314.89" y="638.29" font-size="7.8" font-family='"Liberation Sans", sans-serif' font-weight="bold" text-anchor="middle" fill="#1a1a1a">7.5</text>
<text x="340.46" y="638.29" font-size="7.8" font-family='"Liberation Sans", sans-serif' font-weight="bold" text-anchor="middle" fill="#1a1a1a">7</text>
<text x="366.02" y="638.29" font-size="7.8" font-family='"Liberation Sans", sans-serif' font-weight="bold" text-anchor="middle" fill="#1a1a1a">6.5</text>
<text x="391.59" y="638.29" font-size="7.8" font-family='"Liberation Sans", sans-serif' font-weight="bold" text-anchor="middle" fill="#1a1a1a">6</text>
<text x="191.3" y="564.04" font-size="11" font-family='"Liberation Sans", sans-serif' text-anchor="middle" fill="#1a1a1a" transform="rotate(-90 191.3 560.1)">Coefficients</text>
<text x="222.3" y="518.5" font-size="12" font-family='"Liberation Sans", sans-serif' text-anchor="start" fill="#1a1a1a">DLM-d7</text>
<text x="222.3" y="602.3" font-size="12" font-family='"Liberation Sans", sans-serif' text-anchor="start" fill="#1a1a1a">DLM-d0</text>
<text x="290" y="647.8" font-size="9.5" font-family='"Liberation Sans", sans-serif' text-anchor="middle" fill="#1a1a1a">Chemical Shift,&#160; ppm</text>
<path d="M213.5 561.46L213.75 559.4M214.5 559.2L214.75 560.68M214.75 560.68L215 557.85M215 557.85L215.25 559.14M215.25 559.14L215.5 557.12M215.5 557.12L215.75 559.67M215.75 559.67L216 559M216.75 557.66L217 559.56M219 558.31L219.25 555.3M219.25 555.3L219.5 560.18M220 559.74L220.25 556.52M220.25 556.52L220.5 556.8M220.5 556.8L220.75 559.67M220.75 559.67L221 560.58M221 560.58L221.25 559.36M221.25 559.36L221.5 559.13M222 558.38L222.25 560.02M222.25 560.02L222.5 559.12M223.25 558.5L223.5 557.72M224.5 560.04L224.75 557.84M225.5 559.35L225.75 554.41M225.75 554.41L226 560.11M226 560.11L226.25 558.86M228.25 558.68L228.5 560.31M228.5 560.31L228.75 559.27M228.75 559.27L229 559.16M229.5 558.05L229.75 555.21M229.75 555.21L230 556.58M233 557.03L233.25 559.59M233.25 559.59L233.5 560.05M233.5 560.05L233.75 558.96M234 559.03L234.25 559.24M234.25 559.24L234.5 558.65M234.5 558.65L234.75 556.77M234.75 556.77L235 559.35M236.25 557.92L236.5 556.44M236.5 556.44L236.75 559.23M236.75 559.23L237 560.22M237 560.22L237.25 560.69M237.75 559.14L238 557.06M238 557.06L238.25 557.41M239 557.46L239.25 557.55M240.25 557.38L240.5 558.1M240.5 558.1L240.75 559.39M240.75 559.39L241 557.63M241.75 558.68L242 559.37M242 559.37L242.25 556.84M242.25 556.84L242.5 557.82M242.5 557.82L242.75 559.23M244 557.58L244.25 557.26M244.25 557.26L244.5 557.6M244.5 557.6L244.75 557.31M244.75 557.31L245 559.24M245 559.24L245.25 556.21M245.25 556.21L245.5 558.49M246.5 559.93L246.75 560.28M246.75 560.28L247 558.42M250.25 558.24L250.5 557.76M250.5 557.76L250.75 558.13M251.25 558.25L251.5 561.26M253.75 558.99L254 559.83M254 559.83L254.25 558.15M254.25 558.15L254.5 557.31M254.5 557.31L254.75 557.99M254.75 557.99L255 560.13M255.75 558.1L256 556.5M256 556.5L256.25 557.22M257.25 559.04L257.5 558.39M257.75 558.44L258 557.81M258 557.81L258.25 559.14M258.25 559.14L258.5 559.67M259.25 559.16L259.5 560.03M259.5 560.03L259.75 557.53M260.5 556.77L260.75 558.98M261.5 560.02L261.75 558.94M262.25 559.31L262.5 559.87M262.5 559.87L262.75 558.76M263 559.89L263.25 560.12M263.25 560.12L263.5 558.84M263.5 558.84L263.75 559.18M263.75 559.18L264 558.81M264 558.81L264.25 561.05M264.25 561.05L264.5 557.41M264.5 557.41L264.75 561.01M264.75 561.01L265 557.39M265 557.39L265.25 559.93M265.25 559.93L265.5 559.83M266.5 555.64L266.75 559.59M266.75 559.59L267 559.77M267 559.77L267.25 557.07M267.25 557.07L267.5 558.06M268 558.76L268.25 557.94M268.75 559.47L269 556.79M269 556.79L269.25 559.55M269.25 559.55L269.5 558.43M269.75 558.79L270 556.94M270 556.94L270.25 558.58M270.5 558.11L270.75 559.79M270.75 559.79L271 558.18M271.25 558.54L271.5 556.67M271.5 556.67L271.75 559.18M272 558.95L272.25 556.51M272.25 556.51L272.5 558.51M274.25 559.36L274.5 560.23M274.5 560.23L274.75 559.06M277.75 560.53L278 558.14M279.75 557.42L280 558.6M284 560.22L284.25 556.08M284.25 556.08L284.5 560.07M285.25 558.76L285.5 557.25M288.5 557.61L288.75 559.65M290.25 558.7L290.5 558.4M290.5 558.4L290.75 558.62M291.75 559.3L292 560.1M292 560.1L292.25 558.42M293.25 557.53L293.5 559.55M293.5 559.55L293.75 558.35M294.25 558.62L294.5 556.56M294.5 556.56L294.75 558.64M294.75 558.64L295 559.92M295 559.92L295.25 559.81M298.75 558.2L299 560.06M299 560.06L299.25 558.14M304 558.81L304.25 557.97M304.25 557.97L304.5 556.93M306.25 560.21L306.5 558.78M307.5 558.53L307.75 558.47M309.25 559.06L309.5 559.79M309.5 559.79L309.75 558.13M310.5 555.84L310.75 561.4M310.75 561.4L311 560.66M311.25 558.91L311.5 558.77M312 560.83L312.25 561.97M312.25 561.97L312.5 556.12M312.5 556.12L312.75 561.08M312.75 561.08L313 558.1M314.5 559.03L314.75 557.43M316.75 558.76L317 560.43M319.25 560.13L319.5 559.94M322 559.72L322.25 555.77M322.25 555.77L322.5 558.89M334.75 559.01L335 557.43M335 557.43L335.25 558.02M338.5 558.51L338.75 559.2M338.75 559.2L339 557.95M341.5 558.39L341.75 559.94M342 556.5L342.25 556.01M342.25 556.01L342.5 555.66M342.5 555.66L342.75 559.75M347.25 557.63L347.5 559.06M348.75 555.96L349 553.24M349 553.24L349.25 558.65M350.25 559.53L350.5 557.48M351.5 559.46L351.75 560.16M351.75 560.16L352 559.26M352 559.26L352.25 557.86M355 558.23L355.25 560.5M355.25 560.5L355.5 557.39M355.5 557.39L355.75 557.02M355.75 557.02L356 558.7M357.5 558.1L357.75 556.83M357.75 556.83L358 559.3M359.5 559.02L359.75 558.55M362 558.6L362.25 560.04M362.25 560.04L362.5 560.13M362.5 560.13L362.75 557.66M363 558.93L363.25 557.3M363.25 557.3L363.5 558.56M363.5 558.56L363.75 559.53M363.75 559.53L364 558.85M364.25 560.92L364.5 555.82M365.75 558.22L366 557.65M366 557.65L366.25 558.8M366.75 557.3L367 559.98M368.5 555.88L368.75 559.3M369.5 557.51L369.75 559.75M369.75 559.75L370 556.6M370 556.6L370.25 558.72M370.25 558.72L370.5 558.46M370.75 560.13L371 556.3M371 556.3L371.25 559.52M371.25 559.52L371.5 559.97M371.5 559.97L371.75 559.64M374.5 559.18L374.75 556.43M374.75 556.43L375 559.24M375.5 557.15L375.75 556.94M375.75 556.94L376 559.58M377 560.38L377.25 559.91M377.25 559.91L377.5 556.42M377.5 556.42L377.75 557.83M378.75 559.47L379 557.84M379.5 557.32L379.75 561.27M379.75 561.27L380 558.35M381.75 559.06L382 559.85M382 559.85L382.25 555.79M382.25 555.79L382.5 557.14M382.75 559.79L383 558.06M385.25 558.05L385.5 559.25M386 558.44L386.25 560.3M386.25 560.3L386.5 557.7M387.75 557.24L388 559.69M388 559.69L388.25 557.62M388.25 557.62L388.5 560.82M388.5 560.82L388.75 557.78M389.75 559.87L390 556.97" stroke="#00d0ff" stroke-width="0.9" fill="none" stroke-linejoin="round"/>
<path d="M213.75 559.4L214 559.5M214 559.5L214.25 559.35M214.25 559.35L214.5 559.2M216.25 559.86L216.5 557.14M216.5 557.14L216.75 557.66M217 559.56L217.25 559.66M217.25 559.66L217.5 557.56M222.5 559.12L222.75 557.63M222.75 557.63L223 558.57M223 558.57L223.25 558.5M224.75 557.84L225 557.49M227.75 557.57L228 559.64M228 559.64L228.25 558.68M230.5 558.27L230.75 558.55M230.75 558.55L231 556.97M231 556.97L231.25 557.36M232 558.85L232.25 557.22M232.25 557.22L232.5 559.03M232.5 559.03L232.75 556.99M232.75 556.99L233 557.03M233.75 558.96L234 559.03M235 559.35L235.25 557.78M235.25 557.78L235.5 557.65M235.5 557.65L235.75 558.59M236 558.5L236.25 557.92M239.5 558.63L239.75 558.06M241.5 557.72L241.75 558.68M242.75 559.23L243 560.22M243 560.22L243.25 560.3M243.25 560.3L243.5 558.77M246 559.7L246.25 557.86M247.5 557.44L247.75 558.68M247.75 558.68L248 558.04M248 558.04L248.25 561.05M248.25 561.05L248.5 558.02M248.5 558.02L248.75 559.43M248.75 559.43L249 559.07M249 559.07L249.25 556.4M249.25 556.4L249.5 558.32M249.5 558.32L249.75 558.89M250.75 558.13L251 557.82M251 557.82L251.25 558.25M252.5 559.57L252.75 560.15M252.75 560.15L253 557.94M253.5 559.25L253.75 558.99M255 560.13L255.25 556.12M255.25 556.12L255.5 558.95M255.5 558.95L255.75 558.1M256.25 557.22L256.5 559.02M257 559.18L257.25 559.04M259 559.2L259.25 559.16M259.75 557.53L260 558.63M260.75 558.98L261 557.5M261 557.5L261.25 556.18M261.25 556.18L261.5 560.02M267.5 558.06L267.75 560.11M267.75 560.11L268 558.76M268.25 557.94L268.5 557.88M268.5 557.88L268.75 559.47M269.5 558.43L269.75 558.79M270.25 558.58L270.5 558.11M271.75 559.18L272 558.95M273.75 557.57L274 561.03M274 561.03L274.25 559.36M274.75 559.06L275 559.55M277 558.09L277.25 558.43M278 558.14L278.25 557.82M278.25 557.82L278.5 556.94M280 558.6L280.25 560.28M281 558.75L281.25 558.11M281.25 558.11L281.5 559.28M282 561L282.25 558.05M282.25 558.05L282.5 557.23M282.5 557.23L282.75 558.43M282.75 558.43L283 557.47M285.5 557.25L285.75 556.38M285.75 556.38L286 560.58M286.25 556.99L286.5 556.2M286.5 556.2L286.75 559.23M286.75 559.23L287 557.54M287 557.54L287.25 559.22M288 559.98L288.25 556.88M288.25 556.88L288.5 557.61M290 560.7L290.25 558.7M292.25 558.42L292.5 559.62M292.5 559.62L292.75 559.28M296.75 558.07L297 558.47M306.5 558.78L306.75 556.42M306.75 556.42L307 557.72M309.75 558.13L310 558.73M310 558.73L310.25 558.81M313 558.1L313.25 559.03M314.25 559.1L314.5 559.03M314.75 557.43L315 560.53M315 560.53L315.25 558.55M315.25 558.55L315.5 558.11M315.5 558.11L315.75 557.43M315.75 557.43L316 558.1M316.5 558.06L316.75 558.76M321.25 558.55L321.5 557.22M331.75 559.9L332 557.04M332 557.04L332.25 557.77M332.25 557.77L332.5 556.2M332.5 556.2L332.75 557.1M332.75 557.1L333 558.87M333.5 557.38L333.75 557.78M340.25 560L340.5 561.36M342.75 559.75L343 556.22M343 556.22L343.25 557.71M344 557.94L344.25 560.5M344.25 560.5L344.5 558.48M346.5 556.96L346.75 556.8M346.75 556.8L347 557.48M347 557.48L347.25 557.63M348.25 557.67L348.5 558.25M349.75 558.73L350 556.07M350 556.07L350.25 559.53M351 558.01L351.25 556.88M351.25 556.88L351.5 559.46M353.25 558.01L353.5 559.27M353.75 559.79L354 560M354 560L354.25 559.81M354.25 559.81L354.5 559.07M356 558.7L356.25 560.21M356.25 560.21L356.5 558.22M358 559.3L358.25 557.53M358.25 557.53L358.5 556.79M358.5 556.79L358.75 559.72M359.75 558.55L360 559.48M360 559.48L360.25 558.68M360.25 558.68L360.5 559.45M360.5 559.45L360.75 558.62M361 557.76L361.25 560.21M361.25 560.21L361.5 559.81M362.75 557.66L363 558.93M365 558.04L365.25 557.91M365.25 557.91L365.5 557.48M365.5 557.48L365.75 558.22M366.25 558.8L366.5 557.25M366.5 557.25L366.75 557.3M367.5 559.82L367.75 559.87M367.75 559.87L368 557.69M370.5 558.46L370.75 560.13M372.25 557.91L372.5 557.95M372.5 557.95L372.75 557.92M373.25 559.04L373.5 558.26M375 559.24L375.25 560.3M375.25 560.3L375.5 557.15M376.5 559.79L376.75 556.07M376.75 556.07L377 560.38M377.75 557.83L378 557.41M380 558.35L380.25 558.68M380.75 558.24L381 558.83M383 558.06L383.25 557.74M383.75 557.47L384 560.86M384 560.86L384.25 557.51M384.25 557.51L384.5 557.97M385 558.29L385.25 558.05M386.5 557.7L386.75 558.06M388.75 557.78L389 557.33M389 557.33L389.25 559.53M389.25 559.53L389.5 559.36M391 557.99L391.25 558.17M391.25 558.17L391.5 558.36" stroke="#0090ff" stroke-width="0.9" fill="none" stroke-linejoin="round"/>
<path d="M216 559L216.25 559.86M217.5 557.56L217.75 555.13M217.75 555.13L218 558.5M218.75 560.45L219 558.31M219.5 560.18L219.75 557.24M219.75 557.24L220 559.74M221.5 559.13L221.75 560.13M221.75 560.13L222 558.38M223.5 557.72L223.75 563.37M223.75 563.37L224 558.7M224 558.7L224.25 560.32M224.25 560.32L224.5 560.04M226.25 558.86L226.5 556.35M226.5 556.35L226.75 557.45M226.75 557.45L227 560.23M227 560.23L227.25 558.9M227.25 558.9L227.5 555.49M227.5 555.49L227.75 557.57M231.5 559.98L231.75 560.11M231.75 560.11L232 558.85M238.5 559.09L238.75 560.72M238.75 560.72L239 557.46M243.5 558.77L243.75 556.33M243.75 556.33L244 557.58M246.25 557.86L246.5 559.93M249.75 558.89L250 559.99M250 559.99L250.25 558.24M258.5 559.67L258.75 560.92M258.75 560.92L259 559.2M261.75 558.94L262 559.98M262 559.98L262.25 559.31M262.75 558.76L263 559.89M266 560.85L266.25 562.84M266.25 562.84L266.5 555.64M272.5 558.51L272.75 556.61M275.25 560.27L275.5 555.9M275.5 555.9L275.75 558.68M276.75 559.72L277 558.09M280.5 555.6L280.75 562.52M280.75 562.52L281 558.75M281.5 559.28L281.75 555.17M281.75 555.17L282 561M283 557.47L283.25 560.54M283.25 560.54L283.5 559.1M284.5 560.07L284.75 555.88M287.25 559.22L287.5 556.37M287.5 556.37L287.75 559.75M288.75 559.65L289 560.78M289 560.78L289.25 559.31M290.75 558.62L291 560.64M291 560.64L291.25 558.3M293.75 558.35L294 559.85M294 559.85L294.25 558.62M310.25 558.81L310.5 555.84M311 560.66L311.25 558.91M317.5 558L317.75 555.5M333 558.87L333.25 560.01M333.25 560.01L333.5 557.38M333.75 557.78L334 555.36M334 555.36L334.25 560.48M336.75 557.4L337 557.81M340 557.7L340.25 560M343.25 557.71L343.5 559.73M343.5 559.73L343.75 559.71M343.75 559.71L344 557.94M347.5 559.06L347.75 561.04M347.75 561.04L348 555.89M348 555.89L348.25 557.67M348.5 558.25L348.75 555.96M352.25 557.86L352.5 553.11M352.5 553.11L352.75 557.92M352.75 557.92L353 561.96M353 561.96L353.25 558.01M353.5 559.27L353.75 559.79M354.5 559.07L354.75 556.41M354.75 556.41L355 558.23M357 558.85L357.25 562.88M357.25 562.88L357.5 558.1M359.25 557.04L359.5 559.02M364.5 555.82L364.75 563.15M364.75 563.15L365 558.04M369 556.54L369.25 555.47M369.25 555.47L369.5 557.51M374 558.79L374.25 561.26M374.25 561.26L374.5 559.18M376 559.58L376.25 556.85M376.25 556.85L376.5 559.79M378 557.41L378.25 555.35M378.25 555.35L378.5 556.46M379 557.84L379.25 554.28M379.25 554.28L379.5 557.32M381 558.83L381.25 557.25M381.25 557.25L381.5 559.72M381.5 559.72L381.75 559.06M384.5 557.97L384.75 560.46M384.75 560.46L385 558.29M390 556.97L390.25 560.51M390.25 560.51L390.5 557.65" stroke="#f0f000" stroke-width="0.9" fill="none" stroke-linejoin="round"/>
<path d="M218 558.5L218.25 555.7M218.25 555.7L218.5 556.04M218.5 556.04L218.75 560.45M225 557.49L225.25 560.93M225.25 560.93L225.5 559.35M229 559.16L229.25 557.19M229.25 557.19L229.5 558.05M231.25 557.36L231.5 559.98M241 557.63L241.25 559.93M241.25 559.93L241.5 557.72M245.5 558.49L245.75 559.89M245.75 559.89L246 559.7M251.5 561.26L251.75 562.63M251.75 562.63L252 557.4M252 557.4L252.25 557.06M252.25 557.06L252.5 559.57M253 557.94L253.25 556.12M253.25 556.12L253.5 559.25M256.5 559.02L256.75 560.21M256.75 560.21L257 559.18M260 558.63L260.25 560.81M260.25 560.81L260.5 556.77M265.5 559.83L265.75 555.16M265.75 555.16L266 560.85M272.75 556.61L273 560.52M273 560.52L273.25 556.91M273.25 556.91L273.5 556.78M273.5 556.78L273.75 557.57M275 559.55L275.25 560.27M276 558.91L276.25 561.07M276.25 561.07L276.5 560.7M276.5 560.7L276.75 559.72M277.25 558.43L277.5 561.14M277.5 561.14L277.75 560.53M283.5 559.1L283.75 562.52M283.75 562.52L284 560.22M284.75 555.88L285 555.12M285 555.12L285.25 558.76M286 560.58L286.25 556.99M287.75 559.75L288 559.98M289.25 559.31L289.5 559.95M289.5 559.95L289.75 554.71M289.75 554.71L290 560.7M292.75 559.28L293 557.13M293 557.13L293.25 557.53M305.75 558.71L306 560.45M306 560.45L306.25 560.21M311.5 558.77L311.75 560.92M311.75 560.92L312 560.83M313.25 559.03L313.5 556.48M313.5 556.48L313.75 559.4M313.75 559.4L314 560.12M314 560.12L314.25 559.1M316 558.1L316.25 560.49M316.25 560.49L316.5 558.06M317 560.43L317.25 555.82M317.25 555.82L317.5 558M319.5 559.94L319.75 560.17M321.5 557.22L321.75 555.74M321.75 555.74L322 559.72M341.75 559.94L342 556.5M349.25 558.65L349.5 560.63M349.5 560.63L349.75 558.73M350.5 557.48L350.75 556.72M350.75 556.72L351 558.01M356.5 558.22L356.75 560.71M356.75 560.71L357 558.85M361.5 559.81L361.75 556.81M361.75 556.81L362 558.6M364 558.85L364.25 560.92M367 559.98L367.25 556.11M367.25 556.11L367.5 559.82M368.75 559.3L369 556.54M371.75 559.64L372 560.23M372 560.23L372.25 557.91M372.75 557.92L373 561.95M373 561.95L373.25 559.04M373.5 558.26L373.75 556.15M373.75 556.15L374 558.79M378.5 556.46L378.75 559.47M382.5 557.14L382.75 559.79M383.25 557.74L383.5 556.64M383.5 556.64L383.75 557.47M386.75 558.06L387 560.42M387 560.42L387.25 558.83M387.25 558.83L387.5 560.29M387.5 560.29L387.75 557.24M389.5 559.36L389.75 559.87M390.5 557.65L390.75 555.55M390.75 555.55L391 557.99" stroke="#10f0e0" stroke-width="0.9" fill="none" stroke-linejoin="round"/>
<path d="M230 556.58L230.25 554.6M230.25 554.6L230.5 558.27M237.25 560.69L237.5 555.12M237.5 555.12L237.75 559.14M239.75 558.06L240 554.75M240 554.75L240.25 557.38M247 558.42L247.25 561.2M247.25 561.2L247.5 557.44M297 558.47L297.25 555.51M307 557.72L307.25 561.76M307.25 561.76L307.5 558.53M334.25 560.48L334.5 561.34M334.5 561.34L334.75 559.01M358.75 559.72L359 554.86M359 554.86L359.25 557.04M368 557.69L368.25 562.25M368.25 562.25L368.5 555.88M385.5 559.25L385.75 561.11M385.75 561.11L386 558.44" stroke="#60ff90" stroke-width="0.9" fill="none" stroke-linejoin="round"/>
<path d="M235.75 558.59L236 558.5M238.25 557.41L238.5 559.09M239.25 557.55L239.5 558.63M257.5 558.39L257.75 558.44M271 558.18L271.25 558.54M275.75 558.68L276 558.91M360.75 558.62L361 557.76M380.25 558.68L380.5 559.33M380.5 559.33L380.75 558.24" stroke="#0050ff" stroke-width="0.9" fill="none" stroke-linejoin="round"/>
<path d="M280.25 560.28L280.5 555.6M291.25 558.3L291.5 555.18M291.5 555.18L291.75 559.3" stroke="#ff8000" stroke-width="0.9" fill="none" stroke-linejoin="round"/>
<path d="M213.6 558.44L213.85 559.17M214.85 558.23L215.1 558.2M215.1 558.2L215.35 558.24M215.35 558.24L215.6 558.04M215.6 558.04L215.85 557.95M215.85 557.95L216.1 558M216.1 558L216.35 559.26M216.35 559.26L216.6 558.28M217.6 558.32L217.85 558.54M219.1 558.81L219.35 558.36M219.35 558.36L219.6 557.67M220.35 558.69L220.6 558.63M220.6 558.63L220.85 558.77M221.6 559.04L221.85 558.62M222.35 557.3L222.6 558.31M223.6 558.21L223.85 559.03M224.35 558.13L224.6 559.71M224.85 557.62L225.1 558.47M225.35 558.38L225.6 558.62M226.35 558.66L226.6 558.2M227.35 558.66L227.6 558.73M228.1 557.83L228.35 559.4M229.1 557.53L229.35 558.06M229.35 558.06L229.6 558.56M229.6 558.56L229.85 558.01M230.1 557.89L230.35 558.41M230.35 558.41L230.6 558.31M231.1 558.84L231.35 558.57M231.35 558.57L231.6 557.68M231.6 557.68L231.85 558.22M231.85 558.22L232.1 559.72M233.1 558.53L233.35 558.68M233.35 558.68L233.6 558.57M233.6 558.57L233.85 559.94M233.85 559.94L234.1 558.15M235.1 558.23L235.35 559.11M235.6 558.97L235.85 557.93M236.35 558.12L236.6 557.96M236.85 558.22L237.1 558.09M237.35 557.74L237.6 558.55M238.1 558.46L238.35 558.55M238.85 558.91L239.1 559.21M239.35 559.49L239.6 558.47M239.85 558.38L240.1 557.27M241.1 559.24L241.35 559.3M242.1 559.41L242.35 558.34M242.35 558.34L242.6 557.08M242.6 557.08L242.85 557.4M242.85 557.4L243.1 558.45M246.1 558.48L246.35 557.48M246.35 557.48L246.6 557.6M246.6 557.6L246.85 558.24M247.35 558.94L247.6 558.36M248.1 558.46L248.35 558.79M248.35 558.79L248.6 558.99M248.6 558.99L248.85 558.67M248.85 558.67L249.1 558.9M249.35 559.5L249.6 558.77M249.6 558.77L249.85 558.23M249.85 558.23L250.1 558.03M250.1 558.03L250.35 559.22M250.35 559.22L250.6 558.27M250.6 558.27L250.85 556.91M250.85 556.91L251.1 558.95M251.6 557.85L251.85 558.48M252.6 558.76L252.85 558.37M252.85 558.37L253.1 557.31M253.35 558.21L253.6 558.29M253.6 558.29L253.85 558.48M254.1 558.05L254.35 558.8M254.35 558.8L254.6 557.54M254.85 558.31L255.1 558.28M255.35 557.73L255.6 559.38M256.6 559.23L256.85 558.14M256.85 558.14L257.1 558.12M257.1 558.12L257.35 559.69M257.35 559.69L257.6 559.17M258.35 558.82L258.6 559.66M258.6 559.66L258.85 558.94M258.85 558.94L259.1 558.53M259.1 558.53L259.35 557.73M259.6 560.13L259.85 558.92M259.85 558.92L260.1 558.59M260.35 558.38L260.6 557.29M260.6 557.29L260.85 558.47M260.85 558.47L261.1 558.78M261.6 556.98L261.85 559.28M261.85 559.28L262.1 557.99M262.35 559.52L262.6 559.1M262.6 559.1L262.85 557.7M263.35 558.55L263.6 557.65M263.6 557.65L263.85 559.29M264.1 558.38L264.35 557.53M264.6 558.84L264.85 558.73M264.85 558.73L265.1 557.57M265.35 559.03L265.6 558.29M265.85 559.68L266.1 557.6M266.85 557.69L267.1 557.91M267.35 559.39L267.6 558.27M267.85 558.3L268.1 557.3M268.35 559.02L268.6 559.43M268.6 559.43L268.85 558.03M269.85 558.41L270.1 557.59M270.35 558.4L270.6 558.72M271.35 559.15L271.6 557.42M272.6 558.64L272.85 558.72M272.85 558.72L273.1 558.06M273.35 559.29L273.6 558.57M273.85 558.66L274.1 558.55M274.1 558.55L274.35 557.73M275.6 558.17L275.85 558.33M276.35 558.96L276.6 559.19M276.6 559.19L276.85 557.86M277.6 557.99L277.85 558.06M278.1 558.15L278.35 558.49M278.35 558.49L278.6 558.01M279.85 560.29L280.1 557.39M280.35 558.68L280.6 557.85M280.85 558.4L281.1 559.5M281.35 558.81L281.6 558.82M281.6 558.82L281.85 559.37M281.85 559.37L282.1 559.08M282.85 558.81L283.1 557.67M283.1 557.67L283.35 558.16M284.1 558.61L284.35 558.92M284.85 560.51L285.1 558.6M285.1 558.6L285.35 557.59M285.35 557.59L285.6 559.35M287.35 559.07L287.6 558.18M288.35 558.77L288.6 558.64M289.6 558.05L289.85 559.55M291.35 558.69L291.6 558.85M291.6 558.85L291.85 559.17M291.85 559.17L292.1 558.88M292.1 558.88L292.35 558.07M292.85 559.66L293.1 558.87M294.1 558.26L294.35 557.71M294.6 557.96L294.85 557.96M298.85 558.86L299.1 558.67M304.1 558.39L304.35 558.89M306.1 558.67L306.35 558M306.85 558.99L307.1 557.17M309.35 558.71L309.6 558.63M309.6 558.63L309.85 558.23M309.85 558.23L310.1 558.35M310.1 558.35L310.35 559.8M311.35 558.45L311.6 558.45M311.85 557.99L312.1 558.96M312.1 558.96L312.35 558.4M313.1 558.63L313.35 557.72M313.35 557.72L313.6 558.76M313.85 558.69L314.1 560.12M314.1 560.12L314.35 559.14M314.6 557.94L314.85 558.71M315.1 557.86L315.35 558.52M315.6 557.25L315.85 557.79M315.85 557.79L316.1 559.45M316.1 559.45L316.35 558.24M316.85 558.19L317.1 558.67M317.1 558.67L317.35 558.39M319.6 557.4L319.85 559.34M331.85 558.24L332.1 559.46M332.1 559.46L332.35 558.51M332.35 558.51L332.6 557.9M332.6 557.9L332.85 557.96M333.35 559.01L333.6 556.59M333.85 559.34L334.1 559.06M334.1 559.06L334.35 558.38M334.35 558.38L334.6 556.7M334.85 558.41L335.1 557.92M338.6 559.18L338.85 558.56M340.35 556.79L340.6 558.59M342.35 557.27L342.6 558.82M342.6 558.82L342.85 557.53M342.85 557.53L343.1 558.09M343.1 558.09L343.35 558.95M343.35 558.95L343.6 558.65M343.85 557.51L344.1 557.91M346.85 558.83L347.1 558.32M347.35 557.99L347.6 558.04M348.35 557.3L348.6 557.45M349.1 558.39L349.35 558.22M350.1 558.31L350.35 558.29M351.1 558.57L351.35 558.9M351.6 558.91L351.85 558.26M352.6 557.37L352.85 559.24M353.1 559.17L353.35 559.11M353.85 558.99L354.1 558.82M357.35 558.9L357.6 557.84M358.1 557.75L358.35 558.02M359.6 558.9L359.85 558.49M360.35 558.25L360.6 558.91M361.6 559.06L361.85 559.07M361.85 559.07L362.1 559.74M362.1 559.74L362.35 557.91M362.85 558.81L363.1 558.84M363.35 558.17L363.6 559.29M363.85 559.19L364.1 557.32M364.6 558.4L364.85 559.14M364.85 559.14L365.1 558.61M365.35 558.43L365.6 558.54M365.6 558.54L365.85 558.28M366.1 558.8L366.35 558.85M366.85 558.31L367.1 558.91M367.1 558.91L367.35 558.7M367.35 558.7L367.6 558.21M367.85 558.03L368.1 558.69M369.85 559.5L370.1 558.28M370.1 558.28L370.35 558.53M371.85 558.72L372.1 558.01M372.1 558.01L372.35 559.49M373.35 559.74L373.6 558.17M374.6 558.74L374.85 558.13M375.85 556.91L376.1 558.24M376.1 558.24L376.35 558.87M376.6 557.88L376.85 558.77M377.85 559.2L378.1 558.71M378.35 560.39L378.6 558.53M378.6 558.53L378.85 558.84M378.85 558.84L379.1 557.75M379.85 558.59L380.1 557.91M381.1 558.32L381.35 557.84M381.35 557.84L381.6 559.14M381.85 558.48L382.1 557.76M382.1 557.76L382.35 559.05M382.85 558.5L383.1 558.21M383.1 558.21L383.35 559.28M384.35 558.78L384.6 558.25M384.85 559.84L385.1 557.27M385.35 557.71L385.6 559.5M385.6 559.5L385.85 558.33M386.6 558.91L386.85 559.01M386.85 559.01L387.1 557.35M388.35 558.53L388.6 558.65M388.85 559.48L389.1 557.72M389.35 558.35L389.6 557.87M390.35 559.46L390.6 559.14" stroke="#0050ff" stroke-width="1" fill="none" stroke-linejoin="round"/>
<path d="M213.85 559.17L214.1 558.84M214.1 558.84L214.35 557.12M214.35 557.12L214.6 558.63M214.6 558.63L214.85 558.23M216.6 558.28L216.85 558.42M216.85 558.42L217.1 559.11M217.1 559.11L217.35 559.14M217.35 559.14L217.6 558.32M217.85 558.54L218.1 559.39M218.1 559.39L218.35 557.68M218.35 557.68L218.6 557M218.6 557L218.85 559.06M218.85 559.06L219.1 558.81M219.6 557.67L219.85 558.11M219.85 558.11L220.1 557.49M220.1 557.49L220.35 558.69M220.85 558.77L221.1 559.05M221.1 559.05L221.35 558.74M221.35 558.74L221.6 559.04M221.85 558.62L222.1 558.61M222.1 558.61L222.35 557.3M222.6 558.31L222.85 558.67M222.85 558.67L223.1 558.77M223.1 558.77L223.35 558.46M223.35 558.46L223.6 558.21M223.85 559.03L224.1 559.14M224.1 559.14L224.35 558.13M224.6 559.71L224.85 557.62M225.1 558.47L225.35 558.38M225.6 558.62L225.85 558.81M225.85 558.81L226.1 557.85M226.1 557.85L226.35 558.66M226.6 558.2L226.85 557.68M226.85 557.68L227.1 558.87M227.1 558.87L227.35 558.66M227.6 558.73L227.85 560.06M227.85 560.06L228.1 557.83M228.35 559.4L228.6 558.5M228.6 558.5L228.85 558.39M228.85 558.39L229.1 557.53M229.85 558.01L230.1 557.89M230.6 558.31L230.85 558.4M230.85 558.4L231.1 558.84M232.1 559.72L232.35 557.91M232.35 557.91L232.6 558.42M232.6 558.42L232.85 558.47M232.85 558.47L233.1 558.53M234.1 558.15L234.35 556.85M234.35 556.85L234.6 558.03M234.6 558.03L234.85 557.44M234.85 557.44L235.1 558.23M235.35 559.11L235.6 558.97M235.85 557.93L236.1 558.03M236.1 558.03L236.35 558.12M236.6 557.96L236.85 558.22M237.1 558.09L237.35 557.74M237.6 558.55L237.85 558.26M237.85 558.26L238.1 558.46M238.35 558.55L238.6 559.64M238.6 559.64L238.85 558.91M239.1 559.21L239.35 559.49M239.6 558.47L239.85 558.38M240.1 557.27L240.35 559.2M240.35 559.2L240.6 558.36M240.6 558.36L240.85 557.54M240.85 557.54L241.1 559.24M241.35 559.3L241.6 558.63M241.6 558.63L241.85 558.38M241.85 558.38L242.1 559.41M243.1 558.45L243.35 559.43M243.35 559.43L243.6 559M243.6 559L243.85 559.4M243.85 559.4L244.1 558.07M244.1 558.07L244.35 557.64M244.35 557.64L244.6 558.55M244.6 558.55L244.85 558.12M244.85 558.12L245.1 558.74M245.1 558.74L245.35 558.92M245.35 558.92L245.6 559.71M245.6 559.71L245.85 558.3M245.85 558.3L246.1 558.48M246.85 558.24L247.1 558.13M247.1 558.13L247.35 558.94M247.6 558.36L247.85 557.7M247.85 557.7L248.1 558.46M249.1 558.9L249.35 559.5M251.1 558.95L251.35 558.02M251.35 558.02L251.6 557.85M251.85 558.48L252.1 557.32M252.1 557.32L252.35 558.4M252.35 558.4L252.6 558.76M253.1 557.31L253.35 558.21M253.85 558.48L254.1 558.05M254.6 557.54L254.85 558.31M255.1 558.28L255.35 557.73M255.6 559.38L255.85 558.65M255.85 558.65L256.1 558.63M256.1 558.63L256.35 557.29M256.35 557.29L256.6 559.23M257.6 559.17L257.85 559.11M257.85 559.11L258.1 557.56M258.1 557.56L258.35 558.82M259.35 557.73L259.6 560.13M260.1 558.59L260.35 558.38M261.1 558.78L261.35 559.66M261.35 559.66L261.6 556.98M262.1 557.99L262.35 559.52M262.85 557.7L263.1 557.4M263.1 557.4L263.35 558.55M263.85 559.29L264.1 558.38M264.35 557.53L264.6 558.84M265.1 557.57L265.35 559.03M265.6 558.29L265.85 559.68M266.1 557.6L266.35 558.4M266.35 558.4L266.6 558.64M266.6 558.64L266.85 557.69M267.1 557.91L267.35 559.39M267.6 558.27L267.85 558.3M268.1 557.3L268.35 559.02M268.85 558.03L269.1 558.69M269.1 558.69L269.35 558.39M269.35 558.39L269.6 559.18M269.6 559.18L269.85 558.41M270.1 557.59L270.35 558.4M270.6 558.72L270.85 558.78M270.85 558.78L271.1 557.33M271.1 557.33L271.35 559.15M271.6 557.42L271.85 559.04M271.85 559.04L272.1 558.73M272.1 558.73L272.35 557.91M272.35 557.91L272.6 558.64M273.1 558.06L273.35 559.29M273.6 558.57L273.85 558.66M274.35 557.73L274.6 557.89M274.6 557.89L274.85 558.23M274.85 558.23L275.1 558.43M275.1 558.43L275.35 557.69M275.35 557.69L275.6 558.17M275.85 558.33L276.1 558.98M276.1 558.98L276.35 558.96M276.85 557.86L277.1 559.21M277.1 559.21L277.35 558.23M277.35 558.23L277.6 557.99M277.85 558.06L278.1 558.15M280.1 557.39L280.35 558.68M280.6 557.85L280.85 558.4M281.1 559.5L281.35 558.81M282.1 559.08L282.35 557.27M282.35 557.27L282.6 559.56M282.6 559.56L282.85 558.81M283.35 558.16L283.6 559.03M283.6 559.03L283.85 558.83M283.85 558.83L284.1 558.61M284.35 558.92L284.6 558.06M284.6 558.06L284.85 560.51M285.6 559.35L285.85 556.69M285.85 556.69L286.1 559.05M286.1 559.05L286.35 559.21M286.35 559.21L286.6 558.89M286.6 558.89L286.85 558.4M286.85 558.4L287.1 558.37M287.1 558.37L287.35 559.07M287.6 558.18L287.85 558.37M287.85 558.37L288.1 558.24M288.1 558.24L288.35 558.77M288.6 558.64L288.85 558.91M288.85 558.91L289.1 556.83M289.1 556.83L289.35 559.27M289.35 559.27L289.6 558.05M289.85 559.55L290.1 559.18M290.1 559.18L290.35 557.24M290.35 557.24L290.6 558.44M290.6 558.44L290.85 557.88M290.85 557.88L291.1 557.8M291.1 557.8L291.35 558.69M292.35 558.07L292.6 560.23M292.6 560.23L292.85 559.66M293.1 558.87L293.35 558.75M293.35 558.75L293.6 558.73M293.6 558.73L293.85 558.95M293.85 558.95L294.1 558.26M294.35 557.71L294.6 557.96M294.85 557.96L295.1 558.9M295.1 558.9L295.35 559.21M296.85 557.9L297.1 558.81M297.1 558.81L297.35 559.41M299.1 558.67L299.35 557.61M304.35 558.89L304.6 559.32M305.85 558.51L306.1 558.67M306.35 558L306.6 557.14M306.6 557.14L306.85 558.99M307.1 557.17L307.35 558.64M307.35 558.64L307.6 559.1M307.6 559.1L307.85 557.69M310.35 559.8L310.6 557.23M310.6 557.23L310.85 559.63M310.85 559.63L311.1 559.99M311.1 559.99L311.35 558.45M311.6 558.45L311.85 557.99M312.35 558.4L312.6 558.75M312.6 558.75L312.85 558.51M312.85 558.51L313.1 558.63M313.6 558.76L313.85 558.69M314.35 559.14L314.6 557.94M314.85 558.71L315.1 557.86M315.35 558.52L315.6 557.25M316.35 558.24L316.6 558.86M316.6 558.86L316.85 558.19M317.35 558.39L317.6 557.96M317.6 557.96L317.85 557.19M319.35 558.44L319.6 557.4M321.35 558.36L321.6 558.94M321.6 558.94L321.85 557.88M321.85 557.88L322.1 558.5M322.1 558.5L322.35 558.27M322.35 558.27L322.6 557.5M332.85 557.96L333.1 559.97M333.1 559.97L333.35 559.01M333.6 556.59L333.85 559.34M334.6 556.7L334.85 558.41M335.1 557.92L335.35 558.86M336.85 559.44L337.1 559.07M338.85 558.56L339.1 558.35M340.1 557.84L340.35 556.79M341.6 557.13L341.85 558.78M341.85 558.78L342.1 558.87M342.1 558.87L342.35 557.27M343.6 558.65L343.85 557.51M344.1 557.91L344.35 558.76M344.35 558.76L344.6 558.67M346.6 558.21L346.85 558.83M347.1 558.32L347.35 557.99M347.6 558.04L347.85 559.06M347.85 559.06L348.1 557.7M348.1 557.7L348.35 557.3M348.6 557.45L348.85 558.88M348.85 558.88L349.1 558.39M349.35 558.22L349.6 558.62M349.6 558.62L349.85 558.02M349.85 558.02L350.1 558.31M350.35 558.29L350.6 557.86M350.6 557.86L350.85 560.01M350.85 560.01L351.1 558.57M351.35 558.9L351.6 558.91M351.85 558.26L352.1 558.47M352.1 558.47L352.35 558.66M352.35 558.66L352.6 557.37M352.85 559.24L353.1 559.17M353.35 559.11L353.6 559.14M353.6 559.14L353.85 558.99M354.1 558.82L354.35 557.64M354.35 557.64L354.6 558.78M354.6 558.78L354.85 557.56M354.85 557.56L355.1 557.14M355.1 557.14L355.35 558.16M355.35 558.16L355.6 559.07M355.6 559.07L355.85 558.8M355.85 558.8L356.1 559.64M356.1 559.64L356.35 558.17M356.35 558.17L356.6 558.87M356.6 558.87L356.85 558.77M356.85 558.77L357.1 559.2M357.1 559.2L357.35 558.9M357.6 557.84L357.85 558.82M357.85 558.82L358.1 557.75M358.35 558.02L358.6 558.23M358.6 558.23L358.85 557.53M358.85 557.53L359.1 559.12M359.1 559.12L359.35 559.18M359.35 559.18L359.6 558.9M359.85 558.49L360.1 559.1M360.1 559.1L360.35 558.25M360.6 558.91L360.85 558.32M360.85 558.32L361.1 558.4M361.1 558.4L361.35 558.54M361.35 558.54L361.6 559.06M362.35 557.91L362.6 557.11M362.6 557.11L362.85 558.81M363.1 558.84L363.35 558.17M363.6 559.29L363.85 559.19M364.1 557.32L364.35 558.59M364.35 558.59L364.6 558.4M365.1 558.61L365.35 558.43M365.85 558.28L366.1 558.8M366.35 558.85L366.6 558.15M366.6 558.15L366.85 558.31M367.6 558.21L367.85 558.03M368.1 558.69L368.35 558.56M368.35 558.56L368.6 560.82M368.6 560.82L368.85 558.24M368.85 558.24L369.1 557.35M369.1 557.35L369.35 557.28M369.35 557.28L369.6 560.07M369.6 560.07L369.85 559.5M370.35 558.53L370.6 558.73M370.6 558.73L370.85 557.7M370.85 557.7L371.1 558.27M371.1 558.27L371.35 560.18M371.35 560.18L371.6 556.54M371.6 556.54L371.85 558.72M372.35 559.49L372.6 558.4M372.6 558.4L372.85 558.98M372.85 558.98L373.1 558.62M373.1 558.62L373.35 559.74M373.6 558.17L373.85 558.44M373.85 558.44L374.1 557.44M374.1 557.44L374.35 560.17M374.35 560.17L374.6 558.74M374.85 558.13L375.1 559.68M375.1 559.68L375.35 557.69M375.35 557.69L375.6 558.3M375.6 558.3L375.85 556.91M376.35 558.87L376.6 557.88M376.85 558.77L377.1 558.14M377.1 558.14L377.35 558.13M377.35 558.13L377.6 559.01M377.6 559.01L377.85 559.2M378.1 558.71L378.35 560.39M379.1 557.75L379.35 559.02M379.35 559.02L379.6 558.71M379.6 558.71L379.85 558.59M380.1 557.91L380.35 559.13M380.35 559.13L380.6 558.93M380.6 558.93L380.85 558.17M380.85 558.17L381.1 558.32M381.6 559.14L381.85 558.48M382.35 559.05L382.6 558.47M382.6 558.47L382.85 558.5M383.35 559.28L383.6 558.04M383.6 558.04L383.85 559.11M383.85 559.11L384.1 559.67M384.1 559.67L384.35 558.78M384.6 558.25L384.85 559.84M385.1 557.27L385.35 557.71M385.85 558.33L386.1 557.58M386.1 557.58L386.35 558.03M386.35 558.03L386.6 558.91M387.1 557.35L387.35 558.75M387.35 558.75L387.6 558.41M387.6 558.41L387.85 557.48M387.85 557.48L388.1 558.02M388.1 558.02L388.35 558.53M388.6 558.65L388.85 559.48M389.1 557.72L389.35 558.35M389.6 557.87L389.85 557.28M389.85 557.28L390.1 559M390.1 559L390.35 559.46M390.6 559.14L390.85 558.29M390.85 558.29L391.1 557.73M391.1 557.73L391.35 559.47M391.35 559.47L391.6 558.2" stroke="#0000f0" stroke-width="1" fill="none" stroke-linejoin="round"/>
<path d="M278.5 556.94L278.75 560.09M278.75 560.09L279 566.85M279 566.85L279.25 563.8M279.25 563.8L279.5 564.27M279.5 564.27L279.75 557.42M295.25 559.81L295.5 562.53M296.25 561.39L296.5 559.53M296.5 559.53L296.75 558.07M304.5 556.93L304.75 560.36M304.75 560.36L305 565.21M305 565.21L305.25 567.38M305.25 567.38L305.5 559.46M305.5 559.46L305.75 558.71M307.75 558.47L308 559.2M308 559.2L308.25 551.71M308.25 551.71L308.5 548.48M308.5 548.48L308.75 552.32M308.75 552.32L309 559.18M309 559.18L309.25 559.06" stroke="#ff8000" stroke-width="0.9" fill="none" stroke-linejoin="round"/>
<path d="M295.5 562.53L295.75 564.81M295.75 564.81L296 565.33M296 565.33L296.25 561.39" stroke="#ff1000" stroke-width="0.9" fill="none" stroke-linejoin="round"/>
<path d="M297.25 555.51L297.5 557.43M301.25 556.46L301.5 557.5" stroke="#60ff90" stroke-width="0.9" fill="none" stroke-linejoin="round"/>
<path d="M297.5 557.43L297.75 562.09M297.75 562.09L298 565.32M298 565.32L298.25 562.48M298.25 562.48L298.5 561.35M298.5 561.35L298.75 558.2M302.75 559.48L303 564.35M303.75 560.11L304 558.81M320 559.87L320.25 562.22M320.25 562.22L320.5 565.69M320.5 565.69L320.75 563.82M320.75 563.82L321 559.06M321 559.06L321.25 558.55M322.5 558.89L322.75 559.52M323.75 555.85L324 557.28M335.25 558.02L335.5 559.45M335.5 559.45L335.75 561.7M335.75 561.7L336 564.96M336 564.96L336.25 562.18M336.25 562.18L336.5 559.55M340.75 557.34L341 561.48M341 561.48L341.25 559.73M341.25 559.73L341.5 558.39" stroke="#0000f0" stroke-width="0.9" fill="none" stroke-linejoin="round"/>
<path d="M299.25 558.14L299.5 556.25M301 569.19L301.25 556.46M318 564.97L318.25 569.33M318.25 569.33L318.5 567.22M318.5 567.22L318.75 562.4M325 554.69L325.25 554.18M325.25 554.18L325.5 552.24M325.5 552.24L325.75 549.89M325.75 549.89L326 551.97M326 551.97L326.25 552.32M326.25 552.32L326.5 551.36M326.5 551.36L326.75 551.27M326.75 551.27L327 550.6M327 550.6L327.25 551.22M327.25 551.22L327.5 548.44M327.5 548.44L327.75 552.52M327.75 552.52L328 551.03M328 551.03L328.25 548.39M328.25 548.39L328.5 550.23M328.5 550.23L328.75 552.81M328.75 552.81L329 555.53M329 555.53L329.25 554.38M329.25 554.38L329.5 552.49M329.5 552.49L329.75 553.53M329.75 553.53L330 553.58M330 553.58L330.25 546.19M331 539.49L331.25 551.43M331.25 551.43L331.5 558.23M337.25 560.17L337.5 573.53M337.5 573.53L337.75 574.34M337.75 574.34L338 567.91M338 567.91L338.25 563.33M345 550.74L345.25 540.47M345.75 540.02L346 549.96" stroke="#00d0ff" stroke-width="0.9" fill="none" stroke-linejoin="round"/>
<path d="M299.5 556.25L299.75 549.6M299.75 549.6L300 542.29M300 542.29L300.25 559.5M330.25 546.19L330.5 532.65M330.5 532.65L330.75 527.72M330.75 527.72L331 539.49M336.5 559.55L336.75 557.4M344.5 558.48L344.75 556.23M345.25 540.47L345.5 532.73M345.5 532.73L345.75 540.02M346.25 556.74L346.5 556.96" stroke="#f0f000" stroke-width="0.9" fill="none" stroke-linejoin="round"/>
<path d="M300.25 559.5L300.5 577.89M300.5 577.89L300.75 580.86M300.75 580.86L301 569.19M319.75 560.17L320 559.87" stroke="#10f0e0" stroke-width="0.9" fill="none" stroke-linejoin="round"/>
<path d="M301.5 557.5L301.75 556.98M301.75 556.98L302 552.79M302 552.79L302.25 555.13M302.25 555.13L302.5 558.22M331.5 558.23L331.75 559.9M340.5 561.36L340.75 557.34M344.75 556.23L345 550.74M346 549.96L346.25 556.74" stroke="#0090ff" stroke-width="0.9" fill="none" stroke-linejoin="round"/>
<path d="M302.5 558.22L302.75 559.48M303 564.35L303.25 568.65M303.25 568.65L303.5 564.55M303.5 564.55L303.75 560.11M317.75 555.5L318 564.97M318.75 562.4L319 561.36M319 561.36L319.25 560.13M322.75 559.52L323 566.47M323 566.47L323.25 570.72M323.25 570.72L323.5 566.89M323.5 566.89L323.75 555.85M324 557.28L324.25 553.25M324.25 553.25L324.5 557.25M324.5 557.25L324.75 555.05M324.75 555.05L325 554.69M337 557.81L337.25 560.17M338.25 563.33L338.5 558.51M339 557.95L339.25 556.53M339.25 556.53L339.5 555.68M339.5 555.68L339.75 557.89M339.75 557.89L340 557.7" stroke="#0050ff" stroke-width="0.9" fill="none" stroke-linejoin="round"/>
<rect x="211.7" y="733.3" width="177.2" height="139.9" fill="none" stroke="#262626" stroke-width="1.1"/>
<line x1="236.6" y1="873.2" x2="236.6" y2="871" stroke="#262626" stroke-width="0.9"/>
<line x1="236.6" y1="733.3" x2="236.6" y2="735.5" stroke="#262626" stroke-width="0.9"/>
<line x1="261.9" y1="873.2" x2="261.9" y2="871" stroke="#262626" stroke-width="0.9"/>
<line x1="261.9" y1="733.3" x2="261.9" y2="735.5" stroke="#262626" stroke-width="0.9"/>
<line x1="287.2" y1="873.2" x2="287.2" y2="871" stroke="#262626" stroke-width="0.9"/>
<line x1="287.2" y1="733.3" x2="287.2" y2="735.5" stroke="#262626" stroke-width="0.9"/>
<line x1="312.5" y1="873.2" x2="312.5" y2="871" stroke="#262626" stroke-width="0.9"/>
<line x1="312.5" y1="733.3" x2="312.5" y2="735.5" stroke="#262626" stroke-width="0.9"/>
<line x1="337.8" y1="873.2" x2="337.8" y2="871" stroke="#262626" stroke-width="0.9"/>
<line x1="337.8" y1="733.3" x2="337.8" y2="735.5" stroke="#262626" stroke-width="0.9"/>
<line x1="363.1" y1="873.2" x2="363.1" y2="871" stroke="#262626" stroke-width="0.9"/>
<line x1="363.1" y1="733.3" x2="363.1" y2="735.5" stroke="#262626" stroke-width="0.9"/>
<line x1="211.7" y1="768.27" x2="213.9" y2="768.27" stroke="#262626" stroke-width="0.9"/>
<line x1="388.9" y1="768.27" x2="386.7" y2="768.27" stroke="#262626" stroke-width="0.9"/>
<line x1="211.7" y1="803.25" x2="213.9" y2="803.25" stroke="#262626" stroke-width="0.9"/>
<line x1="388.9" y1="803.25" x2="386.7" y2="803.25" stroke="#262626" stroke-width="0.9"/>
<line x1="211.7" y1="838.23" x2="213.9" y2="838.23" stroke="#262626" stroke-width="0.9"/>
<line x1="388.9" y1="838.23" x2="386.7" y2="838.23" stroke="#262626" stroke-width="0.9"/>
<text x="209.8" y="737.39" font-size="7.8" font-family='"Liberation Sans", sans-serif' font-weight="bold" text-anchor="end" fill="#1a1a1a">20</text>
<text x="209.8" y="771.99" font-size="7.8" font-family='"Liberation Sans", sans-serif' font-weight="bold" text-anchor="end" fill="#1a1a1a">10</text>
<text x="209.8" y="806.89" font-size="7.8" font-family='"Liberation Sans", sans-serif' font-weight="bold" text-anchor="end" fill="#1a1a1a">0</text>
<text x="209.8" y="841.89" font-size="7.8" font-family='"Liberation Sans", sans-serif' font-weight="bold" text-anchor="end" fill="#1a1a1a">-10</text>
<text x="209.8" y="876.49" font-size="7.8" font-family='"Liberation Sans", sans-serif' font-weight="bold" text-anchor="end" fill="#1a1a1a">-20</text>
<text x="236.6" y="882.39" font-size="7.8" font-family='"Liberation Sans", sans-serif' font-weight="bold" text-anchor="middle" fill="#1a1a1a">9</text>
<text x="261.9" y="882.39" font-size="7.8" font-family='"Liberation Sans", sans-serif' font-weight="bold" text-anchor="middle" fill="#1a1a1a">8.5</text>
<text x="287.2" y="882.39" font-size="7.8" font-family='"Liberation Sans", sans-serif' font-weight="bold" text-anchor="middle" fill="#1a1a1a">8</text>
<text x="312.5" y="882.39" font-size="7.8" font-family='"Liberation Sans", sans-serif' font-weight="bold" text-anchor="middle" fill="#1a1a1a">7.5</text>
<text x="337.8" y="882.39" font-size="7.8" font-family='"Liberation Sans", sans-serif' font-weight="bold" text-anchor="middle" fill="#1a1a1a">7</text>
<text x="363.1" y="882.39" font-size="7.8" font-family='"Liberation Sans", sans-serif' font-weight="bold" text-anchor="middle" fill="#1a1a1a">6.5</text>
<text x="388.4" y="882.39" font-size="7.8" font-family='"Liberation Sans", sans-serif' font-weight="bold" text-anchor="middle" fill="#1a1a1a">6</text>
<text x="192.5" y="806.24" font-size="11" font-family='"Liberation Sans", sans-serif' text-anchor="middle" fill="#1a1a1a" transform="rotate(-90 192.5 802.3)">Coefficients</text>
<text x="221.4" y="767" font-size="12" font-family='"Liberation Sans", sans-serif' text-anchor="start" fill="#1a1a1a">HMTBA-d7</text>
<text x="222" y="847.1" font-size="12" font-family='"Liberation Sans", sans-serif' text-anchor="start" fill="#1a1a1a">HMTBA-d0</text>
<text x="288.7" y="891" font-size="9.5" font-family='"Liberation Sans", sans-serif' text-anchor="middle" fill="#1a1a1a">Chemical Shift,&#160; ppm</text>
<path d="M212.4 803.05L212.65 805.24M212.65 805.24L212.9 803.02M213.15 803.62L213.4 804.6M213.4 804.6L213.65 802.42M213.65 802.42L213.9 802.55M214.4 805.33L214.65 801.45M214.65 801.45L214.9 801.86M215.15 803.23L215.4 804.09M215.4 804.09L215.65 802.16M216.65 804.3L216.9 800.24M216.9 800.24L217.15 802.7M217.15 802.7L217.4 803.17M218.9 804.04L219.15 804.29M219.15 804.29L219.4 805.47M219.4 805.47L219.65 803.71M219.65 803.71L219.9 805.1M219.9 805.1L220.15 803.45M220.15 803.45L220.4 805.48M220.4 805.48L220.65 801.44M220.65 801.44L220.9 801.51M220.9 801.51L221.15 800.82M221.15 800.82L221.4 803.19M221.9 802.43L222.15 803.86M222.9 804.29L223.15 805.34M223.15 805.34L223.4 801.95M224.15 802.43L224.4 802.05M224.4 802.05L224.65 803.51M226.15 803.8L226.4 805.18M226.4 805.18L226.65 803.5M227.15 804.68L227.4 803.37M227.4 803.37L227.65 805.77M227.65 805.77L227.9 802.06M227.9 802.06L228.15 800.71M228.15 800.71L228.4 802.11M228.4 802.11L228.65 805.11M228.65 805.11L228.9 804.48M229.15 802.6L229.4 800.15M229.4 800.15L229.65 804.28M229.9 802.29L230.15 801.86M231.15 804.03L231.4 802.59M232.65 803.6L232.9 801.97M232.9 801.97L233.15 802.64M233.65 799.57L233.9 803.83M234.65 803.04L234.9 803.4M234.9 803.4L235.15 803.95M235.15 803.95L235.4 800.98M235.4 800.98L235.65 803.78M235.65 803.78L235.9 803.02M236.15 804.43L236.4 804.55M236.4 804.55L236.65 801.96M237.15 800.65L237.4 804.32M237.4 804.32L237.65 802.91M237.65 802.91L237.9 805.87M237.9 805.87L238.15 803.9M238.4 802.35L238.65 801.62M238.65 801.62L238.9 802.17M239.4 803.72L239.65 804.99M239.65 804.99L239.9 803.3M240.9 803.14L241.15 801.4M241.15 801.4L241.4 804.27M243.65 802.23L243.9 801.49M243.9 801.49L244.15 803M244.15 803L244.4 806.18M244.4 806.18L244.65 803.1M245.65 803.65L245.9 802.07M245.9 802.07L246.15 802.86M246.15 802.86L246.4 802.18M246.4 802.18L246.65 803.4M246.9 800.14L247.15 800.01M247.15 800.01L247.4 802.82M247.4 802.82L247.65 803.83M247.65 803.83L247.9 803.07M249.15 801.42L249.4 804.04M250.65 803.71L250.9 799.19M250.9 799.19L251.15 803.69M252.15 802.63L252.4 803.71M253.15 803.68L253.4 804.55M254.15 802.26L254.4 803.98M254.9 802.54L255.15 803.76M255.9 805.27L256.15 804.85M256.4 805.14L256.65 805.62M256.65 805.62L256.9 802.93M256.9 802.93L257.15 805.54M257.15 805.54L257.4 802.28M258.9 803.39L259.15 803.14M262.65 802.15L262.9 802.24M262.9 802.24L263.15 803.64M263.15 803.64L263.4 798.07M263.4 798.07L263.65 804.52M263.65 804.52L263.9 801.69M265.4 803.3L265.65 803.85M265.65 803.85L265.9 800.99M266.4 803.18L266.65 805.38M266.65 805.38L266.9 801.15M266.9 801.15L267.15 803.69M267.15 803.69L267.4 807.65M267.4 807.65L267.65 802.27M267.65 802.27L267.9 803.11M269.15 802.39L269.4 802.42M270.65 803.08L270.9 805.52M270.9 805.52L271.15 803.97M271.15 803.97L271.4 805.56M272.9 802.53L273.15 804.34M273.15 804.34L273.4 802.87M273.9 802.65L274.15 803.09M274.65 803.46L274.9 805.62M274.9 805.62L275.15 807.97M275.15 807.97L275.4 803.2M275.65 802.95L275.9 800.98M277.4 804.69L277.65 800.52M277.65 800.52L277.9 804.66M277.9 804.66L278.15 800.79M278.15 800.79L278.4 803.79M278.4 803.79L278.65 803.51M280.15 803.28L280.4 801.24M280.4 801.24L280.65 803.8M280.65 803.8L280.9 804.3M281.4 804.87L281.65 799.04M281.65 799.04L281.9 803.96M282.4 802.71L282.65 801.71M282.65 801.71L282.9 802.37M282.9 802.37L283.15 802.2M283.15 802.2L283.4 804.42M283.4 804.42L283.65 802.94M283.65 802.94L283.9 804.53M286.15 804.65L286.4 801.94M286.4 801.94L286.65 804.42M286.65 804.42L286.9 801.77M287.4 805.57L287.65 800.84M288.65 802.18L288.9 801.34M288.9 801.34L289.15 803.82M289.15 803.82L289.4 803.87M289.4 803.87L289.65 804.65M289.65 804.65L289.9 803.19M290.15 804.17L290.4 801.47M290.4 801.47L290.65 804.04M291.15 803.55L291.4 800.6M291.4 800.6L291.65 804.08M291.9 802.91L292.15 804.69M292.15 804.69L292.4 804.04M292.65 803.89L292.9 800.51M292.9 800.51L293.15 799.6M293.15 799.6L293.4 802.63M294.4 803.14L294.65 804.98M294.65 804.98L294.9 802.9M302.9 803.93L303.15 807.37M303.15 807.37L303.4 803.68M303.4 803.68L303.65 804.4M304.15 802.26L304.4 803.72M306.9 798.9L307.15 802.93M307.65 804.36L307.9 804.64M307.9 804.64L308.15 802.79M308.15 802.79L308.4 804.52M308.4 804.52L308.65 802.8M308.65 802.8L308.9 804.04M308.9 804.04L309.15 803.6M309.4 803.64L309.65 806.54M309.65 806.54L309.9 803.11M310.65 803.44L310.9 804.06M310.9 804.06L311.15 804.37M312.4 803.17L312.65 805.2M312.65 805.2L312.9 802.25M312.9 802.25L313.15 805.43M319.9 804.76L320.15 803.96M326.4 805.15L326.65 804.38M326.9 803.37L327.15 801.24M329.65 802.85L329.9 803.38M332.65 803.56L332.9 806.92M332.9 806.92L333.15 804.63M337.15 803.57L337.4 801.86M344.15 803.49L344.4 802.78M344.4 802.78L344.65 803.17M346.15 801.16L346.4 802.95M348.65 801.76L348.9 801.91M351.4 803.82L351.65 802.2M353.65 804.75L353.9 803.37M353.9 803.37L354.15 804.46M354.15 804.46L354.4 803.81M354.4 803.81L354.65 806.23M354.65 806.23L354.9 803.03M354.9 803.03L355.15 803.47M355.15 803.47L355.4 806.98M355.4 806.98L355.65 800.16M356.15 802.31L356.4 800.79M356.4 800.79L356.65 803.43M358.15 805.27L358.4 805.78M358.4 805.78L358.65 803.78M359.15 803.56L359.4 802.53M361.9 801.5L362.15 801.2M362.15 801.2L362.4 798.29M362.4 798.29L362.65 804.9M363.65 804.42L363.9 802.48M364.9 803.37L365.15 801.48M366.4 801.2L366.65 800.89M366.65 800.89L366.9 805.23M366.9 805.23L367.15 803.88M369.65 805.37L369.9 803.57M370.65 802.3L370.9 805.77M370.9 805.77L371.15 801.58M371.15 801.58L371.4 801.83M371.65 803.46L371.9 801.97M371.9 801.97L372.15 802.93M372.15 802.93L372.4 803.77M372.9 803.26L373.15 804.46M373.15 804.46L373.4 803.07M373.4 803.07L373.65 801.32M374.15 802.48L374.4 802.75M374.4 802.75L374.65 801.15M374.65 801.15L374.9 802.4M374.9 802.4L375.15 805.27M375.15 805.27L375.4 803.64M376.4 804.58L376.65 805.16M376.65 805.16L376.9 798.42M376.9 798.42L377.15 803.08M378.15 801.8L378.4 801.13M378.4 801.13L378.65 803.75M378.65 803.75L378.9 804.94M378.9 804.94L379.15 803.19M379.9 805.79L380.15 800.76M381.15 804.74L381.4 805.01M382.65 804.95L382.9 802.66M383.65 803.37L383.9 802.66M385.65 803.25L385.9 803.74M386.65 803.82L386.9 802.26M386.9 802.26L387.15 804.54M387.15 804.54L387.4 803.51" stroke="#00d0ff" stroke-width="0.9" fill="none" stroke-linejoin="round"/>
<path d="M212.9 803.02L213.15 803.62M214.9 801.86L215.15 803.23M222.15 803.86L222.4 803.72M223.9 802.92L224.15 802.43M225.15 801.48L225.4 802.44M225.9 802.75L226.15 803.8M228.9 804.48L229.15 802.6M230.4 804.99L230.65 800.97M231.4 802.59L231.65 801.3M233.9 803.83L234.15 804.15M238.15 803.9L238.4 802.35M239.9 803.3L240.15 803.11M240.15 803.11L240.4 802.72M242.4 804L242.65 801.17M244.65 803.1L244.9 802.93M244.9 802.93L245.15 803.97M245.15 803.97L245.4 802.72M245.4 802.72L245.65 803.65M247.9 803.07L248.15 802.84M248.15 802.84L248.4 802.18M248.4 802.18L248.65 803.17M249.4 804.04L249.65 803.48M249.9 803.01L250.15 804.28M251.15 803.69L251.4 801.19M251.4 801.19L251.65 803.27M252.4 803.71L252.65 804.42M254.4 803.98L254.65 804.47M254.65 804.47L254.9 802.54M257.4 802.28L257.65 802.26M257.65 802.26L257.9 803.86M258.15 803.7L258.4 804.98M258.4 804.98L258.65 803.51M258.65 803.51L258.9 803.39M259.15 803.14L259.4 805.3M260.9 803.63L261.15 802.51M261.15 802.51L261.4 802.74M261.4 802.74L261.65 804.4M262.15 804.63L262.4 805.3M262.4 805.3L262.65 802.15M264.65 803.15L264.9 804.58M269.4 802.42L269.65 803.25M269.65 803.25L269.9 804.08M270.4 804.36L270.65 803.08M275.4 803.2L275.65 802.95M276.4 802.62L276.65 804.91M276.65 804.91L276.9 802.86M276.9 802.86L277.15 802.86M277.15 802.86L277.4 804.69M278.65 803.51L278.9 802.14M278.9 802.14L279.15 803.72M279.15 803.72L279.4 802.22M281.9 803.96L282.15 802.59M282.15 802.59L282.4 802.71M291.65 804.08L291.9 802.91M292.4 804.04L292.65 803.89M294.15 802.34L294.4 803.14M294.9 802.9L295.15 803.26M301.9 801.82L302.15 801.01M302.15 801.01L302.4 805.35M304.65 803.42L304.9 803.95M307.15 802.93L307.4 804.1M307.4 804.1L307.65 804.36M309.15 803.6L309.4 803.64M310.4 804.2L310.65 803.44M314.15 802.4L314.4 803.75M314.4 803.75L314.65 805.87M314.65 805.87L314.9 800.83M314.9 800.83L315.15 802.47M324.65 802.19L324.9 801.08M324.9 801.08L325.15 803.46M325.15 803.46L325.4 803.91M325.4 803.91L325.65 801.11M325.65 801.11L325.9 804.99M326.65 804.38L326.9 803.37M330.4 802.52L330.65 802.25M330.65 802.25L330.9 803.58M336.9 803.33L337.15 803.57M344.65 803.17L344.9 804.72M346.9 802.12L347.15 802.89M347.15 802.89L347.4 803.4M356.65 803.43L356.9 804.09M357.65 802.86L357.9 804.63M359.4 802.53L359.65 805.75M359.65 805.75L359.9 801.65M363.9 802.48L364.15 803.93M367.9 803.27L368.15 802.84M368.15 802.84L368.4 802.8M368.9 803.01L369.15 804.13M370.15 803.97L370.4 805.06M370.4 805.06L370.65 802.3M371.4 801.83L371.65 803.46M375.4 803.64L375.65 803.01M379.15 803.19L379.4 802.38M381.9 803.35L382.15 802.12M382.9 802.66L383.15 805.2M383.15 805.2L383.4 803.42M384.9 802.31L385.15 802.19M385.15 802.19L385.4 805.07M385.4 805.07L385.65 803.25M385.9 803.74L386.15 802.68M386.15 802.68L386.4 803.35" stroke="#0090ff" stroke-width="0.9" fill="none" stroke-linejoin="round"/>
<path d="M213.9 802.55L214.15 806.09M214.15 806.09L214.4 805.33M287.65 800.84L287.9 806.53M287.9 806.53L288.15 802.86M293.4 802.63L293.65 806.48M293.65 806.48L293.9 805.12M325.9 804.99L326.15 800.46M326.15 800.46L326.4 805.15M355.65 800.16L355.9 807.51M355.9 807.51L356.15 802.31M368.4 802.8L368.65 806.12M368.65 806.12L368.9 803.01" stroke="#ff8000" stroke-width="0.9" fill="none" stroke-linejoin="round"/>
<path d="M215.65 802.16L215.9 804.75M215.9 804.75L216.15 801.84M216.15 801.84L216.4 801.76M216.4 801.76L216.65 804.3M222.4 803.72L222.65 801.64M222.65 801.64L222.9 804.29M223.4 801.95L223.65 805.37M223.65 805.37L223.9 802.92M226.65 803.5L226.9 808.33M226.9 808.33L227.15 804.68M230.65 800.97L230.9 805.88M230.9 805.88L231.15 804.03M231.65 801.3L231.9 800.32M231.9 800.32L232.15 802.87M232.15 802.87L232.4 806.88M232.4 806.88L232.65 803.6M234.15 804.15L234.4 801.49M234.4 801.49L234.65 803.04M240.4 802.72L240.65 804.68M240.65 804.68L240.9 803.14M242.65 801.17L242.9 799.16M242.9 799.16L243.15 804.84M248.65 803.17L248.9 801.18M248.9 801.18L249.15 801.42M250.15 804.28L250.4 800.17M250.4 800.17L250.65 803.71M252.65 804.42L252.9 806.25M252.9 806.25L253.15 803.68M255.15 803.76L255.4 800.09M255.4 800.09L255.65 807.13M255.65 807.13L255.9 805.27M259.4 805.3L259.65 808.22M259.65 808.22L259.9 805.98M260.65 804.63L260.9 803.63M261.65 804.4L261.9 807.78M261.9 807.78L262.15 804.63M263.9 801.69L264.15 805.26M265.9 800.99L266.15 800.62M266.15 800.62L266.4 803.18M268.4 802.5L268.65 802.1M268.65 802.1L268.9 800.67M268.9 800.67L269.15 802.39M269.9 804.08L270.15 806.34M270.15 806.34L270.4 804.36M273.4 802.87L273.65 804.66M273.65 804.66L273.9 802.65M274.15 803.09L274.4 804.77M274.4 804.77L274.65 803.46M279.4 802.22L279.65 804.57M279.65 804.57L279.9 808.29M279.9 808.29L280.15 803.28M280.9 804.3L281.15 800.4M281.15 800.4L281.4 804.87M283.9 804.53L284.15 805.79M284.15 805.79L284.4 803.84M284.9 800.8L285.15 806.02M285.15 806.02L285.4 804.85M290.65 804.04L290.9 806.44M290.9 806.44L291.15 803.55M295.15 803.26L295.4 801.11M295.4 801.11L295.65 803.6M295.65 803.6L295.9 801.91M295.9 801.91L296.15 804.41M303.65 804.4L303.9 804.61M303.9 804.61L304.15 802.26M304.9 803.95L305.15 799.78M305.15 799.78L305.4 804.95M305.65 802.54L305.9 805.51M309.9 803.11L310.15 799.25M310.15 799.25L310.4 804.2M313.15 805.43L313.4 799.15M313.4 799.15L313.65 803.34M319.65 806.17L319.9 804.76M328.9 802.68L329.15 806.11M329.15 806.11L329.4 805.63M329.9 803.38L330.15 808.39M330.15 808.39L330.4 802.52M330.9 803.58L331.15 801.5M331.15 801.5L331.4 802.66M335.4 803.9L335.65 806.5M335.65 806.5L335.9 803.45M351.65 802.2L351.9 806.32M353.15 805.71L353.4 800.92M353.4 800.92L353.65 804.75M356.9 804.09L357.15 806.12M357.9 804.63L358.15 805.27M361.15 803.36L361.4 806.66M361.4 806.66L361.65 799.71M361.65 799.71L361.9 801.5M362.65 804.9L362.9 806.34M362.9 806.34L363.15 803.86M364.4 801.83L364.65 801.6M364.65 801.6L364.9 803.37M365.15 801.48L365.4 807.06M365.4 807.06L365.65 804.91M365.65 804.91L365.9 801.83M365.9 801.83L366.15 806.98M366.15 806.98L366.4 801.2M367.15 803.88L367.4 804.96M367.4 804.96L367.65 808.79M367.65 808.79L367.9 803.27M369.15 804.13L369.4 806.98M369.4 806.98L369.65 805.37M377.15 803.08L377.4 805.51M377.4 805.51L377.65 803.83M377.65 803.83L377.9 805.51M377.9 805.51L378.15 801.8M379.4 802.38L379.65 805.58M381.4 805.01L381.65 806.84M381.65 806.84L381.9 803.35M382.15 802.12L382.4 806.18M382.4 806.18L382.65 804.95M384.4 803.81L384.65 805.4M384.65 805.4L384.9 802.31M387.4 803.51L387.65 798.61M387.65 798.61L387.9 804.08M387.9 804.08L388.15 800.19" stroke="#f0f000" stroke-width="0.9" fill="none" stroke-linejoin="round"/>
<path d="M217.4 803.17L217.65 805.05M217.65 805.05L217.9 804.61M224.65 803.51L224.9 800.93M224.9 800.93L225.15 801.48M225.4 802.44L225.65 805.78M225.65 805.78L225.9 802.75M230.15 801.86L230.4 804.99M236.65 801.96L236.9 806.21M236.9 806.21L237.15 800.65M238.9 802.17L239.15 806.19M239.15 806.19L239.4 803.72M241.4 804.27L241.65 805.67M241.65 805.67L241.9 803.02M241.9 803.02L242.15 801.7M242.15 801.7L242.4 804M253.9 800.77L254.15 802.26M256.15 804.85L256.4 805.14M264.15 805.26L264.4 805.89M264.4 805.89L264.65 803.15M264.9 804.58L265.15 801.77M265.15 801.77L265.4 803.3M267.9 803.11L268.15 804.74M268.15 804.74L268.4 802.5M272.65 804.83L272.9 802.53M284.4 803.84L284.65 806.07M284.65 806.07L284.9 800.8M285.4 804.85L285.65 800.7M285.65 800.7L285.9 801.44M285.9 801.44L286.15 804.65M293.9 805.12L294.15 802.34M302.4 805.35L302.65 803.38M305.4 804.95L305.65 802.54M311.15 804.37L311.4 800.95M313.65 803.34L313.9 804.85M313.9 804.85L314.15 802.4M329.4 805.63L329.65 802.85M333.15 804.63L333.4 804.05M333.4 804.05L333.65 804.67M333.65 804.67L333.9 805.51M333.9 805.51L334.15 802.14M358.65 803.78L358.9 800.21M358.9 800.21L359.15 803.56M359.9 801.65L360.15 803.9M360.65 802.66L360.9 800.12M360.9 800.12L361.15 803.36M363.15 803.86L363.4 805.38M363.4 805.38L363.65 804.42M364.15 803.93L364.4 801.83M372.4 803.77L372.65 801.4M372.65 801.4L372.9 803.26M373.65 801.32L373.9 805.74M373.9 805.74L374.15 802.48M375.65 803.01L375.9 801.8M375.9 801.8L376.15 801M376.15 801L376.4 804.58M379.65 805.58L379.9 805.79" stroke="#10f0e0" stroke-width="0.9" fill="none" stroke-linejoin="round"/>
<path d="M217.9 804.61L218.15 800.67M218.15 800.67L218.4 801.54M218.4 801.54L218.65 806.96M218.65 806.96L218.9 804.04M233.15 802.64L233.4 807.79M233.4 807.79L233.65 799.57M243.15 804.84L243.4 800M243.4 800L243.65 802.23M246.65 803.4L246.9 800.14M251.65 803.27L251.9 807.84M251.9 807.84L252.15 802.63M253.4 804.55L253.65 806.43M253.65 806.43L253.9 800.77M259.9 805.98L260.15 803.78M260.15 803.78L260.4 806.42M260.4 806.42L260.65 804.63M286.9 801.77L287.15 806.07M287.15 806.07L287.4 805.57M288.15 802.86L288.4 800.03M288.4 800.03L288.65 802.18M346.4 802.95L346.65 799.47M346.65 799.47L346.9 802.12M348.9 801.91L349.15 800.66M349.15 800.66L349.4 806.54M357.15 806.12L357.4 807.49M357.4 807.49L357.65 802.86M360.15 803.9L360.4 807.37M360.4 807.37L360.65 802.66M380.15 800.76L380.4 806.06M380.4 806.06L380.65 804.43M383.9 802.66L384.15 799.53M384.15 799.53L384.4 803.81" stroke="#60ff90" stroke-width="0.9" fill="none" stroke-linejoin="round"/>
<path d="M221.4 803.19L221.65 802.38M221.65 802.38L221.9 802.43M229.65 804.28L229.9 802.29M235.9 803.02L236.15 804.43M249.65 803.48L249.9 803.01M257.9 803.86L258.15 803.7M289.9 803.19L290.15 804.17M302.65 803.38L302.9 803.93M304.4 803.72L304.65 803.42M318.15 803.21L318.4 804.78M332.4 801.54L332.65 803.56M351.15 802.25L351.4 803.82M369.9 803.57L370.15 803.97M383.4 803.42L383.65 803.37M386.4 803.35L386.65 803.82" stroke="#0050ff" stroke-width="0.9" fill="none" stroke-linejoin="round"/>
<path d="M275.9 800.98L276.15 799.38M276.15 799.38L276.4 802.62M380.65 804.43L380.9 805.55M380.9 805.55L381.15 804.74" stroke="#ff1000" stroke-width="0.9" fill="none" stroke-linejoin="round"/>
<path d="M212.5 802.48L212.75 802.85M213.5 802.49L213.75 804.11M214 805.27L214.25 801.81M214.75 802.89L215 802.43M215 802.43L215.25 803.77M215.5 802.98L215.75 803.38M215.75 803.38L216 802.05M216 802.05L216.25 804.7M216.25 804.7L216.5 802.12M217.25 802.69L217.5 805.22M217.5 805.22L217.75 802.19M218 804.38L218.25 803.36M218.25 803.36L218.5 803.97M218.75 803.1L219 803M219 803L219.25 803.65M219.5 804.07L219.75 802.59M220 802.39L220.25 802.7M220.25 802.7L220.5 804.08M222.25 802.55L222.5 804.28M223.25 803.55L223.5 803.49M224.5 802.92L224.75 803.46M225.25 804.59L225.5 804.56M225.5 804.56L225.75 804.23M225.75 804.23L226 802.83M226 802.83L226.25 803.6M227 803.28L227.25 803.33M228 802.43L228.25 803.33M228.75 803.11L229 804.24M229 804.24L229.25 804.61M229.75 802.78L230 803.74M231.5 803.85L231.75 803.24M231.75 803.24L232 803.2M232 803.2L232.25 804.27M232.75 802.92L233 801.92M233.75 804.17L234 802.53M234 802.53L234.25 801.78M234.25 801.78L234.5 803.28M234.5 803.28L234.75 804.06M234.75 804.06L235 802.67M235 802.67L235.25 803.42M236.25 804.82L236.5 804.02M236.5 804.02L236.75 802.7M237 803.06L237.25 803.63M237.25 803.63L237.5 801.81M237.5 801.81L237.75 802.82M240.5 802.6L240.75 802.04M241.5 803.76L241.75 803.75M241.75 803.75L242 802.73M242 802.73L242.25 802.3M242.75 802.76L243 803.59M246.5 803.67L246.75 802.54M247.5 804.28L247.75 803.68M248 801.52L248.25 802.16M248.25 802.16L248.5 802.79M248.5 802.79L248.75 802.92M248.75 802.92L249 803.96M250.25 803.17L250.5 803.64M250.5 803.64L250.75 804.46M250.75 804.46L251 801.53M251 801.53L251.25 803.26M251.5 802.66L251.75 804.51M252.5 803.76L252.75 803.04M253 802.66L253.25 803.96M255 802.76L255.25 803.64M255.25 803.64L255.5 803.28M256.5 802.91L256.75 804.47M257 803.25L257.25 802.29M257.25 802.29L257.5 803.75M258.5 801.8L258.75 803.68M258.75 803.68L259 803.32M259.5 803.8L259.75 803.93M260.75 803.68L261 803.11M261 803.11L261.25 804.67M261.25 804.67L261.5 804.41M262.25 802.88L262.5 804.81M262.5 804.81L262.75 803.33M263 804.46L263.25 803.62M263.75 803.29L264 803.17M264.25 803.23L264.5 803.3M264.5 803.3L264.75 801.75M264.75 801.75L265 803.94M266 804.2L266.25 804.45M266.5 805.71L266.75 803.15M267.75 803.33L268 802.33M268.5 803.32L268.75 802.79M270.75 803.81L271 804.2M271.25 803.15L271.5 802.36M273 803.12L273.25 804.35M273.5 803.96L273.75 803.11M274.5 803.13L274.75 802.98M275.25 804.02L275.5 803.9M275.75 805.36L276 802.46M276.5 803.42L276.75 802.61M276.75 802.61L277 802.91M278 802.73L278.25 804.21M279.75 803.74L280 803.99M280.25 804L280.5 803.81M280.5 803.81L280.75 805.1M280.75 805.1L281 803.54M281.5 803.37L281.75 802.64M283 803.74L283.25 803.14M283.25 803.14L283.5 802.99M283.5 802.99L283.75 804.19M284.75 803.88L285 803.29M285.75 803.19L286 802.8M286.25 803.89L286.5 803.24M286.75 803.66L287 802.31M288 805.04L288.25 803.63M288.75 804.3L289 803.77M289 803.77L289.25 802.84M289.25 802.84L289.5 803.92M290.75 803.31L291 802.78M292 803.86L292.25 802.89M292.5 803L292.75 803.97M293 802.85L293.25 803.96M293.25 803.96L293.5 803.44M293.75 803.26L294 802.63M294 802.63L294.25 804.07M294.75 802.83L295 803.15M295.25 802.46L295.5 804.34M295.75 804.74L296 803.64M302 803.75L302.25 804.22M302.25 804.22L302.5 805.45M303 802.94L303.25 802.81M303.75 802.88L304 801.97M304.75 801.51L305 802.76M305.5 802.84L305.75 803.25M307.25 804.35L307.5 803.54M307.75 803.97L308 803.78M308.5 804.7L308.75 803.41M308.75 803.41L309 802.99M310 803.28L310.25 802.75M313.25 804.04L313.5 803.91M314 804.58L314.25 803.67M314.5 803.96L314.75 803.93M314.75 803.93L315 804.1M320 802.78L320.25 802.93M325 802.45L325.25 802.74M325.5 802.34L325.75 803.64M326.5 802.06L326.75 802.56M329.5 803.97L329.75 802.74M330 804.36L330.25 803.86M330.5 802.94L330.75 803.49M331 803.64L331.25 802.86M333 802.57L333.25 802.84M333.75 801.68L334 803.46M335.5 803L335.75 802.84M335.75 802.84L336 804.61M337 803.53L337.25 803.85M344.75 803.9L345 802.46M346.25 803.53L346.5 802.76M346.5 802.76L346.75 802.71M346.75 802.71L347 802.55M347 802.55L347.25 803.49M347.25 803.49L347.5 803.78M348.75 804.11L349 802.57M349 802.57L349.25 802.59M351.75 803.99L352 803.24M353.5 803.73L353.75 802.07M354 804.91L354.25 802.54M354.25 802.54L354.5 804.21M354.5 804.21L354.75 804.06M355.5 803.41L355.75 803.43M356.25 805.07L356.5 803.63M357.25 803.31L357.5 803.77M357.5 803.77L357.75 802.76M357.75 802.76L358 802.61M359.75 803.92L360 803.56M360 803.56L360.25 802.19M360.25 802.19L360.5 803.26M361.25 804.33L361.5 804.15M362.25 802.84L362.5 803.3M363 802.15L363.25 803.49M363.25 803.49L363.5 802.69M364.25 803.12L364.5 801.69M364.75 804.18L365 802.58M365 802.58L365.25 802.95M365.25 802.95L365.5 803.5M366.25 802.07L366.5 801.86M366.5 801.86L366.75 801.94M366.75 801.94L367 802.85M367.25 803.79L367.5 801.95M367.75 802.01L368 802.87M369 802.91L369.25 802.84M369.75 802.01L370 803.48M370 803.48L370.25 802.8M370.5 802.97L370.75 803.64M370.75 803.64L371 803.9M371.75 802.93L372 803.23M373 803.44L373.25 802.36M373.25 802.36L373.5 802.79M374.25 803.57L374.5 802.53M374.5 802.53L374.75 802.03M374.75 802.03L375 803.26M375.5 802.7L375.75 803.57M376 803.33L376.25 802.69M376.25 802.69L376.5 803.25M376.5 803.25L376.75 804.12M377 804.11L377.25 802.31M379.5 804.55L379.75 803.7M379.75 803.7L380 803.86M380 803.86L380.25 802.26M380.25 802.26L380.5 802.75M381 804.21L381.25 802.81M382.5 802.82L382.75 802.5M383 803.97L383.25 803.96M383.5 802.22L383.75 803.87M384 802.7L384.25 803.35M384.5 803.72L384.75 804.58M385 802.05L385.25 802.7M386.25 803.63L386.5 802.92M387.5 802.94L387.75 803.27M387.75 803.27L388 803.58" stroke="#0090ff" stroke-width="1" fill="none" stroke-linejoin="round"/>
<path d="M212.75 802.85L213 803.36M213 803.36L213.25 802.79M213.25 802.79L213.5 802.49M213.75 804.11L214 805.27M214.25 801.81L214.5 803.78M214.5 803.78L214.75 802.89M215.25 803.77L215.5 802.98M216.5 802.12L216.75 804.47M216.75 804.47L217 804.06M217 804.06L217.25 802.69M217.75 802.19L218 804.38M218.5 803.97L218.75 803.1M219.25 803.65L219.5 804.07M219.75 802.59L220 802.39M220.5 804.08L220.75 802.71M220.75 802.71L221 802.46M221 802.46L221.25 803.03M221.25 803.03L221.5 802.21M221.5 802.21L221.75 805.14M221.75 805.14L222 802.73M222 802.73L222.25 802.55M222.5 804.28L222.75 803.92M222.75 803.92L223 804.18M223 804.18L223.25 803.55M223.5 803.49L223.75 804.08M223.75 804.08L224 803.4M224 803.4L224.25 803.87M224.25 803.87L224.5 802.92M224.75 803.46L225 803.29M225 803.29L225.25 804.59M226.25 803.6L226.5 803.41M226.5 803.41L226.75 802.52M226.75 802.52L227 803.28M227.25 803.33L227.5 804.13M227.5 804.13L227.75 805.02M227.75 805.02L228 802.43M228.25 803.33L228.5 803M228.5 803L228.75 803.11M229.25 804.61L229.5 802.82M229.5 802.82L229.75 802.78M230 803.74L230.25 802.79M230.25 802.79L230.5 801.96M230.5 801.96L230.75 803.77M230.75 803.77L231 803.69M231 803.69L231.25 802.77M231.25 802.77L231.5 803.85M232.25 804.27L232.5 802.37M232.5 802.37L232.75 802.92M233 801.92L233.25 803.59M233.25 803.59L233.5 803.29M233.5 803.29L233.75 804.17M235.25 803.42L235.5 801.38M235.5 801.38L235.75 803.15M235.75 803.15L236 803.46M236 803.46L236.25 804.82M236.75 802.7L237 803.06M237.75 802.82L238 802.84M238 802.84L238.25 803.72M238.25 803.72L238.5 803.53M238.5 803.53L238.75 802.88M238.75 802.88L239 802.03M239 802.03L239.25 802.76M239.25 802.76L239.5 802.63M239.5 802.63L239.75 803.26M239.75 803.26L240 802.7M240 802.7L240.25 802.87M240.25 802.87L240.5 802.6M240.75 802.04L241 803.75M241 803.75L241.25 801.98M241.25 801.98L241.5 803.76M242.25 802.3L242.5 803.98M242.5 803.98L242.75 802.76M243 803.59L243.25 803.42M243.25 803.42L243.5 804.26M243.5 804.26L243.75 803.6M243.75 803.6L244 803.2M244 803.2L244.25 803.5M244.25 803.5L244.5 803.55M244.5 803.55L244.75 803.14M244.75 803.14L245 802.49M245 802.49L245.25 804.44M245.25 804.44L245.5 803.07M245.5 803.07L245.75 802.78M245.75 802.78L246 804.16M246 804.16L246.25 803.09M246.25 803.09L246.5 803.67M246.75 802.54L247 802.08M247 802.08L247.25 801.68M247.25 801.68L247.5 804.28M247.75 803.68L248 801.52M249 803.96L249.25 804.09M249.25 804.09L249.5 803.68M249.5 803.68L249.75 803.95M249.75 803.95L250 803.8M250 803.8L250.25 803.17M251.25 803.26L251.5 802.66M251.75 804.51L252 801.07M252 801.07L252.25 804.63M252.25 804.63L252.5 803.76M252.75 803.04L253 802.66M253.25 803.96L253.5 802.23M253.5 802.23L253.75 803.5M253.75 803.5L254 803.13M254 803.13L254.25 802.87M254.25 802.87L254.5 802.41M254.5 802.41L254.75 802.08M254.75 802.08L255 802.76M255.5 803.28L255.75 804.41M255.75 804.41L256 803.71M256 803.71L256.25 803.68M256.25 803.68L256.5 802.91M256.75 804.47L257 803.25M257.5 803.75L257.75 803.91M257.75 803.91L258 805.83M258 805.83L258.25 804.31M258.25 804.31L258.5 801.8M259 803.32L259.25 803.95M259.25 803.95L259.5 803.8M259.75 803.93L260 802.9M260 802.9L260.25 802.36M260.25 802.36L260.5 803.11M260.5 803.11L260.75 803.68M261.5 804.41L261.75 805.54M261.75 805.54L262 803.56M262 803.56L262.25 802.88M262.75 803.33L263 804.46M263.25 803.62L263.5 802.46M263.5 802.46L263.75 803.29M264 803.17L264.25 803.23M265 803.94L265.25 803.45M265.25 803.45L265.5 803.59M265.5 803.59L265.75 802.85M265.75 802.85L266 804.2M266.25 804.45L266.5 805.71M266.75 803.15L267 803.45M267 803.45L267.25 803.71M267.25 803.71L267.5 803.71M267.5 803.71L267.75 803.33M268 802.33L268.25 805.11M268.25 805.11L268.5 803.32M268.75 802.79L269 802.49M269 802.49L269.25 803.92M269.25 803.92L269.5 803.45M269.5 803.45L269.75 803.53M269.75 803.53L270 803.55M270 803.55L270.25 803.94M270.25 803.94L270.5 805.44M270.5 805.44L270.75 803.81M271 804.2L271.25 803.15M272.75 802.32L273 803.12M273.25 804.35L273.5 803.96M273.75 803.11L274 804.25M274 804.25L274.25 803.25M274.25 803.25L274.5 803.13M274.75 802.98L275 802.36M275 802.36L275.25 804.02M275.5 803.9L275.75 805.36M276 802.46L276.25 803.93M276.25 803.93L276.5 803.42M277 802.91L277.25 802.04M277.25 802.04L277.5 803.41M277.5 803.41L277.75 802.6M277.75 802.6L278 802.73M278.25 804.21L278.5 802.43M278.5 802.43L278.75 803.6M278.75 803.6L279 802.05M279 802.05L279.25 802.75M279.25 802.75L279.5 803.65M279.5 803.65L279.75 803.74M280 803.99L280.25 804M281 803.54L281.25 804.15M281.25 804.15L281.5 803.37M281.75 802.64L282 803.82M282 803.82L282.25 803.58M282.25 803.58L282.5 803.09M282.5 803.09L282.75 802.58M282.75 802.58L283 803.74M283.75 804.19L284 802.96M284 802.96L284.25 803.89M284.25 803.89L284.5 804.07M284.5 804.07L284.75 803.88M285 803.29L285.25 802.52M285.25 802.52L285.5 804.42M285.5 804.42L285.75 803.19M286 802.8L286.25 803.89M286.5 803.24L286.75 803.66M287 802.31L287.25 803.47M287.25 803.47L287.5 803.39M287.5 803.39L287.75 802.99M287.75 802.99L288 805.04M288.25 803.63L288.5 802.47M288.5 802.47L288.75 804.3M289.5 803.92L289.75 804.57M289.75 804.57L290 802.99M290 802.99L290.25 804.21M290.25 804.21L290.5 804.37M290.5 804.37L290.75 803.31M291 802.78L291.25 803.5M291.25 803.5L291.5 803.95M291.5 803.95L291.75 805.03M291.75 805.03L292 803.86M292.25 802.89L292.5 803M292.75 803.97L293 802.85M293.5 803.44L293.75 803.26M294.25 804.07L294.5 802.74M294.5 802.74L294.75 802.83M295 803.15L295.25 802.46M295.5 804.34L295.75 804.74M296 803.64L296.25 804.52M302.5 805.45L302.75 803.5M302.75 803.5L303 802.94M303.25 802.81L303.5 802.74M303.5 802.74L303.75 802.88M304 801.97L304.25 802.8M304.25 802.8L304.5 804.74M304.5 804.74L304.75 801.51M305 802.76L305.25 802.45M305.25 802.45L305.5 802.84M305.75 803.25L306 804.96M307 803.73L307.25 804.35M307.5 803.54L307.75 803.97M308 803.78L308.25 801.49M308.25 801.49L308.5 804.7M309 802.99L309.25 802.08M309.25 802.08L309.5 803.75M309.5 803.75L309.75 803.9M309.75 803.9L310 803.28M310.25 802.75L310.5 803.74M310.5 803.74L310.75 804.11M310.75 804.11L311 803.6M311 803.6L311.25 803.85M311.25 803.85L311.5 803.61M312.5 803.07L312.75 803.68M312.75 803.68L313 803.66M313 803.66L313.25 804.04M313.5 803.91L313.75 803.59M313.75 803.59L314 804.58M314.25 803.67L314.5 803.96M315 804.1L315.25 804.23M318.25 803.68L318.5 802.6M319.75 803.9L320 802.78M324.75 801.58L325 802.45M325.25 802.74L325.5 802.34M325.75 803.64L326 803.06M326 803.06L326.25 803.74M326.25 803.74L326.5 802.06M326.75 802.56L327 805.05M327 805.05L327.25 803.05M329 802.79L329.25 803.8M329.25 803.8L329.5 803.97M329.75 802.74L330 804.36M330.25 803.86L330.5 802.94M330.75 803.49L331 803.64M331.25 802.86L331.5 803.66M332.5 801.52L332.75 803.87M332.75 803.87L333 802.57M333.25 802.84L333.5 804.21M333.5 804.21L333.75 801.68M334 803.46L334.25 803.21M337.25 803.85L337.5 802.99M344.25 802.15L344.5 801.6M344.5 801.6L344.75 803.9M349.25 802.59L349.5 804.21M351.25 803.24L351.5 802.96M351.5 802.96L351.75 803.99M353.25 803L353.5 803.73M353.75 802.07L354 804.91M354.75 804.06L355 803.6M355 803.6L355.25 803.15M355.25 803.15L355.5 803.41M355.75 803.43L356 804.15M356 804.15L356.25 805.07M356.5 803.63L356.75 802.99M356.75 802.99L357 803.69M357 803.69L357.25 803.31M358 802.61L358.25 802.97M358.25 802.97L358.5 802.29M358.5 802.29L358.75 803.85M358.75 803.85L359 803.58M359 803.58L359.25 803.19M359.25 803.19L359.5 802.18M359.5 802.18L359.75 803.92M360.5 803.26L360.75 803.49M360.75 803.49L361 803.44M361 803.44L361.25 804.33M361.5 804.15L361.75 802.64M361.75 802.64L362 802.65M362 802.65L362.25 802.84M362.5 803.3L362.75 801.15M362.75 801.15L363 802.15M363.5 802.69L363.75 803.18M363.75 803.18L364 803.57M364 803.57L364.25 803.12M364.5 801.69L364.75 804.18M365.5 803.5L365.75 804.06M365.75 804.06L366 803.28M366 803.28L366.25 802.07M367 802.85L367.25 803.79M367.5 801.95L367.75 802.01M368 802.87L368.25 801.76M368.25 801.76L368.5 803.38M368.5 803.38L368.75 803.15M368.75 803.15L369 802.91M369.25 802.84L369.5 802.7M369.5 802.7L369.75 802.01M370.25 802.8L370.5 802.97M371 803.9L371.25 802.18M371.25 802.18L371.5 802.35M371.5 802.35L371.75 802.93M372 803.23L372.25 802.41M372.25 802.41L372.5 804.16M372.5 804.16L372.75 805.12M372.75 805.12L373 803.44M373.5 802.79L373.75 803.09M373.75 803.09L374 803.33M374 803.33L374.25 803.57M375 803.26L375.25 803.83M375.25 803.83L375.5 802.7M375.75 803.57L376 803.33M376.75 804.12L377 804.11M377.25 802.31L377.5 803.63M377.5 803.63L377.75 803.6M377.75 803.6L378 804.44M378 804.44L378.25 803.68M378.25 803.68L378.5 803.02M378.5 803.02L378.75 802.9M378.75 802.9L379 802.98M379 802.98L379.25 804.85M379.25 804.85L379.5 804.55M380.5 802.75L380.75 804.51M380.75 804.51L381 804.21M381.25 802.81L381.5 802.51M381.5 802.51L381.75 802.54M381.75 802.54L382 805.27M382 805.27L382.25 802.36M382.25 802.36L382.5 802.82M382.75 802.5L383 803.97M383.25 803.96L383.5 802.22M383.75 803.87L384 802.7M384.25 803.35L384.5 803.72M384.75 804.58L385 802.05M385.25 802.7L385.5 803.61M385.5 803.61L385.75 804.12M385.75 804.12L386 803.67M386 803.67L386.25 803.63M386.5 802.92L386.75 803.83M386.75 803.83L387 803.67M387 803.67L387.25 803.19M387.25 803.19L387.5 802.94M388 803.58L388.25 803.05" stroke="#0050ff" stroke-width="1" fill="none" stroke-linejoin="round"/>
<path d="M271.4 805.56L271.65 805.51M297.65 797.25L297.9 793.52M297.9 793.52L298.15 786.18M298.15 786.18L298.4 795.44M298.4 795.44L298.65 807.24M306.65 800.44L306.9 798.9M320.15 803.96L320.4 807.69M320.4 807.69L320.65 808.66M320.65 808.66L320.9 809.98M320.9 809.98L321.15 804.22M321.15 804.22L321.4 802.84M327.4 800.32L327.65 796.22M327.65 796.22L327.9 793.77M327.9 793.77L328.15 802.21M331.4 802.66L331.65 802.91M334.15 802.14L334.4 798.52M335.15 798.57L335.4 803.9M341.9 798.58L342.15 798.53M342.15 798.53L342.4 792.92M342.4 792.92L342.65 785.75M342.65 785.75L342.9 790.51M342.9 790.51L343.15 796.07M345.9 801.84L346.15 801.16M350.4 802.49L350.65 798.44M350.65 798.44L350.9 802.45" stroke="#00d0ff" stroke-width="0.9" fill="none" stroke-linejoin="round"/>
<path d="M271.65 805.51L271.9 808.2M271.9 808.2L272.15 809.71M272.15 809.71L272.4 805.78M340.9 800.62L341.15 796.98" stroke="#ff1000" stroke-width="0.9" fill="none" stroke-linejoin="round"/>
<path d="M272.4 805.78L272.65 804.83M315.4 804.03L315.65 807.51M316.9 809.81L317.15 809.13M317.4 809.11L317.65 809.8M317.65 809.8L317.9 803.84M318.65 804.57L318.9 809.88M318.9 809.88L319.15 806.37M337.65 799.96L337.9 791.78M337.9 791.78L338.15 793.98M338.15 793.98L338.4 796.28M341.15 796.98L341.4 791.37M341.4 791.37L341.65 794.6M341.65 794.6L341.9 798.58" stroke="#ff8000" stroke-width="0.9" fill="none" stroke-linejoin="round"/>
<path d="M296.15 804.41L296.4 806.49M296.4 806.49L296.65 809.27M296.65 809.27L296.9 806.21M296.9 806.21L297.15 798.09M297.15 798.09L297.4 798.76M298.65 807.24L298.9 810.51M298.9 810.51L299.15 802.67M299.15 802.67L299.4 803.58M299.4 803.58L299.65 796.35M299.65 796.35L299.9 800.54M299.9 800.54L300.15 808.81M300.15 808.81L300.4 804.45M300.4 804.45L300.65 806.23M300.65 806.23L300.9 803.44M321.4 802.84L321.65 800.01M321.65 800.01L321.9 802.79M321.9 802.79L322.15 802.68M322.15 802.68L322.4 799.87M322.4 799.87L322.65 799.32M322.65 799.32L322.9 795.83M322.9 795.83L323.15 798.03M323.15 798.03L323.4 802.4M323.4 802.4L323.65 802M323.65 802L323.9 800.4M323.9 800.4L324.15 798.08M324.15 798.08L324.4 804.83M324.4 804.83L324.65 802.19M328.15 802.21L328.4 807.55M328.4 807.55L328.65 805.35M328.65 805.35L328.9 802.68M335.9 803.45L336.15 805.91M336.15 805.91L336.4 806.1M336.4 806.1L336.65 805.3M336.65 805.3L336.9 803.33M343.4 801.94L343.65 806.67M343.65 806.67L343.9 805.55M343.9 805.55L344.15 803.49M349.65 805.08L349.9 803.4M349.9 803.4L350.15 808.47M350.15 808.47L350.4 802.49" stroke="#0000f0" stroke-width="0.9" fill="none" stroke-linejoin="round"/>
<path d="M297.4 798.76L297.65 797.25M306.15 801.15L306.4 798.29M306.4 798.29L306.65 800.44M315.15 802.47L315.4 804.03M318.4 804.78L318.65 804.57M327.15 801.24L327.4 800.32M343.15 796.07L343.4 801.94M350.9 802.45L351.15 802.25" stroke="#0050ff" stroke-width="0.9" fill="none" stroke-linejoin="round"/>
<path d="M300.9 803.44L301.15 796.95M301.15 796.95L301.4 796.6M301.4 796.6L301.65 802.85M331.65 802.91L331.9 800.23M331.9 800.23L332.15 800.96M332.15 800.96L332.4 801.54M334.4 798.52L334.65 793.34M334.65 793.34L334.9 792.6M334.9 792.6L335.15 798.57M338.65 801.06L338.9 800.5M338.9 800.5L339.15 799.24M339.15 799.24L339.4 797.25M339.4 797.25L339.65 798.46M340.65 797.63L340.9 800.62M347.4 803.4L347.65 801.13M348.15 801.64L348.4 801M348.4 801L348.65 801.76M349.4 806.54L349.65 805.08" stroke="#60ff90" stroke-width="0.9" fill="none" stroke-linejoin="round"/>
<path d="M301.65 802.85L301.9 801.82" stroke="#0090ff" stroke-width="0.9" fill="none" stroke-linejoin="round"/>
<path d="M305.9 805.51L306.15 801.15M311.65 802.18L311.9 801.22M311.9 801.22L312.15 800.88M312.15 800.88L312.4 803.17M315.65 807.51L315.9 810.85M315.9 810.85L316.15 817.21M316.15 817.21L316.4 815.07M316.4 815.07L316.65 811.09M316.65 811.09L316.9 809.81M319.15 806.37L319.4 807.23M319.4 807.23L319.65 806.17M337.4 801.86L337.65 799.96M338.4 796.28L338.65 801.06M339.65 798.46L339.9 794.27M339.9 794.27L340.15 790.97M340.15 790.97L340.4 792.02M340.4 792.02L340.65 797.63M344.9 804.72L345.15 800.37M345.15 800.37L345.4 800.77M345.4 800.77L345.65 795.54M345.65 795.54L345.9 801.84M347.65 801.13L347.9 798.91M347.9 798.91L348.15 801.64M351.9 806.32L352.15 799.23M352.15 799.23L352.4 798.34M352.4 798.34L352.65 797.43M352.65 797.43L352.9 799.89M352.9 799.89L353.15 805.71" stroke="#f0f000" stroke-width="0.9" fill="none" stroke-linejoin="round"/>
<path d="M311.4 800.95L311.65 802.18" stroke="#10f0e0" stroke-width="0.9" fill="none" stroke-linejoin="round"/>
<path d="M317.15 809.13L317.4 809.11M317.9 803.84L318.15 803.21" stroke="#ffd000" stroke-width="0.9" fill="none" stroke-linejoin="round"/>
<rect x="419" y="259.6" width="230.3" height="151" fill="none" stroke="#333" stroke-width="1.2"/>
<line x1="441.8" y1="410.6" x2="441.8" y2="408.3" stroke="#333" stroke-width="1"/>
<line x1="441.8" y1="259.6" x2="441.8" y2="261.9" stroke="#333" stroke-width="1"/>
<line x1="487.65" y1="410.6" x2="487.65" y2="408.3" stroke="#333" stroke-width="1"/>
<line x1="487.65" y1="259.6" x2="487.65" y2="261.9" stroke="#333" stroke-width="1"/>
<line x1="533.5" y1="410.6" x2="533.5" y2="408.3" stroke="#333" stroke-width="1"/>
<line x1="533.5" y1="259.6" x2="533.5" y2="261.9" stroke="#333" stroke-width="1"/>
<line x1="579.35" y1="410.6" x2="579.35" y2="408.3" stroke="#333" stroke-width="1"/>
<line x1="579.35" y1="259.6" x2="579.35" y2="261.9" stroke="#333" stroke-width="1"/>
<line x1="625.2" y1="410.6" x2="625.2" y2="408.3" stroke="#333" stroke-width="1"/>
<line x1="625.2" y1="259.6" x2="625.2" y2="261.9" stroke="#333" stroke-width="1"/>
<line x1="419" y1="297.35" x2="421.3" y2="297.35" stroke="#333" stroke-width="1"/>
<line x1="649.3" y1="297.35" x2="647" y2="297.35" stroke="#333" stroke-width="1"/>
<line x1="419" y1="335.1" x2="421.3" y2="335.1" stroke="#333" stroke-width="1"/>
<line x1="649.3" y1="335.1" x2="647" y2="335.1" stroke="#333" stroke-width="1"/>
<line x1="419" y1="372.85" x2="421.3" y2="372.85" stroke="#333" stroke-width="1"/>
<line x1="649.3" y1="372.85" x2="647" y2="372.85" stroke="#333" stroke-width="1"/>
<text x="417.2" y="262.94" font-size="8.2" font-family='"Liberation Sans", sans-serif' font-weight="bold" text-anchor="end" fill="#1a1a1a">500</text>
<text x="417.2" y="301.14" font-size="8.2" font-family='"Liberation Sans", sans-serif' font-weight="bold" text-anchor="end" fill="#1a1a1a">250</text>
<text x="417.2" y="338.74" font-size="8.2" font-family='"Liberation Sans", sans-serif' font-weight="bold" text-anchor="end" fill="#1a1a1a">0</text>
<text x="417.2" y="377.14" font-size="8.2" font-family='"Liberation Sans", sans-serif' font-weight="bold" text-anchor="end" fill="#1a1a1a">-250</text>
<text x="417.2" y="414.34" font-size="8.2" font-family='"Liberation Sans", sans-serif' font-weight="bold" text-anchor="end" fill="#1a1a1a">-500</text>
<text x="441.8" y="419.34" font-size="8.2" font-family='"Liberation Sans", sans-serif' font-weight="bold" text-anchor="middle" fill="#1a1a1a">5</text>
<text x="487.65" y="419.34" font-size="8.2" font-family='"Liberation Sans", sans-serif' font-weight="bold" text-anchor="middle" fill="#1a1a1a">4</text>
<text x="533.5" y="419.34" font-size="8.2" font-family='"Liberation Sans", sans-serif' font-weight="bold" text-anchor="middle" fill="#1a1a1a">3</text>
<text x="579.35" y="419.34" font-size="8.2" font-family='"Liberation Sans", sans-serif' font-weight="bold" text-anchor="middle" fill="#1a1a1a">2</text>
<text x="625.2" y="419.34" font-size="8.2" font-family='"Liberation Sans", sans-serif' font-weight="bold" text-anchor="middle" fill="#1a1a1a">1</text>
<text x="529.4" y="430" font-size="9.8" font-family='"Liberation Sans", sans-serif' text-anchor="middle" fill="#1a1a1a">Chemical Shift, ppm</text>
<defs><linearGradient id="jet260" x1="0" y1="0" x2="0" y2="1"><stop offset="0" stop-color="#7f0000"/><stop offset="0.06" stop-color="#bf0000"/><stop offset="0.12" stop-color="#ff0000"/><stop offset="0.19" stop-color="#ff3f00"/><stop offset="0.25" stop-color="#ff7f00"/><stop offset="0.31" stop-color="#ffbf00"/><stop offset="0.38" stop-color="#ffff00"/><stop offset="0.44" stop-color="#bfff3f"/><stop offset="0.5" stop-color="#7fff7f"/><stop offset="0.56" stop-color="#3fffbf"/><stop offset="0.62" stop-color="#00ffff"/><stop offset="0.69" stop-color="#00bfff"/><stop offset="0.75" stop-color="#007fff"/><stop offset="0.81" stop-color="#003fff"/><stop offset="0.88" stop-color="#0000ff"/><stop offset="0.94" stop-color="#0000bf"/><stop offset="1" stop-color="#00007f"/></linearGradient></defs>
<rect x="659.4" y="260.1" width="11" height="151.8" fill="url(#jet260)" stroke="#555" stroke-width="0.8"/>
<text x="671.5" y="263.94" font-size="8.2" font-family='"Liberation Sans", sans-serif' font-weight="bold" text-anchor="start" fill="#1a1a1a">1</text>
<line x1="668.6" y1="290.46" x2="670.4" y2="290.46" stroke="#333" stroke-width="0.8"/>
<text x="671.5" y="293.94" font-size="8.2" font-family='"Liberation Sans", sans-serif' font-weight="bold" text-anchor="start" fill="#1a1a1a">0.8</text>
<line x1="668.6" y1="320.82" x2="670.4" y2="320.82" stroke="#333" stroke-width="0.8"/>
<text x="671.5" y="323.94" font-size="8.2" font-family='"Liberation Sans", sans-serif' font-weight="bold" text-anchor="start" fill="#1a1a1a">0.6</text>
<line x1="668.6" y1="351.18" x2="670.4" y2="351.18" stroke="#333" stroke-width="0.8"/>
<text x="671.5" y="354.34" font-size="8.2" font-family='"Liberation Sans", sans-serif' font-weight="bold" text-anchor="start" fill="#1a1a1a">0.4</text>
<line x1="668.6" y1="381.54" x2="670.4" y2="381.54" stroke="#333" stroke-width="0.8"/>
<text x="671.5" y="385.34" font-size="8.2" font-family='"Liberation Sans", sans-serif' font-weight="bold" text-anchor="start" fill="#1a1a1a">0.2</text>
<text x="671.5" y="415.24" font-size="8.2" font-family='"Liberation Sans", sans-serif' font-weight="bold" text-anchor="start" fill="#1a1a1a">0</text>
<path d="M420 335.3L427.5 335.3M636 335.3L637.04 335.38L638.08 335.22L639.12 335.48L640.17 335.36L641.21 335.33L642.25 335.1L643.29 335.32L644.33 335.2L645.38 335.37L646.42 335.29L647.46 335.43L648.5 335.3M612.23 335.3L612.43 335.3M612.43 335.3L612.63 335.3M612.63 335.3L612.83 335.3M612.83 335.3L613.03 335.27M613.03 335.27L613.23 335M613.23 335L613.43 333.67" stroke="#00d0ff" stroke-width="1.2" fill="none" stroke-linejoin="round"/>
<path d="M427.5 335.3L428.6 335.37L429.7 335.45L430.8 335.48L431.9 335.57L433 335.3M549 335.3L550 335.7L551 335.78L552 335.88L553 334.56L554 336.01L555 334.65L556 335.05L557 335.48L558 335.97L559 335.04L560 335.98L561 335.37L562 335L563 335.01L564 334.78L565 334.63L566 334.74L567 335.6L568 336.09L569 334.76L570 334.58L571 336.08L572 335.35L573 335.15L574 334.88L575 335.45L576 335.82L577 335.23L578 335.17L579 335.3M604 335.3L605.08 335.53L606.17 335.28L607.25 335.09L608.33 335.2L609.42 334.95L610.5 335.3" stroke="#0090ff" stroke-width="1.2" fill="none" stroke-linejoin="round"/>
<path d="M433 335.6L466 336.3" stroke="#0090ff" stroke-width="1.3" fill="none" stroke-linejoin="round"/>
<path d="M466 335.3L467 335.59L468 335.81L469 334.73L470 335.26L471 335.83L472 335.48L473 335.78L474 334.84L475 335.26L476 335L477 335.35L478 335.39L479 334.72L480 334.96L481 335.04L482 335.3M482 335.8L483 336.47L484 336.23L485 335.26L486 336.28L487 335.22L488 335.99L489 335.2L490 335L491 336.39L492 335.34L493 335.34L494 336.57L495 336.4L496 335.46L497 336.54L498 335.86L499 336.08L500 335.33L501 336.51L502 336.11L503 336.55L504 336.43L505 335.48L506 335.58L507 335.27L508 335.23L509 335.1L510 335.48L511 335.96L512 335.01L513 336.08L514 335.54L515 335.5L516 336.31L517 335.77L518 335.51L519 335.77L520 336.13L521 335.8M526 335.3L527 334.77L528 335.87L529 334.73L530 335.6L531 335.71L532 334.72L533 335.65L534 335.14L535 335.39L536 334.71L537 334.76L538 334.92L539 335.85L540 334.94L541 335.61L542 335.82L543 335.83L544 335.11L545 335.13L546 335.33L547 335.63L548 334.83L549 335.3M581 335.3L582 334.5L583 336.05L584 334.46L585 335.29L586 335.91L587 334.64L588 335.72L589 336.11L590 335.53L591 335.82L592 334.59L593 335.18L594 334.67L595 335.92L596 334.93L597 335.22L598 336.2L599 335.93L600 336.16L601 335.22L602 335.28L603 335.3M615.5 335.3L616.2 335L616.91 336.47L617.61 336.4L618.32 335.6L619.02 335.3L619.73 334.91L620.43 334.31L621.14 334.75L621.84 335.98L622.55 336.18L623.25 334.97L623.95 335.99L624.66 335.96L625.36 335.77L626.07 335.69L626.77 335.92L627.48 334.97L628.18 335.79L628.89 334.77L629.59 335.27L630.3 335.95L631 335.3" stroke="#0050ff" stroke-width="1.2" fill="none" stroke-linejoin="round"/>
<path d="M426.82 335.28L427.02 335.24M427.02 335.24L427.22 335.17M427.22 335.17L427.42 335.02M427.42 335.02L427.62 334.78M427.62 334.78L427.82 334.41M427.82 334.41L428.02 333.93M429.62 334.04L429.82 334.5M429.82 334.5L430.02 334.84M430.02 334.84L430.22 335.06M430.22 335.06L430.42 335.19M430.42 335.19L430.62 335.25M430.8 339.03L430.8 342.77M430.8 342.77L430.8 346.5M549 337.4L549 339.5M555.6 337.4L555.6 339.5M562.6 337.4L562.6 339.5M610.49 343.16L610.69 354.62M611.89 356.18L612.09 343.98" stroke="#60ff90" stroke-width="1.1" fill="none" stroke-linejoin="round"/>
<path d="M428.02 333.93L428.22 333.39M428.22 333.39L428.42 332.87M428.42 332.87L428.62 332.51M428.62 332.51L428.82 332.4M428.82 332.4L429.02 332.57M429.02 332.57L429.22 332.97M429.22 332.97L429.42 333.5M429.42 333.5L429.62 334.04M430.8 335.3L430.8 339.03M519 335.3L519 336.25M549 335.3L549 337.4M555.6 335.3L555.6 337.4M562.6 335.3L562.6 337.4M603.6 335.3L603.6 342.02M603.6 342.02L603.6 348.74" stroke="#f0f000" stroke-width="1.1" fill="none" stroke-linejoin="round"/>
<path d="M433 335.3L433 337.5M484.2 338.13L484.45 338.85M484.45 338.85L484.7 339.56M484.7 339.56L484.95 340.28M484.95 340.28L485.2 341M485.2 341L485.33 340.05M485.33 340.05L485.47 339.1M485.47 339.1L485.6 338.15M531.3 339.18L531.3 343.05M531.3 343.05L531.3 346.93M579.78 331.86L579.98 329.81M579.98 329.81L580.18 328.29M580.18 328.29L580.38 328.13M580.38 328.13L580.58 329.43M580.58 329.43L580.78 331.45M580.78 331.45L580.98 333.28M603.6 355.46L603.6 362.18M603.6 362.18L603.6 368.9" stroke="#ff1000" stroke-width="1.1" fill="none" stroke-linejoin="round"/>
<path d="M481.4 335.3L481.53 336.85M481.53 336.85L481.67 338.4M481.67 338.4L481.8 339.95M483.2 339.33L483.45 338.01M483.45 338.01L483.7 336.69M521.4 327.57L521.4 323.7M528 335.3L528 333.5" stroke="#0090ff" stroke-width="1.1" fill="none" stroke-linejoin="round"/>
<path d="M481.8 339.95L481.93 341.5M481.93 341.5L482.07 343.05M482.07 343.05L482.2 344.6M482.2 344.6L482.45 343.28M482.45 343.28L482.7 341.96M482.7 341.96L482.95 340.65M482.95 340.65L483.2 339.33M519 336.25L519 337.2M521.9 339.77L521.9 344.23M521.9 344.23L521.9 348.7M531.3 346.93L531.3 350.8M601.8 335.3L601.8 338M610.09 336.31L610.29 338.01M610.29 338.01L610.49 343.16M610.89 372.74L611.09 391.46M611.09 391.46L611.29 400.18M611.29 400.18L611.49 392.96M611.49 392.96L611.69 374.75M611.69 374.75L611.89 356.18M612.09 343.98L612.29 338.32M612.29 338.32L612.49 336.4" stroke="#00d0ff" stroke-width="1.1" fill="none" stroke-linejoin="round"/>
<path d="M483.7 336.69L483.95 337.41M483.95 337.41L484.2 338.13M485.6 338.15L485.73 337.2M485.73 337.2L485.87 336.25M485.87 336.25L486 335.3M578.98 335.24L579.18 335.08M579.18 335.08L579.38 334.6M579.38 334.6L579.58 333.57M579.58 333.57L579.78 331.86M580.98 333.28L581.18 334.45M581.18 334.45L581.38 335.01M581.38 335.01L581.58 335.22M603.6 348.74L603.6 355.46" stroke="#ff8000" stroke-width="1.1" fill="none" stroke-linejoin="round"/>
<path d="M490.5 335.3L490.63 336.85M490.63 336.85L490.77 338.4M490.77 338.4L490.9 339.95M490.9 339.95L491.03 341.5M491.03 341.5L491.17 343.05M491.17 343.05L491.3 344.6M491.3 344.6L491.39 343.31M491.39 343.31L491.48 342.03M491.48 342.03L491.58 340.74M491.58 340.74L491.67 339.45M491.67 339.45L491.76 338.16M491.76 338.16L491.85 336.88M491.85 336.88L491.94 338.85M492.9 340.61L493.02 338.59M493.02 338.59L493.15 336.57M497.75 336.92L497.88 338.2M497.88 338.2L498 339.48M498 339.48L498.12 340.76M498.12 340.76L498.25 342.04M498.25 342.04L498.38 343.32M498.38 343.32L498.5 344.6M498.5 344.6L498.62 343.21M498.62 343.21L498.75 341.82M498.75 341.82L498.88 340.43M498.88 340.43L499 339.04M499 339.04L499.12 337.64M499.12 337.64L499.25 336.25M500.8 336.39L500.93 337.24M500.93 337.24L501.07 338.1M501.07 338.1L501.2 338.95M501.2 338.95L501.33 339.8M501.33 339.8L501.47 340.65M501.47 340.65L501.6 341.5M501.6 341.5L501.73 340.47M501.73 340.47L501.87 339.43M501.87 339.43L502 338.4M502 338.4L502.13 337.37M502.13 337.37L502.27 336.33M502.27 336.33L502.4 335.3M508.4 335.3L508.53 337M508.53 337L508.67 338.7M508.67 338.7L508.8 340.4M509.73 339.93L509.87 338.53M509.87 338.53L510 337.14M511.55 336.86L511.67 338.3M511.67 338.3L511.8 339.74M511.8 339.74L511.92 341.18M511.92 341.18L512.05 342.62M512.05 342.62L512.17 344.06M512.17 344.06L512.3 345.5M512.3 345.5L512.38 344.13M512.38 344.13L512.47 342.77M512.47 342.77L512.55 341.4M512.55 341.4L512.63 340.04M512.63 340.04L512.72 338.67M512.72 338.67L512.8 337.3M515.4 336.6L515.48 338.09M515.48 338.09L515.57 339.57M515.57 339.57L515.65 341.05M515.65 341.05L515.73 342.53M515.73 342.53L515.82 344.02M515.82 344.02L515.9 345.5M515.9 345.5L516.03 343.8M516.03 343.8L516.17 342.1M516.17 342.1L516.3 340.4M516.3 340.4L516.43 338.7M516.43 338.7L516.57 337M516.57 337L516.7 335.3" stroke="#00d0ff" stroke-width="0.8" fill="none" stroke-linejoin="round"/>
<path d="M491.94 338.85L492.03 340.82M492.03 340.82L492.12 342.79M492.12 342.79L492.22 344.76M492.22 344.76L492.31 346.73M492.31 346.73L492.4 348.7M492.4 348.7L492.52 346.68M492.52 346.68L492.65 344.66M492.65 344.66L492.77 342.63M492.77 342.63L492.9 340.61M499.25 336.25L499.38 339.26M499.38 339.26L499.5 342.27M500.53 342.36L500.67 339.38M500.67 339.38L500.8 336.39M508.8 340.4L508.93 342.1M508.93 342.1L509.07 343.8M509.07 343.8L509.2 345.5M509.2 345.5L509.33 344.11M509.33 344.11L509.47 342.71M509.47 342.71L509.6 341.32M509.6 341.32L509.73 339.93M510 337.14L510.13 339.75M510.13 339.75L510.27 342.36M510.27 342.36L510.4 344.97M510.4 344.97L510.53 347.58M511.05 347.49L511.17 344.83M511.17 344.83L511.3 342.18M511.3 342.18L511.42 339.52M511.42 339.52L511.55 336.86M512.8 337.3L512.88 339.2M512.88 339.2L512.97 341.1M513.83 341.5L513.97 339.69M513.97 339.69L514.1 337.89" stroke="#60ff90" stroke-width="0.8" fill="none" stroke-linejoin="round"/>
<path d="M493.15 336.57L493.27 338.42M493.27 338.42L493.4 340.28M493.4 340.28L493.52 342.13M494.27 342.36L494.4 340.58M494.4 340.58L494.52 338.8M494.52 338.8L494.65 337.02M496.2 337.02L496.33 338.52M496.33 338.52L496.47 340.01M497.5 339.95L497.62 338.43M497.62 338.43L497.75 336.92M499.5 342.27L499.62 345.28M499.62 345.28L499.75 348.28M499.75 348.28L499.88 351.29M499.88 351.29L500 354.3M500 354.3L500.13 351.32M500.13 351.32L500.27 348.33M500.27 348.33L500.4 345.35M500.4 345.35L500.53 342.36M510.53 347.58L510.67 350.19M510.67 350.19L510.8 352.8M510.8 352.8L510.93 350.14M510.93 350.14L511.05 347.49M512.97 341.1L513.05 343M513.05 343L513.13 344.9M513.13 344.9L513.22 346.8M513.22 346.8L513.3 348.7M513.3 348.7L513.43 346.9M513.43 346.9L513.57 345.1M513.57 345.1L513.7 343.3M513.7 343.3L513.83 341.5M514.1 337.89L514.23 340.81M514.23 340.81L514.37 343.73M514.37 343.73L514.5 346.65M514.5 346.65L514.63 349.56M515.07 349.13L515.15 346M515.15 346L515.23 342.87M515.23 342.87L515.32 339.74M515.32 339.74L515.4 336.6" stroke="#f0f000" stroke-width="0.8" fill="none" stroke-linejoin="round"/>
<path d="M493.52 342.13L493.65 343.99M493.65 343.99L493.77 345.84M493.77 345.84L493.9 347.7M493.9 347.7L494.02 345.92M494.02 345.92L494.15 344.14M494.15 344.14L494.27 342.36M494.65 337.02L494.77 338.68M494.77 338.68L494.9 340.34M494.9 340.34L495.02 342.01M495.02 342.01L495.15 343.67M495.15 343.67L495.27 345.34M495.27 345.34L495.4 347M495.4 347L495.53 345.34M495.53 345.34L495.67 343.67M495.67 343.67L495.8 342.01M495.8 342.01L495.93 340.35M495.93 340.35L496.07 338.68M496.07 338.68L496.2 337.02M496.47 340.01L496.6 341.51M496.6 341.51L496.73 343.01M496.73 343.01L496.87 344.5M496.87 344.5L497 346M497 346L497.12 344.49M497.12 344.49L497.25 342.97M497.25 342.97L497.38 341.46M497.38 341.46L497.5 339.95" stroke="#ff8000" stroke-width="0.8" fill="none" stroke-linejoin="round"/>
<path d="M490.8 335.3L490.8 333M502.8 335.3L502.8 333.5M507.7 335.3L507.7 332.3M507.7 332.3L507.7 329.3M517 335.3L517 332.9M521.4 335.3L521.4 331.43M521.4 331.43L521.4 327.57M521.9 335.3L521.9 339.77M531.3 335.3L531.3 339.18" stroke="#0050ff" stroke-width="1.1" fill="none" stroke-linejoin="round"/>
<path d="M514.63 349.56L514.77 352.48M514.77 352.48L514.9 355.4M514.9 355.4L514.98 352.27M514.98 352.27L515.07 349.13" stroke="#ffd000" stroke-width="0.8" fill="none" stroke-linejoin="round"/>
<path d="M522.59 334.81L522.79 333.16M522.79 333.16L522.99 328.18M524.59 327.38L524.79 332.86M524.79 332.86L524.99 334.72M632.53 327.71L632.73 322.32M634.33 317.6L634.53 324.12M634.53 324.12L634.73 328.98" stroke="#ff8000" stroke-width="1.3" fill="none" stroke-linejoin="round"/>
<path d="M522.99 328.18L523.19 317.09M523.19 317.09L523.39 299.56M523.39 299.56L523.59 281.45M523.59 281.45L523.79 273.02M523.79 273.02L523.99 280.01M523.99 280.01L524.19 297.62M524.19 297.62L524.39 315.59M524.39 315.59L524.59 327.38M632.73 322.32L632.93 315.42M632.93 315.42L633.13 308.05M633.13 308.05L633.33 301.85M633.33 301.85L633.53 298.55M633.53 298.55L633.73 299.16M633.73 299.16L633.93 303.48M633.93 303.48L634.13 310.22M634.13 310.22L634.33 317.6" stroke="#ff1000" stroke-width="1.3" fill="none" stroke-linejoin="round"/>
<path d="M522.9 333L523.2 322" stroke="#f0f000" stroke-width="0.6" fill="none" stroke-linejoin="round"/>
<path d="M610.69 354.62L610.89 372.74" stroke="#10f0e0" stroke-width="1.1" fill="none" stroke-linejoin="round"/>
<path d="M613.43 333.67L613.63 329.53M615.43 328.7L615.63 330.66M615.63 330.66L615.83 332.19" stroke="#60ff90" stroke-width="1.2" fill="none" stroke-linejoin="round"/>
<path d="M613.63 329.53L613.83 322.21M614.83 321.18L615.03 323.79M615.03 323.79L615.23 326.36M615.23 326.36L615.43 328.7" stroke="#f0f000" stroke-width="1.2" fill="none" stroke-linejoin="round"/>
<path d="M613.83 322.21L614.03 316.22M614.03 316.22L614.23 315.9M614.23 315.9L614.43 316.97M614.43 316.97L614.63 318.81M614.63 318.81L614.83 321.18" stroke="#ffd000" stroke-width="1.2" fill="none" stroke-linejoin="round"/>
<path d="M614.6 317L615.6 324L616.6 333" stroke="#ff8000" stroke-width="0.9" fill="none" stroke-linejoin="round"/>
<path d="M631.73 335.01L631.93 334.52M631.93 334.52L632.13 333.44M632.13 333.44L632.33 331.33M632.33 331.33L632.53 327.71M634.73 328.98L634.93 332.1M634.93 332.1L635.13 333.85M635.13 333.85L635.33 334.71" stroke="#f0f000" stroke-width="1.3" fill="none" stroke-linejoin="round"/>
<line x1="527" y1="321.4" x2="532.7" y2="315.7" stroke="#111" stroke-width="1.1"/>
<text x="536.6" y="312.84" font-size="9.6" font-family='"Liberation Serif", serif' font-weight="bold" text-anchor="middle" fill="#111">Cho</text>
<line x1="580.3" y1="317.6" x2="580.3" y2="325.6" stroke="#111" stroke-width="1.1"/>
<text x="580" y="314.94" font-size="9.6" font-family='"Liberation Serif", serif' font-weight="bold" text-anchor="middle" fill="#111">AA</text>
<line x1="635.3" y1="300.5" x2="642.4" y2="293.9" stroke="#111" stroke-width="1.1"/>
<text x="640.9" y="291.64" font-size="9.6" font-family='"Liberation Serif", serif' font-weight="bold" text-anchor="middle" fill="#111">L1</text>
<line x1="485.2" y1="343.3" x2="485.2" y2="356.5" stroke="#111" stroke-width="1.1"/>
<text x="483" y="366.24" font-size="9.6" font-family='"Liberation Serif", serif' font-weight="bold" text-anchor="middle" fill="#111">Cn</text>
<line x1="531.3" y1="351.8" x2="531.3" y2="362.2" stroke="#111" stroke-width="1.1"/>
<text x="530.8" y="371.94" font-size="9.6" font-family='"Liberation Serif", serif' font-weight="bold" text-anchor="middle" fill="#111">Cn</text>
<line x1="603.6" y1="371" x2="603.6" y2="380.6" stroke="#111" stroke-width="1.1"/>
<text x="602" y="390.74" font-size="9.6" font-family='"Liberation Serif", serif' font-weight="bold" text-anchor="middle" fill="#111">Ala</text>
<rect x="417.1" y="485.8" width="232.3" height="148.8" fill="none" stroke="#333" stroke-width="1.2"/>
<line x1="439.8" y1="634.6" x2="439.8" y2="632.3" stroke="#333" stroke-width="1"/>
<line x1="439.8" y1="485.8" x2="439.8" y2="488.1" stroke="#333" stroke-width="1"/>
<line x1="486.28" y1="634.6" x2="486.28" y2="632.3" stroke="#333" stroke-width="1"/>
<line x1="486.28" y1="485.8" x2="486.28" y2="488.1" stroke="#333" stroke-width="1"/>
<line x1="532.76" y1="634.6" x2="532.76" y2="632.3" stroke="#333" stroke-width="1"/>
<line x1="532.76" y1="485.8" x2="532.76" y2="488.1" stroke="#333" stroke-width="1"/>
<line x1="579.24" y1="634.6" x2="579.24" y2="632.3" stroke="#333" stroke-width="1"/>
<line x1="579.24" y1="485.8" x2="579.24" y2="488.1" stroke="#333" stroke-width="1"/>
<line x1="625.72" y1="634.6" x2="625.72" y2="632.3" stroke="#333" stroke-width="1"/>
<line x1="625.72" y1="485.8" x2="625.72" y2="488.1" stroke="#333" stroke-width="1"/>
<line x1="417.1" y1="523" x2="419.4" y2="523" stroke="#333" stroke-width="1"/>
<line x1="649.4" y1="523" x2="647.1" y2="523" stroke="#333" stroke-width="1"/>
<line x1="417.1" y1="560.2" x2="419.4" y2="560.2" stroke="#333" stroke-width="1"/>
<line x1="649.4" y1="560.2" x2="647.1" y2="560.2" stroke="#333" stroke-width="1"/>
<line x1="417.1" y1="597.4" x2="419.4" y2="597.4" stroke="#333" stroke-width="1"/>
<line x1="649.4" y1="597.4" x2="647.1" y2="597.4" stroke="#333" stroke-width="1"/>
<text x="415.2" y="488.94" font-size="8.2" font-family='"Liberation Sans", sans-serif' font-weight="bold" text-anchor="end" fill="#1a1a1a">500</text>
<text x="415.2" y="526.14" font-size="8.2" font-family='"Liberation Sans", sans-serif' font-weight="bold" text-anchor="end" fill="#1a1a1a">250</text>
<text x="415.2" y="563.24" font-size="8.2" font-family='"Liberation Sans", sans-serif' font-weight="bold" text-anchor="end" fill="#1a1a1a">0</text>
<text x="415.2" y="600.34" font-size="8.2" font-family='"Liberation Sans", sans-serif' font-weight="bold" text-anchor="end" fill="#1a1a1a">-250</text>
<text x="415.2" y="637.94" font-size="8.2" font-family='"Liberation Sans", sans-serif' font-weight="bold" text-anchor="end" fill="#1a1a1a">-500</text>
<text x="439.8" y="644.54" font-size="8.2" font-family='"Liberation Sans", sans-serif' font-weight="bold" text-anchor="middle" fill="#1a1a1a">5</text>
<text x="486.28" y="644.54" font-size="8.2" font-family='"Liberation Sans", sans-serif' font-weight="bold" text-anchor="middle" fill="#1a1a1a">4</text>
<text x="532.76" y="644.54" font-size="8.2" font-family='"Liberation Sans", sans-serif' font-weight="bold" text-anchor="middle" fill="#1a1a1a">3</text>
<text x="579.24" y="644.54" font-size="8.2" font-family='"Liberation Sans", sans-serif' font-weight="bold" text-anchor="middle" fill="#1a1a1a">2</text>
<text x="625.72" y="644.54" font-size="8.2" font-family='"Liberation Sans", sans-serif' font-weight="bold" text-anchor="middle" fill="#1a1a1a">1</text>
<text x="533.4" y="653.2" font-size="9.8" font-family='"Liberation Sans", sans-serif' text-anchor="middle" fill="#1a1a1a">Chemical Shift, ppm</text>
<defs><linearGradient id="jet485" x1="0" y1="0" x2="0" y2="1"><stop offset="0" stop-color="#7f0000"/><stop offset="0.06" stop-color="#bf0000"/><stop offset="0.12" stop-color="#ff0000"/><stop offset="0.19" stop-color="#ff3f00"/><stop offset="0.25" stop-color="#ff7f00"/><stop offset="0.31" stop-color="#ffbf00"/><stop offset="0.38" stop-color="#ffff00"/><stop offset="0.44" stop-color="#bfff3f"/><stop offset="0.5" stop-color="#7fff7f"/><stop offset="0.56" stop-color="#3fffbf"/><stop offset="0.62" stop-color="#00ffff"/><stop offset="0.69" stop-color="#00bfff"/><stop offset="0.75" stop-color="#007fff"/><stop offset="0.81" stop-color="#003fff"/><stop offset="0.88" stop-color="#0000ff"/><stop offset="0.94" stop-color="#0000bf"/><stop offset="1" stop-color="#00007f"/></linearGradient></defs>
<rect x="659.6" y="485.4" width="11.2" height="150.6" fill="url(#jet485)" stroke="#555" stroke-width="0.8"/>
<text x="671.9" y="488.54" font-size="8.2" font-family='"Liberation Sans", sans-serif' font-weight="bold" text-anchor="start" fill="#1a1a1a">1</text>
<line x1="669" y1="515.52" x2="670.8" y2="515.52" stroke="#333" stroke-width="0.8"/>
<text x="671.9" y="518.24" font-size="8.2" font-family='"Liberation Sans", sans-serif' font-weight="bold" text-anchor="start" fill="#1a1a1a">0.8</text>
<line x1="669" y1="545.64" x2="670.8" y2="545.64" stroke="#333" stroke-width="0.8"/>
<text x="671.9" y="548.54" font-size="8.2" font-family='"Liberation Sans", sans-serif' font-weight="bold" text-anchor="start" fill="#1a1a1a">0.6</text>
<line x1="669" y1="575.76" x2="670.8" y2="575.76" stroke="#333" stroke-width="0.8"/>
<text x="671.9" y="578.54" font-size="8.2" font-family='"Liberation Sans", sans-serif' font-weight="bold" text-anchor="start" fill="#1a1a1a">0.4</text>
<line x1="669" y1="605.88" x2="670.8" y2="605.88" stroke="#333" stroke-width="0.8"/>
<text x="671.9" y="608.94" font-size="8.2" font-family='"Liberation Sans", sans-serif' font-weight="bold" text-anchor="start" fill="#1a1a1a">0.2</text>
<text x="671.9" y="639.34" font-size="8.2" font-family='"Liberation Sans", sans-serif' font-weight="bold" text-anchor="start" fill="#1a1a1a">0</text>
<path d="M418 559.9L424 559.9M582 559.9L583 559.26L584 559.86L585 559.99L586 559.9L587 559.6L588 559.28L589 560.05L590 560.46L591 559.12L592 559.41L593 560.48L594 560.43L595 560.19L596 559.05L597 560.3L598 560.76L599 560.8L600 559.9M617 559.9L618 560.23L619 559.62L620 559.99L621 559.83L622 559.63L623 560L624 559.53L625 559.59L626 559.8L627 559.56L628 559.55L629 559.96L630 560.09L631 559.9" stroke="#0090ff" stroke-width="1.2" fill="none" stroke-linejoin="round"/>
<path d="M424 559.87L424.2 559.83M424.2 559.83L424.4 559.74M424.4 559.74L424.6 559.59M424.6 559.59L424.8 559.34M424.8 559.34L425 558.95M425 558.95L425.2 558.43M427.2 558.43L427.4 558.95M427.4 558.95L427.6 559.34M427.6 559.34L427.8 559.59M427.8 559.59L428 559.74M428 559.74L428.2 559.83M428.2 559.83L428.4 559.87M522.7 542.83L522.7 534.74M611.7 543L612.2 533M616.7 555L617.4 559.9" stroke="#ff8000" stroke-width="1.3" fill="none" stroke-linejoin="round"/>
<path d="M425.2 558.43L425.4 557.79M425.4 557.79L425.6 557.11M425.6 557.11L425.8 556.49M425.8 556.49L426 556.06M426 556.06L426.2 555.9M426.2 555.9L426.4 556.06M426.4 556.06L426.6 556.49M426.6 556.49L426.8 557.11M426.8 557.11L427 557.79M427 557.79L427.2 558.43M522.7 534.74L522.7 526.66M522.7 526.66L522.7 518.57M522.7 518.57L522.7 510.49M522.7 510.49L522.7 502.4" stroke="#ff1000" stroke-width="1.3" fill="none" stroke-linejoin="round"/>
<path d="M428.6 559.9L428.6 564.27M499.97 566.18L500.06 564.98M500.06 564.98L500.15 563.77M506.3 559.9L506.3 556.6M506.3 556.6L506.3 553.3M509.85 561.1L509.94 561.58M509.94 561.58L510.03 562.06M510.03 562.06L510.12 562.55M510.12 562.55L510.22 563.03M510.22 563.03L510.31 563.52M510.31 563.52L510.4 564M510.4 564L510.52 563.7M510.52 563.7L510.65 563.39M510.65 563.39L510.77 563.09M510.77 563.09L510.9 562.78M510.9 562.78L511.02 562.48M511.02 562.48L511.15 562.17M514.7 560.6L514.83 560.75M514.83 560.75L514.97 560.9M514.97 560.9L515.1 561.05M515.1 561.05L515.23 561.2M515.23 561.2L515.37 561.35M515.37 561.35L515.5 561.5M515.5 561.5L515.62 561.37M515.62 561.37L515.75 561.23M515.75 561.23L515.88 561.1M515.88 561.1L516 560.96M516 560.96L516.12 560.83M516.12 560.83L516.25 560.69M516.62 562.85L516.75 563.56M516.75 563.56L516.88 564.28M516.88 564.28L517 565M517 565L517.12 564.3M517.12 564.3L517.25 563.59M517.25 563.59L517.38 562.89M522.3 559.9L522.3 555M530.8 559.9L530.8 564.92M530.8 564.92L530.8 569.95M577 559.9L577 564.45M610.7 559.9L610.7 569.5M610.7 569.5L610.7 579.1" stroke="#0050ff" stroke-width="1.1" fill="none" stroke-linejoin="round"/>
<path d="M428.6 564.27L428.6 568.63M489.9 565.48L490.02 566.86M490.02 566.86L490.15 568.24M490.15 568.24L490.27 569.62M490.27 569.62L490.4 571M490.4 571L490.49 569.66M490.49 569.66L490.58 568.33M490.58 568.33L490.67 566.99M490.67 566.99L490.77 565.66M508.97 575.07L509.13 578.08M509.13 578.08L509.3 581.1M509.3 581.1L509.39 577.77M509.39 577.77L509.48 574.43M513.23 567.43L513.4 570.32M513.4 570.32L513.57 573.22M514.17 572.87L514.3 569.8M514.3 569.8L514.43 566.73M520.5 580.7L520.5 587.63M520.5 587.63L520.5 594.57M520.5 594.57L520.5 601.5M623.06 558.13L623.26 556.92M623.26 556.92L623.46 555.63M623.46 555.63L623.66 554.71M623.66 554.71L623.86 554.54M623.86 554.54L624.06 555.2M624.06 555.2L624.26 556.39M624.26 556.39L624.46 557.68M625.48 559.85L625.68 559.72M625.68 559.72L625.88 559.34M625.88 559.34L626.08 558.5M626.08 558.5L626.28 557.12M627.48 558.27L627.68 559.21M627.68 559.21L627.88 559.67M627.88 559.67L628.08 559.84" stroke="#60ff90" stroke-width="1.1" fill="none" stroke-linejoin="round"/>
<path d="M428.6 568.63L428.6 573M487.85 563.38L488.03 564.96M488.03 564.96L488.2 566.55M488.2 566.55L488.38 568.14M488.38 568.14L488.55 569.73M488.55 569.73L488.72 571.31M488.72 571.31L488.9 572.9M488.9 572.9L489.02 571.2M489.02 571.2L489.15 569.51M489.15 569.51L489.27 567.81M489.27 567.81L489.4 566.12M489.4 566.12L489.52 564.42M489.52 564.42L489.65 562.72M490.95 562.99L491.04 565.32M491.04 565.32L491.13 567.66M491.88 569.66L492 567.21M492 567.21L492.12 564.76M492.12 564.76L492.25 562.31M498.93 569.19L499.02 567.24M499.02 567.24L499.1 565.29M504.5 562.2L504.63 564.34M504.63 564.34L504.77 566.47M504.77 566.47L504.9 568.6M504.9 568.6L505.03 570.73M505.03 570.73L505.17 572.87M505.17 572.87L505.3 575M505.3 575L505.43 572.57M505.43 572.57L505.57 570.13M505.57 570.13L505.7 567.7M505.7 567.7L505.83 565.27M505.83 565.27L505.97 562.83M505.97 562.83L506.1 560.4M508.3 563.01L508.47 566.02M508.47 566.02L508.63 569.04M508.63 569.04L508.8 572.05M508.8 572.05L508.97 575.07M509.48 574.43L509.58 571.1M509.58 571.1L509.67 567.76M509.67 567.76L509.76 564.43M509.76 564.43L509.85 561.1M512.9 561.65L513.07 564.54M513.07 564.54L513.23 567.43M513.57 573.22L513.73 576.11M513.73 576.11L513.9 579M513.9 579L514.03 575.93M514.03 575.93L514.17 572.87M514.43 566.73L514.57 563.66M514.57 563.66L514.7 560.6M520.5 566.83L520.5 573.77M520.5 573.77L520.5 580.7M548.5 559.9L548.5 564.95M603.1 566.73L603.1 573.55M603.1 573.55L603.1 580.38" stroke="#f0f000" stroke-width="1.1" fill="none" stroke-linejoin="round"/>
<path d="M430 559.9L465 566.4M466.5 564L472 559.9" stroke="#00d0ff" stroke-width="1.3" fill="none" stroke-linejoin="round"/>
<path d="M465 566.4L466.5 564M522.7 559L522.7 550.91" stroke="#f0f000" stroke-width="1.3" fill="none" stroke-linejoin="round"/>
<path d="M472 559.9L473 559.93L474 559.57L475 560.24L476 560.34L477 559.88L478 560.09L479 560.12L480 560.13L481 559.57L482 560.18L483 559.9M472 560.4L472.8 560.5L473.61 560.6L474.41 560.3L475.21 560.55L476.02 560.73L476.82 560.56L477.62 560.66L478.43 559.83L479.23 559.99L480.03 560.33L480.84 560.58L481.64 560.06L482.44 560.62L483.25 560.56L484.05 559.85L484.85 560.37L485.66 560.07L486.46 559.86L487.26 559.96L488.07 560.18L488.87 560.02L489.67 560.03L490.48 559.84L491.28 560.36L492.08 560.26L492.89 560.53L493.69 560.51L494.49 560.09L495.3 560.88L496.1 559.8L496.9 560.29L497.7 560.13L498.51 560.29L499.31 559.94L500.11 560.8L500.92 560.25L501.72 559.84L502.52 560.54L503.33 559.91L504.13 560.45L504.93 560.21L505.74 560.5L506.54 560.95L507.34 560.78L508.15 560.3L508.95 560.78L509.75 560.57L510.56 560.24L511.36 559.97L512.16 560.52L512.97 560.48L513.77 560.95L514.57 560.96L515.38 560.53L516.18 560.22L516.98 560.87L517.79 559.8L518.59 559.93L519.39 560.48L520.2 560.54L521 560.4M521 559.9L521.5 560.09L522 559.81L522.5 559.57L523 560.35L523.5 560.42L524 559.12L524.5 559.95L525 559.54L525.5 560.6L526 559.9M548 559.9L549 560.34L550 560.06L551 559.07L552 559.45L553 559.82L554 560.65L555 560.6L556 559.98L557 559.03L558 560.4L559 559.77L560 560.04L561 560.27L562 560.14L563 559.87L564 560.64L565 559.69L566 559.71L567 560.53L568 559.35L569 559.53L570 560.49L571 559.12L572 560.51L573 560.25L574 559.78L575 559.52L576 560.41L577 560.64L578 559.9M600 559.9L601 560.14L602 559.36L603 560.31L604 559.56L605 560.07L606 560.44L607 560.15L608 559.46L609 559.65L610 559.9" stroke="#0050ff" stroke-width="1.2" fill="none" stroke-linejoin="round"/>
<path d="M482.3 560.4L482.43 561.98M482.43 561.98L482.57 563.57M482.57 563.57L482.7 565.15M482.7 565.15L482.83 566.73M482.83 566.73L482.97 568.32M482.97 568.32L483.1 569.9M483.1 569.9L483.22 568.38M483.22 568.38L483.33 566.87M483.33 566.87L483.45 565.35M483.45 565.35L483.57 563.84M483.57 563.84L483.68 562.32M483.68 562.32L483.8 560.81M492.5 565.88L492.62 567.66M492.62 567.66L492.75 569.44M492.75 569.44L492.88 571.22M492.88 571.22L493 573M493 573L493.12 571.28M493.12 571.28L493.25 569.56M493.25 569.56L493.38 567.84M493.38 567.84L493.5 566.12M493.75 562.68L493.88 564.74M493.88 564.74L494 566.79M494 566.79L494.12 568.84M494.12 568.84L494.25 570.89M494.25 570.89L494.38 572.95M494.38 572.95L494.5 575M494.5 575L494.62 573.59M494.62 573.59L494.75 572.18M494.75 572.18L494.88 570.77M494.88 570.77L495 569.36M495 569.36L495.12 567.95M495.12 567.95L495.25 566.54M496.73 568.12L496.83 570.59M496.83 570.59L496.92 573.06M496.92 573.06L497.01 575.53M497.01 575.53L497.1 578M497.1 578L497.23 576.4M497.23 576.4L497.35 574.8M497.35 574.8L497.48 573.2M497.48 573.2L497.6 571.61M497.6 571.61L497.73 570.01M497.73 570.01L497.85 568.41M497.85 568.41L497.98 569.84M497.98 569.84L498.1 571.27M498.1 571.27L498.23 572.7M498.23 572.7L498.35 574.14M498.35 574.14L498.48 575.57M498.48 575.57L498.6 577M498.6 577L498.68 575.05M498.68 575.05L498.77 573.1M498.77 573.1L498.85 571.14M498.85 571.14L498.93 569.19M501.45 562.17L501.57 563.64M501.57 563.64L501.7 565.11M501.7 565.11L501.82 566.58M501.82 566.58L501.95 568.06M501.95 568.06L502.07 569.53M502.07 569.53L502.2 571M502.2 571L502.32 569.77M502.32 569.77L502.45 568.55M502.45 568.55L502.57 567.32M502.57 567.32L502.7 566.1M502.7 566.1L502.82 564.87M502.82 564.87L502.95 563.64M504.23 563.8L504.37 563M504.37 563L504.5 562.2M506.5 560.4L506.63 562.23M506.63 562.23L506.77 564.07M506.77 564.07L506.9 565.9M507.97 565.8L508.13 564.41M508.13 564.41L508.3 563.01M511.27 562.65L511.4 563.12M511.4 563.12L511.52 563.59M511.52 563.59L511.65 564.06M511.65 564.06L511.77 564.53M511.77 564.53L511.9 565M511.9 565L512.07 564.44M512.07 564.44L512.23 563.88M512.23 563.88L512.4 563.32M512.4 563.32L512.57 562.77M516.25 560.69L516.38 561.41M516.38 561.41L516.5 562.13M516.5 562.13L516.62 562.85M517.38 562.89L517.5 562.18M517.5 562.18L517.62 561.48M517.62 561.48L517.75 560.78M530.8 569.95L530.8 574.98M530.8 574.98L530.8 580M543.7 558.8L543.9 558.32M543.9 558.32L544.1 557.81M544.1 557.81L544.3 557.34M544.3 557.34L544.5 557.02M544.5 557.02L544.7 556.9M544.7 556.9L544.9 557.02M544.9 557.02L545.1 557.34M545.1 557.34L545.3 557.81M545.3 557.81L545.5 558.32M545.5 558.32L545.7 558.8M579.04 557.91L579.24 556.9M579.24 556.9L579.44 555.9M579.44 555.9L579.64 555.19M579.64 555.19L579.84 555.01M579.84 555.01L580.04 555.42M580.04 555.42L580.24 556.28M580.24 556.28L580.44 557.32M580.44 557.32L580.64 558.27" stroke="#ff1000" stroke-width="1.1" fill="none" stroke-linejoin="round"/>
<path d="M483.8 560.81L483.92 561.34M483.92 561.34L484.03 561.87M484.03 561.87L484.15 562.4M484.15 562.4L484.27 562.94M484.27 562.94L484.38 563.47M484.38 563.47L484.5 564M484.5 564L484.69 563.6M484.69 563.6L484.88 563.2M484.88 563.2L485.07 562.8M485.07 562.8L485.27 562.4M485.27 562.4L485.46 562M485.46 562L485.65 561.6M485.65 561.6L485.84 562.5M485.84 562.5L486.03 563.4M486.03 563.4L486.23 564.3M486.23 564.3L486.42 565.2M486.42 565.2L486.61 566.1M486.61 566.1L486.8 567M486.8 567L486.98 566.4M486.98 566.4L487.15 565.79M487.15 565.79L487.33 565.19M487.33 565.19L487.5 564.58M487.5 564.58L487.68 563.98M487.68 563.98L487.85 563.38M492.25 562.31L492.38 564.09M492.38 564.09L492.5 565.88M493.5 566.12L493.62 564.4M493.62 564.4L493.75 562.68M495.25 566.54L495.38 567.62M495.38 567.62L495.5 568.7M495.5 568.7L495.62 569.77M495.62 569.77L495.75 570.85M495.75 570.85L495.88 571.92M495.88 571.92L496 573M496 573L496.09 571.36M496.09 571.36L496.18 569.73M496.18 569.73L496.27 568.09M496.27 568.09L496.37 566.46M496.37 566.46L496.46 564.82M496.46 564.82L496.55 563.18M496.55 563.18L496.64 565.65M496.64 565.65L496.73 568.12M500.15 563.77L500.24 565.48M500.24 565.48L500.33 567.18M500.33 567.18L500.42 568.89M500.42 568.89L500.52 570.59M500.52 570.59L500.61 572.3M500.61 572.3L500.7 574M500.7 574L500.82 572.03M500.82 572.03L500.95 570.06M500.95 570.06L501.07 568.08M501.07 568.08L501.2 566.11M501.2 566.11L501.32 564.14M501.32 564.14L501.45 562.17M502.95 563.64L503.07 564.2M503.07 564.2L503.2 564.76M503.2 564.76L503.32 565.32M503.32 565.32L503.45 565.88M503.45 565.88L503.57 566.44M503.57 566.44L503.7 567M503.7 567L503.83 566.2M503.83 566.2L503.97 565.4M503.97 565.4L504.1 564.6M504.1 564.6L504.23 563.8M506.9 565.9L507.03 567.73M507.03 567.73L507.17 569.57M507.17 569.57L507.3 571.4M507.3 571.4L507.47 570M507.47 570L507.63 568.6M507.63 568.6L507.8 567.2M507.8 567.2L507.97 565.8M511.15 562.17L511.27 562.65M512.57 562.77L512.73 562.21M512.73 562.21L512.9 561.65M517.75 560.78L517.88 561.31M517.88 561.31L518 561.85M518 561.85L518.12 562.39M518.12 562.39L518.25 562.93M518.25 562.93L518.38 563.46M518.38 563.46L518.5 564M518.5 564L518.63 563.4M518.63 563.4L518.77 562.8M518.77 562.8L518.9 562.2M518.9 562.2L519.03 561.6M519.03 561.6L519.17 561M519.17 561L519.3 560.4M520.5 559.9L520.5 566.83M542.5 559.88L542.7 559.85M542.7 559.85L542.9 559.78M542.9 559.78L543.1 559.67M543.1 559.67L543.3 559.48M543.3 559.48L543.5 559.19M543.5 559.19L543.7 558.8M545.7 558.8L545.9 559.19M545.9 559.19L546.1 559.48M546.1 559.48L546.3 559.67M546.3 559.67L546.5 559.78M546.5 559.78L546.7 559.85M546.7 559.85L546.9 559.88M554.2 559.9L554.2 564.55M554.2 564.55L554.2 569.2M561.8 559.9L561.8 563.6M561.8 563.6L561.8 567.3M578.04 559.86L578.24 559.79M578.24 559.79L578.44 559.63M578.44 559.63L578.64 559.3M578.64 559.3L578.84 558.74M578.84 558.74L579.04 557.91M580.64 558.27L580.84 559M580.84 559L581.04 559.46M581.04 559.46L581.24 559.71M581.24 559.71L581.44 559.83" stroke="#ff8000" stroke-width="1.1" fill="none" stroke-linejoin="round"/>
<path d="M489.65 562.72L489.77 564.1M489.77 564.1L489.9 565.48M490.77 565.66L490.86 564.32M490.86 564.32L490.95 562.99M499.1 565.29L499.18 566.24M499.18 566.24L499.27 567.19M499.27 567.19L499.35 568.14M499.35 568.14L499.43 569.1M499.43 569.1L499.52 570.05M499.52 570.05L499.6 571M499.6 571L499.69 569.8M499.69 569.8L499.78 568.59M499.78 568.59L499.88 567.39M499.88 567.39L499.97 566.18M587 559.9L587 561.95M587 561.95L587 564M603.1 559.9L603.1 566.73M622.26 559.86L622.46 559.76M622.46 559.76L622.66 559.52M622.66 559.52L622.86 559.01M622.86 559.01L623.06 558.13M624.46 557.68L624.66 558.71M624.66 558.71L624.86 559.35M624.86 559.35L625.06 559.69M625.06 559.69L625.26 559.83M623.98 559.85L624.18 559.69M624.18 559.69L624.38 559.24M624.38 559.24L624.58 558.27M624.58 558.27L624.78 556.64M625.98 557.99L626.18 559.1M626.18 559.1L626.38 559.63M626.38 559.63L626.58 559.83M626.28 557.12L626.48 555.46M626.48 555.46L626.68 554.23M626.68 554.23L626.88 554.1M626.88 554.1L627.08 555.15M627.08 555.15L627.28 556.79M627.28 556.79L627.48 558.27M626.98 559.87L627.18 559.77M627.18 559.77L627.38 559.48M627.38 559.48L627.58 558.86M627.58 558.86L627.78 557.82M628.98 558.68L629.18 559.39M629.18 559.39L629.38 559.73M629.38 559.73L629.58 559.85" stroke="#00d0ff" stroke-width="1.1" fill="none" stroke-linejoin="round"/>
<path d="M491.13 567.66L491.23 569.99M491.23 569.99L491.32 572.33M491.32 572.33L491.41 574.66M491.41 574.66L491.5 577M491.5 577L491.62 574.55M491.62 574.55L491.75 572.1M491.75 572.1L491.88 569.66M548.5 564.95L548.5 570M603.1 580.38L603.1 587.2" stroke="#ffd000" stroke-width="1.1" fill="none" stroke-linejoin="round"/>
<path d="M522.7 550.91L522.7 542.83" stroke="#60ff90" stroke-width="1.3" fill="none" stroke-linejoin="round"/>
<path d="M526 559.9L527 560.24L528 559.59L529 559.62L530 559.49L531 559.9" stroke="#ff8000" stroke-width="1.2" fill="none" stroke-linejoin="round"/>
<path d="M531 559.9L532 560.49L533 559.65L534 560.03L535 559.87L536 560.07L537 560.02L538 560.19L539 559.44L540 560.21L541 559.66L542 559.94L543 559.7L544 559.66L545 559.94L546 559.86L547 559.73L548 559.9M635.2 559.9L648.5 559.9" stroke="#00d0ff" stroke-width="1.2" fill="none" stroke-linejoin="round"/>
<path d="M577 564.45L577 569M627.78 557.82L627.98 556.59M627.98 556.59L628.18 555.67M628.18 555.67L628.38 555.58M628.38 555.58L628.58 556.36M628.58 556.36L628.78 557.58M628.78 557.58L628.98 558.68" stroke="#0090ff" stroke-width="1.1" fill="none" stroke-linejoin="round"/>
<path d="M610.2 559.9L611.2 552" stroke="#0050ff" stroke-width="1.3" fill="none" stroke-linejoin="round"/>
<path d="M611.2 552L611.7 543" stroke="#0090ff" stroke-width="1.3" fill="none" stroke-linejoin="round"/>
<path d="M612.2 533L612.7 529.3L613.3 531M631.31 559.64L631.51 559.26M631.51 559.26L631.71 558.49M631.71 558.49L631.91 557.05M631.91 557.05L632.11 554.62M634.71 554.91L634.91 557.23M634.91 557.23L635.11 558.59M635.11 558.59L635.31 559.31" stroke="#f0f000" stroke-width="1.4" fill="none" stroke-linejoin="round"/>
<path d="M613.3 531L614.3 535.5L615.2 541M632.11 554.62L632.31 550.95M632.31 550.95L632.51 546.01M634.31 546.56L634.51 551.37M634.51 551.37L634.71 554.91" stroke="#ff8000" stroke-width="1.4" fill="none" stroke-linejoin="round"/>
<path d="M615.2 541L616 548L616.7 555M632.51 546.01L632.71 540.19M633.91 534.86L634.11 540.79M634.11 540.79L634.31 546.56" stroke="#ff1000" stroke-width="1.4" fill="none" stroke-linejoin="round"/>
<path d="M612.8 533L614 540L615 549" stroke="#ff1000" stroke-width="0.9" fill="none" stroke-linejoin="round"/>
<path d="M624.78 556.64L624.98 554.71M624.98 554.71L625.18 553.27M625.18 553.27L625.38 553.12M625.38 553.12L625.58 554.35M625.58 554.35L625.78 556.26M625.78 556.26L625.98 557.99" stroke="#10f0e0" stroke-width="1.1" fill="none" stroke-linejoin="round"/>
<path d="M632.71 540.19L632.91 534.3M632.91 534.3L633.11 529.47M633.11 529.47L633.31 526.8M633.31 526.8L633.51 526.94M633.51 526.94L633.71 529.87M633.71 529.87L633.91 534.86" stroke="#c00000" stroke-width="1.4" fill="none" stroke-linejoin="round"/>
<line x1="426.7" y1="545.5" x2="426.7" y2="553.6" stroke="#111" stroke-width="1.1"/>
<text x="428.8" y="542.24" font-size="9.6" font-family='"Liberation Serif", serif' font-weight="bold" text-anchor="middle" fill="#111">L9</text>
<line x1="428.6" y1="576.8" x2="428.6" y2="587.2" stroke="#111" stroke-width="1.1"/>
<text x="438.3" y="597.34" font-size="9.6" font-family='"Liberation Serif", serif' font-weight="bold" text-anchor="middle" fill="#111">&#945;-Glc</text>
<line x1="514" y1="513.2" x2="519.7" y2="518.9" stroke="#111" stroke-width="1.1"/>
<text x="507" y="510.04" font-size="9.6" font-family='"Liberation Serif", serif' font-weight="bold" text-anchor="middle" fill="#111">GPC</text>
<line x1="483.1" y1="570.7" x2="476" y2="577.7" stroke="#111" stroke-width="1.1"/>
<text x="467.1" y="585.34" font-size="9.6" font-family='"Liberation Serif", serif' font-weight="bold" text-anchor="middle" fill="#111">Cn</text>
<line x1="486.9" y1="568.3" x2="486.9" y2="580.6" stroke="#111" stroke-width="1.1"/>
<text x="482.3" y="589.14" font-size="9.6" font-family='"Liberation Serif", serif' font-weight="bold" text-anchor="middle" fill="#111">Asn</text>
<line x1="496.7" y1="575.8" x2="496.7" y2="588.2" stroke="#111" stroke-width="1.1"/>
<text x="495.9" y="597.84" font-size="9.6" font-family='"Liberation Serif", serif' font-weight="bold" text-anchor="middle" fill="#111">Lys</text>
<line x1="503.4" y1="571" x2="503.4" y2="580.6" stroke="#111" stroke-width="1.1"/>
<text x="503" y="588.44" font-size="9.6" font-family='"Liberation Serif", serif' font-weight="bold" text-anchor="middle" fill="#111">G</text>
<line x1="519.1" y1="588.2" x2="514" y2="593.3" stroke="#111" stroke-width="1.1"/>
<text x="512" y="601.14" font-size="9.6" font-family='"Liberation Serif", serif' font-weight="bold" text-anchor="middle" fill="#111">Bet</text>
<line x1="486.5" y1="605.6" x2="523.5" y2="605.6" stroke="#333" stroke-width="1.2"/>
<line x1="503.4" y1="605.6" x2="503.4" y2="613.8" stroke="#333" stroke-width="1.1"/>
<text x="505.2" y="624.84" font-size="9.6" font-family='"Liberation Serif", serif' font-weight="bold" text-anchor="middle" fill="#111">&#945;-&amp;&#946;-Glc</text>
<line x1="530.1" y1="582.5" x2="530.1" y2="592" stroke="#111" stroke-width="1.1"/>
<text x="531.3" y="601.14" font-size="9.6" font-family='"Liberation Serif", serif' font-weight="bold" text-anchor="middle" fill="#111">Cn</text>
<line x1="536.7" y1="550.6" x2="543.2" y2="555.9" stroke="#111" stroke-width="1.1"/>
<text x="533.1" y="547.94" font-size="9.6" font-family='"Liberation Serif", serif' font-weight="bold" text-anchor="middle" fill="#111">L8</text>
<line x1="546.2" y1="547.4" x2="546.2" y2="555.9" stroke="#111" stroke-width="1.1"/>
<text x="555.9" y="545.14" font-size="9.6" font-family='"Liberation Serif", serif' font-weight="bold" text-anchor="middle" fill="#111">DMA</text>
<line x1="533.9" y1="565" x2="538.5" y2="565" stroke="#111" stroke-width="1.1"/>
<line x1="536.2" y1="565" x2="536.2" y2="571" stroke="#111" stroke-width="1.1"/>
<text x="541.5" y="580.24" font-size="9.6" font-family='"Liberation Serif", serif' font-weight="bold" text-anchor="middle" fill="#111">Asn</text>
<line x1="561.8" y1="570" x2="561.8" y2="581.5" stroke="#111" stroke-width="1.1"/>
<text x="561.4" y="589.74" font-size="9.6" font-family='"Liberation Serif", serif' font-weight="bold" text-anchor="middle" fill="#111">Suc</text>
<line x1="579.8" y1="537.9" x2="579.8" y2="551.2" stroke="#111" stroke-width="1.1"/>
<text x="579.6" y="535.04" font-size="9.6" font-family='"Liberation Serif", serif' font-weight="bold" text-anchor="middle" fill="#111">AA</text>
<path d="M584.8 563.5L587.8 566.3L591.0 563.5" stroke="#111" stroke-width="1.1" fill="none"/>
<text x="591.9" y="576.04" font-size="9.6" font-family='"Liberation Serif", serif' font-weight="bold" text-anchor="middle" fill="#111">Lys</text>
<line x1="614.3" y1="524.6" x2="614.3" y2="529" stroke="#111" stroke-width="1.1"/>
<text x="610.6" y="524.24" font-size="9.6" font-family='"Liberation Serif", serif' font-weight="bold" text-anchor="middle" fill="#111">L3</text>
<line x1="617.4" y1="515.1" x2="617.4" y2="553" stroke="#111" stroke-width="1.2"/>
<text x="622.8" y="512.84" font-size="9.6" font-family='"Liberation Serif", serif' font-weight="bold" text-anchor="middle" fill="#111">3-HB</text>
<text x="624.2" y="544.88" font-size="7.2" font-family='"Liberation Serif", serif' font-weight="bold" text-anchor="middle" fill="#111">Val</text>
<line x1="622.6" y1="551.6" x2="627.4" y2="551.6" stroke="#111" stroke-width="1"/>
<line x1="624.9" y1="547.6" x2="624.9" y2="551.6" stroke="#111" stroke-width="1"/>
<line x1="626.3" y1="530.3" x2="631" y2="535" stroke="#111" stroke-width="1.1"/>
<text x="624.6" y="528.94" font-size="9.6" font-family='"Liberation Serif", serif' font-weight="bold" text-anchor="middle" fill="#111">L2</text>
<line x1="634.8" y1="530.3" x2="639.2" y2="525.5" stroke="#111" stroke-width="1.1"/>
<text x="640" y="525.24" font-size="9.6" font-family='"Liberation Serif", serif' font-weight="bold" text-anchor="middle" fill="#111">L1</text>
<rect x="416.7" y="724" width="232.6" height="153.5" fill="none" stroke="#333" stroke-width="1.2"/>
<line x1="439.4" y1="877.5" x2="439.4" y2="875.2" stroke="#333" stroke-width="1"/>
<line x1="439.4" y1="724" x2="439.4" y2="726.3" stroke="#333" stroke-width="1"/>
<line x1="485.8" y1="877.5" x2="485.8" y2="875.2" stroke="#333" stroke-width="1"/>
<line x1="485.8" y1="724" x2="485.8" y2="726.3" stroke="#333" stroke-width="1"/>
<line x1="532.2" y1="877.5" x2="532.2" y2="875.2" stroke="#333" stroke-width="1"/>
<line x1="532.2" y1="724" x2="532.2" y2="726.3" stroke="#333" stroke-width="1"/>
<line x1="578.6" y1="877.5" x2="578.6" y2="875.2" stroke="#333" stroke-width="1"/>
<line x1="578.6" y1="724" x2="578.6" y2="726.3" stroke="#333" stroke-width="1"/>
<line x1="625" y1="877.5" x2="625" y2="875.2" stroke="#333" stroke-width="1"/>
<line x1="625" y1="724" x2="625" y2="726.3" stroke="#333" stroke-width="1"/>
<line x1="416.7" y1="762.38" x2="419" y2="762.38" stroke="#333" stroke-width="1"/>
<line x1="649.3" y1="762.38" x2="647" y2="762.38" stroke="#333" stroke-width="1"/>
<line x1="416.7" y1="800.75" x2="419" y2="800.75" stroke="#333" stroke-width="1"/>
<line x1="649.3" y1="800.75" x2="647" y2="800.75" stroke="#333" stroke-width="1"/>
<line x1="416.7" y1="839.12" x2="419" y2="839.12" stroke="#333" stroke-width="1"/>
<line x1="649.3" y1="839.12" x2="647" y2="839.12" stroke="#333" stroke-width="1"/>
<text x="415.1" y="727.54" font-size="8.2" font-family='"Liberation Sans", sans-serif' font-weight="bold" text-anchor="end" fill="#1a1a1a">500</text>
<text x="415.1" y="765.74" font-size="8.2" font-family='"Liberation Sans", sans-serif' font-weight="bold" text-anchor="end" fill="#1a1a1a">250</text>
<text x="415.1" y="804.24" font-size="8.2" font-family='"Liberation Sans", sans-serif' font-weight="bold" text-anchor="end" fill="#1a1a1a">0</text>
<text x="415.1" y="842.34" font-size="8.2" font-family='"Liberation Sans", sans-serif' font-weight="bold" text-anchor="end" fill="#1a1a1a">-250</text>
<text x="415.1" y="880.94" font-size="8.2" font-family='"Liberation Sans", sans-serif' font-weight="bold" text-anchor="end" fill="#1a1a1a">-500</text>
<text x="439.4" y="888.14" font-size="8.2" font-family='"Liberation Sans", sans-serif' font-weight="bold" text-anchor="middle" fill="#1a1a1a">5</text>
<text x="485.8" y="888.14" font-size="8.2" font-family='"Liberation Sans", sans-serif' font-weight="bold" text-anchor="middle" fill="#1a1a1a">4</text>
<text x="532.2" y="888.14" font-size="8.2" font-family='"Liberation Sans", sans-serif' font-weight="bold" text-anchor="middle" fill="#1a1a1a">3</text>
<text x="578.6" y="888.14" font-size="8.2" font-family='"Liberation Sans", sans-serif' font-weight="bold" text-anchor="middle" fill="#1a1a1a">2</text>
<text x="625" y="888.14" font-size="8.2" font-family='"Liberation Sans", sans-serif' font-weight="bold" text-anchor="middle" fill="#1a1a1a">1</text>
<text x="532.8" y="897.4" font-size="9.8" font-family='"Liberation Sans", sans-serif' text-anchor="middle" fill="#1a1a1a">Chemical Shift, ppm</text>
<defs><linearGradient id="jet723" x1="0" y1="0" x2="0" y2="1"><stop offset="0" stop-color="#7f0000"/><stop offset="0.06" stop-color="#bf0000"/><stop offset="0.12" stop-color="#ff0000"/><stop offset="0.19" stop-color="#ff3f00"/><stop offset="0.25" stop-color="#ff7f00"/><stop offset="0.31" stop-color="#ffbf00"/><stop offset="0.38" stop-color="#ffff00"/><stop offset="0.44" stop-color="#bfff3f"/><stop offset="0.5" stop-color="#7fff7f"/><stop offset="0.56" stop-color="#3fffbf"/><stop offset="0.62" stop-color="#00ffff"/><stop offset="0.69" stop-color="#00bfff"/><stop offset="0.75" stop-color="#007fff"/><stop offset="0.81" stop-color="#003fff"/><stop offset="0.88" stop-color="#0000ff"/><stop offset="0.94" stop-color="#0000bf"/><stop offset="1" stop-color="#00007f"/></linearGradient></defs>
<rect x="659.4" y="723.8" width="11" height="154.7" fill="url(#jet723)" stroke="#555" stroke-width="0.8"/>
<text x="671.5" y="727.44" font-size="8.2" font-family='"Liberation Sans", sans-serif' font-weight="bold" text-anchor="start" fill="#1a1a1a">1</text>
<line x1="668.6" y1="754.74" x2="670.4" y2="754.74" stroke="#333" stroke-width="0.8"/>
<text x="671.5" y="757.84" font-size="8.2" font-family='"Liberation Sans", sans-serif' font-weight="bold" text-anchor="start" fill="#1a1a1a">0.8</text>
<line x1="668.6" y1="785.68" x2="670.4" y2="785.68" stroke="#333" stroke-width="0.8"/>
<text x="671.5" y="788.54" font-size="8.2" font-family='"Liberation Sans", sans-serif' font-weight="bold" text-anchor="start" fill="#1a1a1a">0.6</text>
<line x1="668.6" y1="816.62" x2="670.4" y2="816.62" stroke="#333" stroke-width="0.8"/>
<text x="671.5" y="819.94" font-size="8.2" font-family='"Liberation Sans", sans-serif' font-weight="bold" text-anchor="start" fill="#1a1a1a">0.4</text>
<line x1="668.6" y1="847.56" x2="670.4" y2="847.56" stroke="#333" stroke-width="0.8"/>
<text x="671.5" y="851.44" font-size="8.2" font-family='"Liberation Sans", sans-serif' font-weight="bold" text-anchor="start" fill="#1a1a1a">0.2</text>
<text x="671.5" y="881.64" font-size="8.2" font-family='"Liberation Sans", sans-serif' font-weight="bold" text-anchor="start" fill="#1a1a1a">0</text>
<path d="M417.5 800.9L418.56 801.13L419.62 800.68L420.69 800.86L421.75 800.79L422.81 800.96L423.88 800.89L424.94 801.16L426 800.9M478 800.9L479 800.77L480 800.46L481 801.1L482 800.55L483 801.03L484 800.91L485 801.31L486 800.95L487 801.02L488 800.66L489 800.9M637 800.9L648.5 800.9" stroke="#0090ff" stroke-width="1.2" fill="none" stroke-linejoin="round"/>
<path d="M424.54 800.89L424.74 800.86M424.74 800.86L424.94 800.81M424.94 800.81L425.14 800.7M425.14 800.7L425.34 800.52M425.34 800.52L425.54 800.25M427.14 800.37L427.34 800.6M427.34 800.6L427.54 800.76M427.54 800.76L427.74 800.84M427.74 800.84L427.94 800.88M490.53 807.31L490.65 808.73M490.65 808.73L490.77 810.16M490.77 810.16L490.88 811.58M490.88 811.58L491 813M491 813L491.12 811.3M491.12 811.3L491.25 809.61M491.25 809.61L491.38 807.91M491.38 807.91L491.5 806.21M491.75 802.82L491.88 804.18M491.88 804.18L492 805.54M493.5 808.72L493.62 810.29M493.62 810.29L493.75 811.86M493.75 811.86L493.88 813.43M493.88 813.43L494 815M494 815L494.12 813.27M494.12 813.27L494.25 811.54M494.25 811.54L494.38 809.81M494.38 809.81L494.5 808.07M494.88 805.84L495 807.07M495 807.07L495.12 808.31M495.12 808.31L495.25 809.54M495.25 809.54L495.38 810.77M495.38 810.77L495.5 812M495.5 812L495.62 810.38M495.62 810.38L495.75 808.76M495.75 808.76L495.88 807.14M497.75 802.89L497.88 804.41M497.88 804.41L498 805.92M498 805.92L498.12 807.44M498.12 807.44L498.25 808.96M498.25 808.96L498.38 810.48M498.38 810.48L498.5 812M498.5 812L498.63 810.15M498.63 810.15L498.77 808.3M498.77 808.3L498.9 806.45M498.9 806.45L499.03 804.6M499.03 804.6L499.17 802.75M499.17 802.75L499.3 800.9M508.3 808.15L508.4 810.36M508.4 810.36L508.5 812.57M508.5 812.57L508.6 814.79M508.6 814.79L508.7 817M508.7 817L508.81 815.54M508.81 815.54L508.92 814.08M508.92 814.08L509.02 812.61M509.02 812.61L509.13 811.15M509.13 811.15L509.24 809.69M509.24 809.69L509.35 808.23M509.68 814.86L509.78 817.08M509.78 817.08L509.89 819.29M509.89 819.29L510 821.5M510 821.5L510.12 818.42M510.12 818.42L510.25 815.33M510.5 809.16L510.62 806.08M510.62 806.08L510.75 803M512.25 807.14L512.38 809.11M513.5 809.97L513.62 807.71M513.62 807.71L513.75 805.45M513.88 806.54L514 807.64M514 807.64L514.12 808.73M514.12 808.73L514.25 809.82M514.25 809.82L514.38 810.91M514.38 810.91L514.5 812M514.5 812L514.67 810.23M514.67 810.23L514.83 808.46M514.83 808.46L515 806.7M515.5 801.39L515.67 802.16M515.67 802.16L515.83 802.93M515.83 802.93L516 803.7M516 803.7L516.17 804.46M516.17 804.46L516.33 805.23M516.33 805.23L516.5 806M516.5 806L516.63 805.15M516.63 805.15L516.77 804.3M516.77 804.3L516.9 803.45M516.9 803.45L517.03 802.6M517.03 802.6L517.17 801.75M517.17 801.75L517.3 800.9M556 800.9L556 802.5M602.9 800.9L602.9 806.3M611.88 796.56L612.08 792.27M612.08 792.27L612.28 787.13M612.28 787.13L612.48 783.32M612.48 783.32L612.68 782.92M612.68 782.92L612.88 786.18M612.88 786.18L613.08 791.25M613.08 791.25L613.28 795.83" stroke="#60ff90" stroke-width="1.1" fill="none" stroke-linejoin="round"/>
<path d="M425.54 800.25L425.74 799.92M425.74 799.92L425.94 799.59M425.94 799.59L426.14 799.36M426.14 799.36L426.34 799.3M426.34 799.3L426.54 799.44M426.54 799.44L426.74 799.72M426.74 799.72L426.94 800.06M426.94 800.06L427.14 800.37M494.75 804.61L494.88 805.84M495.88 807.14L496 805.51M496 805.51L496.12 803.89M496.12 803.89L496.25 802.27M512.38 809.11L512.5 811.09M512.5 811.09L512.62 813.07M512.62 813.07L512.75 815.05M512.75 815.05L512.88 817.02M512.88 817.02L513 819M513 819L513.12 816.74M513.12 816.74L513.25 814.48M513.25 814.48L513.38 812.23M513.38 812.23L513.5 809.97M520.1 800.9L520.1 808.77M520.1 832.37L520.1 840.23M520.1 840.23L520.1 848.1M547 800.9L547 803M553 800.9L553 803.5M566 800.9L566 798M575.02 800.84L575.22 800.74M575.22 800.74L575.42 800.54M575.42 800.54L575.62 800.15M575.62 800.15L575.82 799.48M575.82 799.48L576.02 798.49M576.02 798.49L576.22 797.17M576.22 797.17L576.42 795.68M576.42 795.68L576.62 794.29M576.62 794.29L576.82 793.31M576.82 793.31L577.02 793M577.02 793L577.22 793.46M577.22 793.46L577.42 794.55M577.42 794.55L577.62 795.98M577.62 795.98L577.82 797.46M577.82 797.46L578.02 798.71M578.02 798.71L578.22 799.64M578.22 799.64L578.42 800.24M578.42 800.24L578.62 800.59M578.62 800.59L578.82 800.77M602.9 806.3L602.9 811.7M602.9 811.7L602.9 817.1M613.14 800.81L613.34 800.64M613.34 800.64L613.54 800.26M613.54 800.26L613.74 799.48M613.74 799.48L613.94 798.15M613.94 798.15L614.14 796.2M615.74 797.05L615.94 798.76M615.94 798.76L616.14 799.85M616.14 799.85L616.34 800.45M616.34 800.45L616.54 800.73" stroke="#f0f000" stroke-width="1.1" fill="none" stroke-linejoin="round"/>
<path d="M428.4 800.9L428.4 804.3M489.1 800.9L489.1 795.55M506.2 800.9L506.2 795.35M530.1 794.8L530.1 788.7M530.1 788.7L530.1 782.6" stroke="#0090ff" stroke-width="1.1" fill="none" stroke-linejoin="round"/>
<path d="M428.4 804.3L428.4 807.7M428.4 807.7L428.4 811.1M489.1 795.55L489.1 790.2M489.2 805.95L489.33 807.63M489.33 807.63L489.47 809.32M489.47 809.32L489.6 811M489.6 811L489.72 809.91M489.72 809.91L489.83 808.82M489.83 808.82L489.95 807.73M489.95 807.73L490.07 806.65M490.07 806.65L490.18 805.56M490.3 804.47L490.42 805.89M490.42 805.89L490.53 807.31M491.5 806.21L491.62 804.51M491.62 804.51L491.75 802.82M492 805.54L492.12 806.91M492.12 806.91L492.25 808.27M492.25 808.27L492.38 809.64M492.38 809.64L492.5 811M492.5 811L492.62 810.1M492.62 810.1L492.75 809.19M492.75 809.19L492.88 808.29M492.88 808.29L493 807.38M493 807.38L493.12 806.48M493.12 806.48L493.25 805.57M493.25 805.57L493.38 807.15M493.38 807.15L493.5 808.72M494.5 808.07L494.62 806.34M494.62 806.34L494.75 804.61M496.25 802.27L496.38 804.84M496.38 804.84L496.5 807.41M496.5 807.41L496.62 809.99M496.62 809.99L496.75 812.56M496.75 812.56L496.88 815.13M496.88 815.13L497 817.7M497 817.7L497.12 815.23M497.12 815.23L497.25 812.76M497.25 812.76L497.38 810.29M497.38 810.29L497.5 807.82M497.5 807.82L497.62 805.36M497.62 805.36L497.75 802.89M506.2 795.35L506.2 789.8M508.1 803.72L508.2 805.93M508.2 805.93L508.3 808.15M509.35 808.23L509.46 810.44M509.46 810.44L509.57 812.65M509.57 812.65L509.68 814.86M510.25 815.33L510.38 812.25M510.38 812.25L510.5 809.16M510.75 803L510.88 805M510.88 805L511 807M511 807L511.12 809M511.12 809L511.25 811M511.25 811L511.38 813M511.38 813L511.5 815M511.5 815L511.62 813.69M511.62 813.69L511.75 812.38M511.75 812.38L511.88 811.07M511.88 811.07L512 809.76M512 809.76L512.12 808.45M512.12 808.45L512.25 807.14M513.75 805.45L513.88 806.54M515 806.7L515.17 804.93M515.17 804.93L515.33 803.16M515.33 803.16L515.5 801.39M530.1 800.9L530.1 794.8M530.1 800.9L530.1 803.95M530.1 803.95L530.1 807M562 800.9L562 803M611.28 800.76L611.48 800.34M611.48 800.34L611.68 799.16M611.68 799.16L611.88 796.56M613.28 795.83L613.48 798.77M613.48 798.77L613.68 800.18M613.68 800.18L613.88 800.71M622.86 800.87L623.06 800.8M623.06 800.8L623.26 800.63M623.26 800.63L623.46 800.26M623.46 800.26L623.66 799.62M623.66 799.62L623.86 798.75M623.86 798.75L624.06 797.82M624.06 797.82L624.26 797.15M624.26 797.15L624.46 797.03M624.46 797.03L624.66 797.5M624.66 797.5L624.86 798.37M624.86 798.37L625.06 799.3M625.06 799.3L625.26 800.04M625.26 800.04L625.46 800.51M625.46 800.51L625.66 800.75M625.66 800.75L625.86 800.85" stroke="#00d0ff" stroke-width="1.1" fill="none" stroke-linejoin="round"/>
<path d="M429 800.9L478 801.3" stroke="#0050ff" stroke-width="1.3" fill="none" stroke-linejoin="round"/>
<path d="M480.6 800.9L480.6 804.93M480.6 808.97L480.6 813M520.1 808.77L520.1 816.63M520.1 824.5L520.1 832.37M577.76 800.86L577.96 800.77M577.96 800.77L578.16 800.55M578.16 800.55L578.36 800.09M578.36 800.09L578.56 799.3M579.96 798.89L580.16 799.82M580.16 799.82L580.36 800.41M580.36 800.41L580.56 800.71M580.56 800.71L580.76 800.84M583.2 800.9L583.2 795.35M583.2 795.35L583.2 789.8M614.14 796.2L614.34 793.79M614.34 793.79L614.54 791.43M614.54 791.43L614.74 789.75M614.74 789.75L614.94 789.33M614.94 789.33L615.14 790.3M615.14 790.3L615.34 792.33M615.34 792.33L615.54 794.78M615.54 794.78L615.74 797.05" stroke="#ff8000" stroke-width="1.1" fill="none" stroke-linejoin="round"/>
<path d="M480.6 804.93L480.6 808.97M520.1 816.63L520.1 824.5M578.56 799.3L578.76 798.2M578.76 798.2L578.96 797.03M578.96 797.03L579.16 796.19M579.16 796.19L579.36 796.04M579.36 796.04L579.56 796.63M579.56 796.63L579.76 797.72M579.76 797.72L579.96 798.89" stroke="#ff1000" stroke-width="1.1" fill="none" stroke-linejoin="round"/>
<path d="M488.8 800.9L488.93 802.58M488.93 802.58L489.07 804.27M489.07 804.27L489.2 805.95M490.18 805.56L490.3 804.47M506.7 800.9L506.83 802.75M506.83 802.75L506.97 804.6M506.97 804.6L507.1 806.45M507.1 806.45L507.23 808.3M507.23 808.3L507.37 810.15M507.37 810.15L507.5 812M507.5 812L507.6 810.62M507.6 810.62L507.7 809.24M507.7 809.24L507.8 807.86M507.8 807.86L507.9 806.48M507.9 806.48L508 805.1M508 805.1L508.1 803.72" stroke="#0050ff" stroke-width="1.1" fill="none" stroke-linejoin="round"/>
<path d="M499 800.9L501 799.6L503 799.2L505 799.8L507 800.9M507 800.9L508 801.1L509 800.41L510 800.45L511 801.01L512 800.59L513 801.35L514 800.88L515 800.69L516 801.26L517 800.34L518 801.17L519 800.9M519 800.9L520 800.45L521 800.55L522 801.35L523 801.08L524 800.62L525 800.52L526 801.37L527 801.07L528 801.22L529 800.54L530 801.02L531 800.75L532 800.64L533 800.73L534 801.01L535 800.75L536 800.79L537 800.54L538 801.23L539 801.05L540 801.2L541 800.83L542 801.25L543 800.92L544 800.99L545 800.9M545 801.4L546 801.52L547 801.78L548 801.23L549 800.76L550 800.65L551 800.92L552 800.66L553 802.02L554 801.37L555 801.82L556 800.6L557 801.35L558 802.02L559 801.59L560 801.29L561 801.34L562 800.76L563 800.85L564 800.85L565 801.2L566 801.22L567 802.01L568 800.84L569 801.01L570 801.04L571 800.86L572 801.06L573 800.98L574 801.37L575 801.4M584 800.9L585 800.53L586 801.24L587 800.8L588 801.25L589 801.05L590 801.04L591 800.88L592 801.26L593 800.59L594 801.03L595 800.73L596 801.04L597 801.08L598 800.63L599 800.66L600 800.52L601 800.9M601 800.9L602 800.63L603 800.48L604 800.8L605 801.37L606 800.76L607 800.71L608 800.87L609 800.9M616 801.4L616.71 800.88L617.43 801.96L618.14 801.92L618.86 800.59L619.57 800.78L620.29 801.81L621 802.46L621.71 801.75L622.43 801.23L623.14 802.54L623.86 800.22L624.57 800.35L625.29 802.07L626 801.18L626.71 800.31L627.43 801.52L628.14 802.58L628.86 801.45L629.57 801.04L630.29 800.43L631 801.4" stroke="#0050ff" stroke-width="1.2" fill="none" stroke-linejoin="round"/>
<path d="M522.4 800.9L522.4 794.07M632.12 797.46L632.32 795.03M632.32 795.03L632.52 791.84M634.12 792.53L634.32 795.59M634.32 795.59L634.52 797.84" stroke="#60ff90" stroke-width="1.3" fill="none" stroke-linejoin="round"/>
<path d="M522.4 794.07L522.4 787.23M631.32 800.75L631.52 800.52M631.52 800.52L631.72 800.02M631.72 800.02L631.92 799.07M631.92 799.07L632.12 797.46M634.52 797.84L634.72 799.31M634.72 799.31L634.92 800.15M634.92 800.15L635.12 800.58" stroke="#00d0ff" stroke-width="1.3" fill="none" stroke-linejoin="round"/>
<path d="M522.4 787.23L522.4 780.4M522.4 780.4L522.4 773.57M632.52 791.84L632.72 788.23M632.72 788.23L632.92 784.84M632.92 784.84L633.12 782.45M633.12 782.45L633.32 781.71M633.32 781.71L633.52 782.81M633.52 782.81L633.72 785.46M633.72 785.46L633.92 788.95M633.92 788.95L634.12 792.53" stroke="#f0f000" stroke-width="1.3" fill="none" stroke-linejoin="round"/>
<path d="M522.4 773.57L522.4 766.73M522.4 766.73L522.4 759.9" stroke="#ff8000" stroke-width="1.3" fill="none" stroke-linejoin="round"/>
<path d="M602.9 817.1L602.9 822.5" stroke="#ffd000" stroke-width="1.1" fill="none" stroke-linejoin="round"/>
<path d="M610.1 800.9L610.1 811.03M610.1 811.03L610.1 821.16" stroke="#60ff90" stroke-width="1.2" fill="none" stroke-linejoin="round"/>
<path d="M610.1 821.16L610.1 831.29" stroke="#ff8000" stroke-width="1.2" fill="none" stroke-linejoin="round"/>
<path d="M610.1 831.29L610.1 841.41M610.1 841.41L610.1 851.54M610.1 861.67L610.1 871.8" stroke="#f0f000" stroke-width="1.2" fill="none" stroke-linejoin="round"/>
<path d="M610.1 851.54L610.1 861.67" stroke="#ffd000" stroke-width="1.2" fill="none" stroke-linejoin="round"/>
<line x1="545.2" y1="790.6" x2="545.2" y2="797.4" stroke="#111" stroke-width="1.1"/>
<text x="546.6" y="787.04" font-size="9.6" font-family='"Liberation Serif", serif' font-weight="bold" text-anchor="middle" fill="#111">DMA</text>
<line x1="579.8" y1="781.1" x2="579.8" y2="792.1" stroke="#111" stroke-width="1.1"/>
<text x="579.6" y="777.94" font-size="9.6" font-family='"Liberation Serif", serif' font-weight="bold" text-anchor="middle" fill="#111">AA</text>
</svg></body></html>
